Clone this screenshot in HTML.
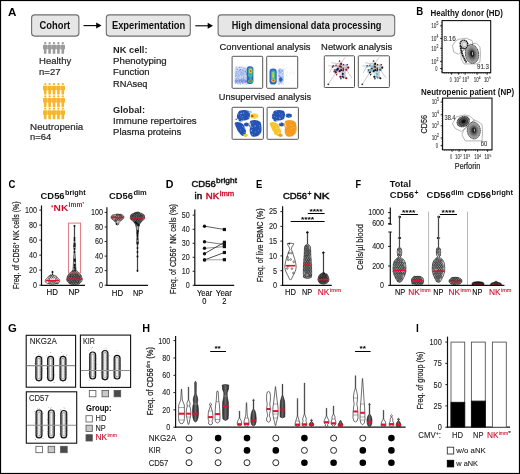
<!DOCTYPE html>
<html><head><meta charset="utf-8"><style>
html,body{margin:0;padding:0;background:#fff;}
svg{display:block;font-family:"Liberation Sans", sans-serif;will-change:transform;}
</style></head><body>
<svg width="520" height="474" viewBox="0 0 520 474">
<defs><filter id="bl1" x="-20%" y="-20%" width="140%" height="140%"><feGaussianBlur stdDeviation="0.7"/></filter>
<filter id="bl2" x="-20%" y="-20%" width="140%" height="140%"><feGaussianBlur stdDeviation="0.45"/></filter><linearGradient id="colg" x1="0" y1="0" x2="1" y2="0"><stop offset="0" stop-color="#888"/><stop offset="0.25" stop-color="#bbb"/><stop offset="0.5" stop-color="#fafafa"/><stop offset="0.75" stop-color="#bbb"/><stop offset="1" stop-color="#888"/></linearGradient>
<radialGradient id="mainblob"><stop offset="0" stop-color="#2a2a2a"/><stop offset="0.4" stop-color="#555"/><stop offset="0.75" stop-color="#999"/><stop offset="1" stop-color="#bbb"/></radialGradient>
<radialGradient id="darkblob"><stop offset="0" stop-color="#222"/><stop offset="0.6" stop-color="#555"/><stop offset="1" stop-color="#999"/></radialGradient>
<filter id="bl3" x="-30%" y="-30%" width="160%" height="160%"><feGaussianBlur stdDeviation="1.2"/></filter>
<linearGradient id="dkv" x1="0" y1="0" x2="1" y2="0"><stop offset="0" stop-color="#2a2a2a"/><stop offset="0.5" stop-color="#666"/><stop offset="1" stop-color="#2a2a2a"/></linearGradient>
</defs>
<rect x="0" y="0" width="520" height="474" fill="#fff"/>
<text x="8.00" y="16.00" font-size="10.92" font-weight="bold" fill="#000" textLength="8.40" lengthAdjust="spacingAndGlyphs" >A</text>
<rect x="31.60" y="14.90" width="47.30" height="21.20" fill="#e6e6e6" stroke="#6e6e6e" stroke-width="1.1" rx="3" />
<text x="39.50" y="28.70" font-size="10.07" font-weight="bold" fill="#111" textLength="30.70" lengthAdjust="spacingAndGlyphs" >Cohort</text>
<rect x="106.30" y="14.90" width="84.00" height="21.20" fill="#e6e6e6" stroke="#6e6e6e" stroke-width="1.1" rx="3" />
<text x="111.90" y="28.70" font-size="10.07" font-weight="bold" fill="#111" textLength="73.30" lengthAdjust="spacingAndGlyphs" >Experimentation</text>
<rect x="218.10" y="14.90" width="176.60" height="21.20" fill="#e6e6e6" stroke="#6e6e6e" stroke-width="1.1" rx="3" />
<text x="231.70" y="28.70" font-size="10.07" font-weight="bold" fill="#111" textLength="149.70" lengthAdjust="spacingAndGlyphs" >High dimensional data processing</text>
<line x1="83.50" y1="25.60" x2="97.50" y2="25.60" stroke="#000" stroke-width="1.1" />
<path d="M96.20,22.60 L101.50,25.60 L96.20,28.60 Z" fill="#000" stroke="none" stroke-width="1" />
<line x1="195.30" y1="25.80" x2="209.00" y2="25.80" stroke="#000" stroke-width="1.1" />
<path d="M207.70,22.80 L213.00,25.80 L207.70,28.80 Z" fill="#000" stroke="none" stroke-width="1" />
<g fill="#9b9b9b"><circle cx="45.20" cy="43.20" r="1.15"/><path d="M43.00,45.50 Q43.00,44.80 43.80,44.80 L46.60,44.80 Q47.40,44.80 47.40,45.50 L47.40,49.30 L46.50,49.30 L46.50,53.70 L43.90,53.70 L43.90,49.30 L43.00,49.30 Z"/></g>
<g fill="#9b9b9b"><circle cx="49.60" cy="43.20" r="1.15"/><path d="M47.40,45.50 Q47.40,44.80 48.20,44.80 L51.00,44.80 Q51.80,44.80 51.80,45.50 L51.80,49.30 L50.90,49.30 L50.90,53.70 L48.30,53.70 L48.30,49.30 L47.40,49.30 Z"/></g>
<g fill="#9b9b9b"><circle cx="54.00" cy="43.20" r="1.15"/><path d="M51.80,45.50 Q51.80,44.80 52.60,44.80 L55.40,44.80 Q56.20,44.80 56.20,45.50 L56.20,49.30 L55.30,49.30 L55.30,53.70 L52.70,53.70 L52.70,49.30 L51.80,49.30 Z"/></g>
<g fill="#9b9b9b"><circle cx="58.40" cy="43.20" r="1.15"/><path d="M56.20,45.50 Q56.20,44.80 57.00,44.80 L59.80,44.80 Q60.60,44.80 60.60,45.50 L60.60,49.30 L59.70,49.30 L59.70,53.70 L57.10,53.70 L57.10,49.30 L56.20,49.30 Z"/></g>
<g fill="#9b9b9b"><circle cx="62.80" cy="43.20" r="1.15"/><path d="M60.60,45.50 Q60.60,44.80 61.40,44.80 L64.20,44.80 Q65.00,44.80 65.00,45.50 L65.00,49.30 L64.10,49.30 L64.10,53.70 L61.50,53.70 L61.50,49.30 L60.60,49.30 Z"/></g>
<g fill="#f6b52c"><circle cx="45.20" cy="84.10" r="1.15"/><path d="M43.00,86.40 Q43.00,85.70 43.80,85.70 L46.60,85.70 Q47.40,85.70 47.40,86.40 L47.40,90.20 L46.50,90.20 L46.50,94.60 L43.90,94.60 L43.90,90.20 L43.00,90.20 Z"/></g>
<g fill="#f6b52c"><circle cx="49.60" cy="84.10" r="1.15"/><path d="M47.40,86.40 Q47.40,85.70 48.20,85.70 L51.00,85.70 Q51.80,85.70 51.80,86.40 L51.80,90.20 L50.90,90.20 L50.90,94.60 L48.30,94.60 L48.30,90.20 L47.40,90.20 Z"/></g>
<g fill="#f6b52c"><circle cx="54.00" cy="84.10" r="1.15"/><path d="M51.80,86.40 Q51.80,85.70 52.60,85.70 L55.40,85.70 Q56.20,85.70 56.20,86.40 L56.20,90.20 L55.30,90.20 L55.30,94.60 L52.70,94.60 L52.70,90.20 L51.80,90.20 Z"/></g>
<g fill="#f6b52c"><circle cx="58.40" cy="84.10" r="1.15"/><path d="M56.20,86.40 Q56.20,85.70 57.00,85.70 L59.80,85.70 Q60.60,85.70 60.60,86.40 L60.60,90.20 L59.70,90.20 L59.70,94.60 L57.10,94.60 L57.10,90.20 L56.20,90.20 Z"/></g>
<g fill="#f6b52c"><circle cx="62.80" cy="84.10" r="1.15"/><path d="M60.60,86.40 Q60.60,85.70 61.40,85.70 L64.20,85.70 Q65.00,85.70 65.00,86.40 L65.00,90.20 L64.10,90.20 L64.10,94.60 L61.50,94.60 L61.50,90.20 L60.60,90.20 Z"/></g>
<g fill="#f6b52c"><circle cx="45.20" cy="96.40" r="1.15"/><path d="M43.00,98.70 Q43.00,98.00 43.80,98.00 L46.60,98.00 Q47.40,98.00 47.40,98.70 L47.40,102.50 L46.50,102.50 L46.50,106.90 L43.90,106.90 L43.90,102.50 L43.00,102.50 Z"/></g>
<g fill="#f6b52c"><circle cx="49.60" cy="96.40" r="1.15"/><path d="M47.40,98.70 Q47.40,98.00 48.20,98.00 L51.00,98.00 Q51.80,98.00 51.80,98.70 L51.80,102.50 L50.90,102.50 L50.90,106.90 L48.30,106.90 L48.30,102.50 L47.40,102.50 Z"/></g>
<g fill="#f6b52c"><circle cx="54.00" cy="96.40" r="1.15"/><path d="M51.80,98.70 Q51.80,98.00 52.60,98.00 L55.40,98.00 Q56.20,98.00 56.20,98.70 L56.20,102.50 L55.30,102.50 L55.30,106.90 L52.70,106.90 L52.70,102.50 L51.80,102.50 Z"/></g>
<g fill="#f6b52c"><circle cx="58.40" cy="96.40" r="1.15"/><path d="M56.20,98.70 Q56.20,98.00 57.00,98.00 L59.80,98.00 Q60.60,98.00 60.60,98.70 L60.60,102.50 L59.70,102.50 L59.70,106.90 L57.10,106.90 L57.10,102.50 L56.20,102.50 Z"/></g>
<g fill="#f6b52c"><circle cx="62.80" cy="96.40" r="1.15"/><path d="M60.60,98.70 Q60.60,98.00 61.40,98.00 L64.20,98.00 Q65.00,98.00 65.00,98.70 L65.00,102.50 L64.10,102.50 L64.10,106.90 L61.50,106.90 L61.50,102.50 L60.60,102.50 Z"/></g>
<g fill="#f6b52c"><circle cx="45.20" cy="108.70" r="1.15"/><path d="M43.00,111.00 Q43.00,110.30 43.80,110.30 L46.60,110.30 Q47.40,110.30 47.40,111.00 L47.40,114.80 L46.50,114.80 L46.50,119.20 L43.90,119.20 L43.90,114.80 L43.00,114.80 Z"/></g>
<g fill="#f6b52c"><circle cx="49.60" cy="108.70" r="1.15"/><path d="M47.40,111.00 Q47.40,110.30 48.20,110.30 L51.00,110.30 Q51.80,110.30 51.80,111.00 L51.80,114.80 L50.90,114.80 L50.90,119.20 L48.30,119.20 L48.30,114.80 L47.40,114.80 Z"/></g>
<g fill="#f6b52c"><circle cx="54.00" cy="108.70" r="1.15"/><path d="M51.80,111.00 Q51.80,110.30 52.60,110.30 L55.40,110.30 Q56.20,110.30 56.20,111.00 L56.20,114.80 L55.30,114.80 L55.30,119.20 L52.70,119.20 L52.70,114.80 L51.80,114.80 Z"/></g>
<g fill="#f6b52c"><circle cx="58.40" cy="108.70" r="1.15"/><path d="M56.20,111.00 Q56.20,110.30 57.00,110.30 L59.80,110.30 Q60.60,110.30 60.60,111.00 L60.60,114.80 L59.70,114.80 L59.70,119.20 L57.10,119.20 L57.10,114.80 L56.20,114.80 Z"/></g>
<g fill="#f6b52c"><circle cx="62.80" cy="108.70" r="1.15"/><path d="M60.60,111.00 Q60.60,110.30 61.40,110.30 L64.20,110.30 Q65.00,110.30 65.00,111.00 L65.00,114.80 L64.10,114.80 L64.10,119.20 L61.50,119.20 L61.50,114.80 L60.60,114.80 Z"/></g>
<text x="39.00" y="64.20" font-size="9.86" fill="#2a2a2a" textLength="32.30" lengthAdjust="spacingAndGlyphs" stroke="#2a2a2a" stroke-width="0.22" >Healthy</text>
<text x="39.00" y="75.30" font-size="9.86" fill="#2a2a2a" textLength="21.50" lengthAdjust="spacingAndGlyphs" stroke="#2a2a2a" stroke-width="0.22" >n=27</text>
<text x="30.10" y="129.80" font-size="9.86" fill="#2a2a2a" textLength="53.20" lengthAdjust="spacingAndGlyphs" stroke="#2a2a2a" stroke-width="0.22" >Neutropenia</text>
<text x="30.10" y="140.20" font-size="9.86" fill="#2a2a2a" textLength="21.20" lengthAdjust="spacingAndGlyphs" stroke="#2a2a2a" stroke-width="0.22" >n=64</text>
<text x="113.10" y="52.70" font-size="9.96" font-weight="bold" fill="#1e1e1e" textLength="34.40" lengthAdjust="spacingAndGlyphs" >NK cell:</text>
<text x="113.10" y="63.90" font-size="9.96" fill="#1e1e1e" textLength="53.60" lengthAdjust="spacingAndGlyphs" stroke="#1e1e1e" stroke-width="0.22" >Phenotyping</text>
<text x="113.10" y="75.30" font-size="9.96" fill="#1e1e1e" textLength="36.50" lengthAdjust="spacingAndGlyphs" stroke="#1e1e1e" stroke-width="0.22" >Function</text>
<text x="113.10" y="86.80" font-size="9.96" fill="#1e1e1e" textLength="34.40" lengthAdjust="spacingAndGlyphs" stroke="#1e1e1e" stroke-width="0.22" >RNAseq</text>
<text x="113.10" y="112.80" font-size="9.96" font-weight="bold" fill="#1e1e1e" textLength="31.90" lengthAdjust="spacingAndGlyphs" >Global:</text>
<text x="113.10" y="124.10" font-size="9.96" fill="#1e1e1e" textLength="83.50" lengthAdjust="spacingAndGlyphs" stroke="#1e1e1e" stroke-width="0.22" >Immune repertoires</text>
<text x="113.10" y="135.30" font-size="9.96" fill="#1e1e1e" textLength="68.10" lengthAdjust="spacingAndGlyphs" stroke="#1e1e1e" stroke-width="0.22" >Plasma proteins</text>
<text x="219.60" y="49.70" font-size="9.86" fill="#1e1e1e" textLength="90.90" lengthAdjust="spacingAndGlyphs" stroke="#1e1e1e" stroke-width="0.22" >Conventional analysis</text>
<text x="321.10" y="49.70" font-size="9.86" fill="#1e1e1e" textLength="71.10" lengthAdjust="spacingAndGlyphs" stroke="#1e1e1e" stroke-width="0.22" >Network analysis</text>
<text x="218.80" y="100.40" font-size="9.86" fill="#1e1e1e" textLength="92.40" lengthAdjust="spacingAndGlyphs" stroke="#1e1e1e" stroke-width="0.22" >Unsupervised analysis</text>
<g filter="url(#bl3)" opacity="0.55"><rect x="235" y="67.5" width="13" height="15.5" fill="#9db3ea"/><rect x="235" y="80" width="16" height="3.2" fill="#5b80d8"/></g>
<g filter="url(#bl3)" opacity="0.5"><rect x="278" y="69" width="5" height="14.5" fill="#8aa4e6"/></g>
<rect x="243.53" y="79.48" width="0.7" height="0.7" fill="#3b68d0" opacity="0.72"/>
<rect x="248.90" y="82.03" width="0.7" height="0.7" fill="#2a56c4" opacity="0.57"/>
<rect x="239.47" y="82.30" width="0.7" height="0.7" fill="#2a56c4" opacity="0.38"/>
<rect x="246.06" y="68.93" width="0.7" height="0.7" fill="#5a82dc" opacity="0.37"/>
<rect x="248.60" y="66.59" width="0.7" height="0.7" fill="#5a82dc" opacity="0.74"/>
<rect x="238.69" y="83.33" width="0.7" height="0.7" fill="#5a82dc" opacity="0.39"/>
<rect x="248.54" y="69.95" width="0.7" height="0.7" fill="#2a56c4" opacity="0.45"/>
<rect x="244.65" y="82.28" width="0.7" height="0.7" fill="#3b68d0" opacity="0.60"/>
<rect x="244.76" y="67.66" width="0.7" height="0.7" fill="#7f9fe4" opacity="0.54"/>
<rect x="239.08" y="74.92" width="0.7" height="0.7" fill="#3b68d0" opacity="0.43"/>
<rect x="248.12" y="83.11" width="0.7" height="0.7" fill="#2a56c4" opacity="0.31"/>
<rect x="245.92" y="72.91" width="0.7" height="0.7" fill="#3b68d0" opacity="0.53"/>
<rect x="244.76" y="77.41" width="0.7" height="0.7" fill="#3b68d0" opacity="0.68"/>
<rect x="240.68" y="81.84" width="0.7" height="0.7" fill="#7f9fe4" opacity="0.69"/>
<rect x="236.07" y="79.60" width="0.7" height="0.7" fill="#7f9fe4" opacity="0.32"/>
<rect x="240.44" y="79.78" width="0.7" height="0.7" fill="#3b68d0" opacity="0.46"/>
<rect x="237.38" y="80.07" width="0.7" height="0.7" fill="#7f9fe4" opacity="0.80"/>
<rect x="236.84" y="67.35" width="0.7" height="0.7" fill="#2a56c4" opacity="0.32"/>
<rect x="250.66" y="81.17" width="0.7" height="0.7" fill="#3b68d0" opacity="0.70"/>
<rect x="239.35" y="70.12" width="0.7" height="0.7" fill="#5a82dc" opacity="0.62"/>
<rect x="245.93" y="68.37" width="0.7" height="0.7" fill="#5a82dc" opacity="0.33"/>
<rect x="240.60" y="68.97" width="0.7" height="0.7" fill="#5a82dc" opacity="0.79"/>
<rect x="241.08" y="75.04" width="0.7" height="0.7" fill="#2a56c4" opacity="0.44"/>
<rect x="248.15" y="81.04" width="0.7" height="0.7" fill="#5a82dc" opacity="0.61"/>
<rect x="248.88" y="81.26" width="0.7" height="0.7" fill="#7f9fe4" opacity="0.33"/>
<rect x="246.03" y="72.72" width="0.7" height="0.7" fill="#3b68d0" opacity="0.68"/>
<rect x="242.77" y="83.23" width="0.7" height="0.7" fill="#7f9fe4" opacity="0.78"/>
<rect x="239.43" y="69.63" width="0.7" height="0.7" fill="#2a56c4" opacity="0.57"/>
<rect x="238.14" y="78.25" width="0.7" height="0.7" fill="#7f9fe4" opacity="0.47"/>
<rect x="243.84" y="79.41" width="0.7" height="0.7" fill="#7f9fe4" opacity="0.76"/>
<rect x="237.00" y="81.67" width="0.7" height="0.7" fill="#7f9fe4" opacity="0.78"/>
<rect x="242.64" y="82.72" width="0.7" height="0.7" fill="#3b68d0" opacity="0.66"/>
<rect x="245.09" y="69.51" width="0.7" height="0.7" fill="#2a56c4" opacity="0.45"/>
<rect x="250.94" y="79.49" width="0.7" height="0.7" fill="#5a82dc" opacity="0.38"/>
<rect x="235.67" y="80.95" width="0.7" height="0.7" fill="#2a56c4" opacity="0.79"/>
<rect x="250.49" y="80.20" width="0.7" height="0.7" fill="#2a56c4" opacity="0.40"/>
<rect x="235.02" y="74.64" width="0.7" height="0.7" fill="#3b68d0" opacity="0.60"/>
<rect x="241.56" y="80.83" width="0.7" height="0.7" fill="#3b68d0" opacity="0.64"/>
<rect x="242.44" y="83.38" width="0.7" height="0.7" fill="#7f9fe4" opacity="0.35"/>
<rect x="242.41" y="72.44" width="0.7" height="0.7" fill="#7f9fe4" opacity="0.71"/>
<rect x="240.58" y="80.73" width="0.7" height="0.7" fill="#7f9fe4" opacity="0.53"/>
<rect x="236.77" y="73.20" width="0.7" height="0.7" fill="#5a82dc" opacity="0.78"/>
<rect x="243.32" y="72.64" width="0.7" height="0.7" fill="#3b68d0" opacity="0.49"/>
<rect x="239.23" y="82.54" width="0.7" height="0.7" fill="#7f9fe4" opacity="0.61"/>
<rect x="247.42" y="73.08" width="0.7" height="0.7" fill="#5a82dc" opacity="0.55"/>
<rect x="241.45" y="78.90" width="0.7" height="0.7" fill="#5a82dc" opacity="0.60"/>
<rect x="238.27" y="83.67" width="0.7" height="0.7" fill="#2a56c4" opacity="0.31"/>
<rect x="248.21" y="71.88" width="0.7" height="0.7" fill="#5a82dc" opacity="0.54"/>
<rect x="236.27" y="77.38" width="0.7" height="0.7" fill="#7f9fe4" opacity="0.32"/>
<rect x="236.48" y="73.37" width="0.7" height="0.7" fill="#7f9fe4" opacity="0.42"/>
<rect x="241.38" y="67.14" width="0.7" height="0.7" fill="#5a82dc" opacity="0.66"/>
<rect x="238.64" y="75.11" width="0.7" height="0.7" fill="#3b68d0" opacity="0.31"/>
<rect x="236.33" y="71.44" width="0.7" height="0.7" fill="#7f9fe4" opacity="0.67"/>
<rect x="234.89" y="72.62" width="0.7" height="0.7" fill="#5a82dc" opacity="0.32"/>
<rect x="238.16" y="74.47" width="0.7" height="0.7" fill="#5a82dc" opacity="0.31"/>
<rect x="245.79" y="73.99" width="0.7" height="0.7" fill="#2a56c4" opacity="0.73"/>
<rect x="246.70" y="74.83" width="0.7" height="0.7" fill="#5a82dc" opacity="0.75"/>
<rect x="235.05" y="81.95" width="0.7" height="0.7" fill="#2a56c4" opacity="0.59"/>
<rect x="249.22" y="82.28" width="0.7" height="0.7" fill="#7f9fe4" opacity="0.57"/>
<rect x="246.72" y="82.83" width="0.7" height="0.7" fill="#7f9fe4" opacity="0.71"/>
<rect x="250.97" y="81.02" width="0.7" height="0.7" fill="#2a56c4" opacity="0.32"/>
<rect x="246.71" y="70.34" width="0.7" height="0.7" fill="#3b68d0" opacity="0.66"/>
<rect x="236.45" y="71.62" width="0.7" height="0.7" fill="#5a82dc" opacity="0.39"/>
<rect x="238.41" y="78.77" width="0.7" height="0.7" fill="#3b68d0" opacity="0.63"/>
<rect x="245.31" y="71.40" width="0.7" height="0.7" fill="#3b68d0" opacity="0.67"/>
<rect x="247.24" y="68.85" width="0.7" height="0.7" fill="#7f9fe4" opacity="0.64"/>
<rect x="241.60" y="72.68" width="0.7" height="0.7" fill="#3b68d0" opacity="0.37"/>
<rect x="238.77" y="76.45" width="0.7" height="0.7" fill="#7f9fe4" opacity="0.76"/>
<rect x="247.01" y="80.77" width="0.7" height="0.7" fill="#5a82dc" opacity="0.70"/>
<rect x="247.02" y="74.43" width="0.7" height="0.7" fill="#5a82dc" opacity="0.66"/>
<rect x="244.00" y="67.99" width="0.7" height="0.7" fill="#3b68d0" opacity="0.73"/>
<rect x="241.84" y="74.44" width="0.7" height="0.7" fill="#2a56c4" opacity="0.54"/>
<rect x="246.60" y="81.26" width="0.7" height="0.7" fill="#3b68d0" opacity="0.72"/>
<rect x="248.20" y="74.01" width="0.7" height="0.7" fill="#3b68d0" opacity="0.34"/>
<rect x="248.37" y="81.21" width="0.7" height="0.7" fill="#7f9fe4" opacity="0.47"/>
<rect x="243.40" y="72.60" width="0.7" height="0.7" fill="#5a82dc" opacity="0.66"/>
<rect x="239.70" y="71.68" width="0.7" height="0.7" fill="#7f9fe4" opacity="0.56"/>
<rect x="243.09" y="76.53" width="0.7" height="0.7" fill="#2a56c4" opacity="0.33"/>
<rect x="242.84" y="80.57" width="0.7" height="0.7" fill="#2a56c4" opacity="0.63"/>
<rect x="240.17" y="83.57" width="0.7" height="0.7" fill="#2a56c4" opacity="0.35"/>
<rect x="236.74" y="69.28" width="0.7" height="0.7" fill="#2a56c4" opacity="0.73"/>
<rect x="248.09" y="80.60" width="0.7" height="0.7" fill="#7f9fe4" opacity="0.64"/>
<rect x="235.94" y="81.51" width="0.7" height="0.7" fill="#3b68d0" opacity="0.64"/>
<rect x="245.70" y="80.63" width="0.7" height="0.7" fill="#7f9fe4" opacity="0.53"/>
<rect x="245.50" y="81.21" width="0.7" height="0.7" fill="#2a56c4" opacity="0.76"/>
<rect x="240.78" y="80.22" width="0.7" height="0.7" fill="#3b68d0" opacity="0.67"/>
<rect x="245.33" y="80.38" width="0.7" height="0.7" fill="#2a56c4" opacity="0.66"/>
<rect x="238.43" y="74.58" width="0.7" height="0.7" fill="#2a56c4" opacity="0.38"/>
<rect x="234.98" y="81.12" width="0.7" height="0.7" fill="#7f9fe4" opacity="0.77"/>
<rect x="244.89" y="70.65" width="0.7" height="0.7" fill="#3b68d0" opacity="0.77"/>
<rect x="241.36" y="79.40" width="0.7" height="0.7" fill="#3b68d0" opacity="0.32"/>
<rect x="246.58" y="74.30" width="0.7" height="0.7" fill="#3b68d0" opacity="0.78"/>
<rect x="237.32" y="78.68" width="0.7" height="0.7" fill="#5a82dc" opacity="0.57"/>
<rect x="244.57" y="79.32" width="0.7" height="0.7" fill="#5a82dc" opacity="0.61"/>
<rect x="240.90" y="72.76" width="0.7" height="0.7" fill="#2a56c4" opacity="0.56"/>
<rect x="236.42" y="66.72" width="0.7" height="0.7" fill="#2a56c4" opacity="0.75"/>
<rect x="242.73" y="80.91" width="0.7" height="0.7" fill="#7f9fe4" opacity="0.71"/>
<rect x="241.86" y="81.51" width="0.7" height="0.7" fill="#5a82dc" opacity="0.44"/>
<rect x="241.64" y="70.85" width="0.7" height="0.7" fill="#7f9fe4" opacity="0.74"/>
<rect x="247.34" y="67.76" width="0.7" height="0.7" fill="#2a56c4" opacity="0.68"/>
<rect x="242.56" y="82.18" width="0.7" height="0.7" fill="#5a82dc" opacity="0.59"/>
<rect x="240.91" y="80.79" width="0.7" height="0.7" fill="#3b68d0" opacity="0.66"/>
<rect x="244.67" y="71.18" width="0.7" height="0.7" fill="#2a56c4" opacity="0.58"/>
<rect x="242.96" y="81.92" width="0.7" height="0.7" fill="#7f9fe4" opacity="0.44"/>
<rect x="235.42" y="79.87" width="0.7" height="0.7" fill="#3b68d0" opacity="0.36"/>
<rect x="248.56" y="80.96" width="0.7" height="0.7" fill="#7f9fe4" opacity="0.77"/>
<rect x="243.37" y="70.54" width="0.7" height="0.7" fill="#7f9fe4" opacity="0.40"/>
<rect x="239.69" y="69.36" width="0.7" height="0.7" fill="#5a82dc" opacity="0.66"/>
<rect x="250.02" y="81.23" width="0.7" height="0.7" fill="#2a56c4" opacity="0.36"/>
<rect x="239.10" y="82.51" width="0.7" height="0.7" fill="#2a56c4" opacity="0.39"/>
<rect x="242.57" y="80.45" width="0.7" height="0.7" fill="#2a56c4" opacity="0.60"/>
<rect x="236.00" y="80.75" width="0.7" height="0.7" fill="#3b68d0" opacity="0.40"/>
<rect x="242.43" y="81.24" width="0.7" height="0.7" fill="#5a82dc" opacity="0.44"/>
<rect x="237.42" y="76.34" width="0.7" height="0.7" fill="#5a82dc" opacity="0.48"/>
<rect x="246.23" y="80.75" width="0.7" height="0.7" fill="#3b68d0" opacity="0.61"/>
<rect x="240.31" y="69.00" width="0.7" height="0.7" fill="#2a56c4" opacity="0.49"/>
<rect x="235.86" y="73.45" width="0.7" height="0.7" fill="#7f9fe4" opacity="0.75"/>
<rect x="245.93" y="80.60" width="0.7" height="0.7" fill="#3b68d0" opacity="0.70"/>
<rect x="239.96" y="66.68" width="0.7" height="0.7" fill="#5a82dc" opacity="0.71"/>
<rect x="234.82" y="78.36" width="0.7" height="0.7" fill="#2a56c4" opacity="0.55"/>
<rect x="242.41" y="78.59" width="0.7" height="0.7" fill="#3b68d0" opacity="0.57"/>
<rect x="246.08" y="72.85" width="0.7" height="0.7" fill="#5a82dc" opacity="0.44"/>
<rect x="235.63" y="68.03" width="0.7" height="0.7" fill="#2a56c4" opacity="0.45"/>
<rect x="247.97" y="71.31" width="0.7" height="0.7" fill="#3b68d0" opacity="0.32"/>
<rect x="249.92" y="80.43" width="0.7" height="0.7" fill="#5a82dc" opacity="0.54"/>
<rect x="247.57" y="82.94" width="0.7" height="0.7" fill="#2a56c4" opacity="0.50"/>
<rect x="249.56" y="80.27" width="0.7" height="0.7" fill="#7f9fe4" opacity="0.49"/>
<rect x="236.08" y="78.55" width="0.7" height="0.7" fill="#7f9fe4" opacity="0.42"/>
<rect x="235.95" y="71.64" width="0.7" height="0.7" fill="#3b68d0" opacity="0.75"/>
<rect x="236.93" y="77.57" width="0.7" height="0.7" fill="#5a82dc" opacity="0.63"/>
<rect x="242.76" y="77.46" width="0.7" height="0.7" fill="#2a56c4" opacity="0.51"/>
<rect x="240.67" y="75.75" width="0.7" height="0.7" fill="#7f9fe4" opacity="0.51"/>
<rect x="241.75" y="79.74" width="0.7" height="0.7" fill="#5a82dc" opacity="0.36"/>
<rect x="245.34" y="81.99" width="0.7" height="0.7" fill="#7f9fe4" opacity="0.66"/>
<rect x="235.39" y="74.98" width="0.7" height="0.7" fill="#3b68d0" opacity="0.46"/>
<rect x="246.83" y="77.79" width="0.7" height="0.7" fill="#5a82dc" opacity="0.75"/>
<rect x="243.42" y="80.46" width="0.7" height="0.7" fill="#3b68d0" opacity="0.40"/>
<rect x="244.85" y="82.75" width="0.7" height="0.7" fill="#3b68d0" opacity="0.59"/>
<rect x="240.90" y="72.15" width="0.7" height="0.7" fill="#5a82dc" opacity="0.66"/>
<rect x="247.90" y="83.25" width="0.7" height="0.7" fill="#3b68d0" opacity="0.48"/>
<rect x="250.81" y="82.48" width="0.7" height="0.7" fill="#3b68d0" opacity="0.42"/>
<rect x="250.69" y="83.36" width="0.7" height="0.7" fill="#7f9fe4" opacity="0.37"/>
<rect x="250.00" y="81.44" width="0.7" height="0.7" fill="#7f9fe4" opacity="0.31"/>
<rect x="246.24" y="83.98" width="0.7" height="0.7" fill="#5a82dc" opacity="0.76"/>
<rect x="240.04" y="71.59" width="0.7" height="0.7" fill="#3b68d0" opacity="0.59"/>
<rect x="238.79" y="72.40" width="0.7" height="0.7" fill="#2a56c4" opacity="0.33"/>
<rect x="240.60" y="70.66" width="0.7" height="0.7" fill="#3b68d0" opacity="0.37"/>
<rect x="248.53" y="76.18" width="0.7" height="0.7" fill="#5a82dc" opacity="0.57"/>
<rect x="240.69" y="80.34" width="0.7" height="0.7" fill="#3b68d0" opacity="0.30"/>
<rect x="241.13" y="81.49" width="0.7" height="0.7" fill="#3b68d0" opacity="0.33"/>
<rect x="237.67" y="83.55" width="0.7" height="0.7" fill="#2a56c4" opacity="0.56"/>
<rect x="248.36" y="76.97" width="0.7" height="0.7" fill="#2a56c4" opacity="0.55"/>
<rect x="235.27" y="73.37" width="0.7" height="0.7" fill="#2a56c4" opacity="0.73"/>
<rect x="248.13" y="78.07" width="0.7" height="0.7" fill="#3b68d0" opacity="0.41"/>
<rect x="240.61" y="79.16" width="0.7" height="0.7" fill="#2a56c4" opacity="0.76"/>
<rect x="239.99" y="83.98" width="0.7" height="0.7" fill="#7f9fe4" opacity="0.37"/>
<rect x="245.82" y="73.89" width="0.7" height="0.7" fill="#7f9fe4" opacity="0.41"/>
<rect x="240.61" y="71.24" width="0.7" height="0.7" fill="#7f9fe4" opacity="0.30"/>
<rect x="243.68" y="79.96" width="0.7" height="0.7" fill="#3b68d0" opacity="0.34"/>
<rect x="240.03" y="82.20" width="0.7" height="0.7" fill="#5a82dc" opacity="0.62"/>
<rect x="242.33" y="82.61" width="0.7" height="0.7" fill="#2a56c4" opacity="0.42"/>
<rect x="239.27" y="81.92" width="0.7" height="0.7" fill="#7f9fe4" opacity="0.47"/>
<rect x="237.61" y="71.64" width="0.7" height="0.7" fill="#3b68d0" opacity="0.44"/>
<rect x="249.50" y="82.47" width="0.7" height="0.7" fill="#2a56c4" opacity="0.78"/>
<rect x="237.14" y="79.94" width="0.7" height="0.7" fill="#2a56c4" opacity="0.63"/>
<rect x="238.72" y="81.04" width="0.7" height="0.7" fill="#5a82dc" opacity="0.70"/>
<rect x="235.34" y="80.81" width="0.7" height="0.7" fill="#7f9fe4" opacity="0.52"/>
<rect x="235.99" y="68.66" width="0.7" height="0.7" fill="#7f9fe4" opacity="0.66"/>
<rect x="248.09" y="83.12" width="0.7" height="0.7" fill="#7f9fe4" opacity="0.72"/>
<rect x="243.07" y="78.44" width="0.7" height="0.7" fill="#3b68d0" opacity="0.67"/>
<rect x="242.17" y="73.30" width="0.7" height="0.7" fill="#7f9fe4" opacity="0.71"/>
<rect x="239.91" y="73.65" width="0.7" height="0.7" fill="#3b68d0" opacity="0.55"/>
<rect x="242.71" y="70.13" width="0.7" height="0.7" fill="#3b68d0" opacity="0.67"/>
<rect x="236.19" y="81.99" width="0.7" height="0.7" fill="#7f9fe4" opacity="0.43"/>
<rect x="238.50" y="80.21" width="0.7" height="0.7" fill="#7f9fe4" opacity="0.43"/>
<rect x="247.63" y="82.11" width="0.7" height="0.7" fill="#7f9fe4" opacity="0.60"/>
<rect x="247.19" y="82.52" width="0.7" height="0.7" fill="#5a82dc" opacity="0.58"/>
<rect x="244.78" y="80.02" width="0.7" height="0.7" fill="#3b68d0" opacity="0.31"/>
<rect x="240.47" y="73.72" width="0.7" height="0.7" fill="#2a56c4" opacity="0.61"/>
<rect x="236.02" y="81.92" width="0.7" height="0.7" fill="#3b68d0" opacity="0.32"/>
<rect x="244.88" y="71.82" width="0.7" height="0.7" fill="#3b68d0" opacity="0.78"/>
<rect x="244.36" y="71.28" width="0.7" height="0.7" fill="#7f9fe4" opacity="0.43"/>
<rect x="238.83" y="66.53" width="0.7" height="0.7" fill="#2a56c4" opacity="0.53"/>
<rect x="236.41" y="82.14" width="0.7" height="0.7" fill="#7f9fe4" opacity="0.80"/>
<rect x="243.78" y="74.16" width="0.7" height="0.7" fill="#2a56c4" opacity="0.39"/>
<rect x="236.51" y="75.10" width="0.7" height="0.7" fill="#2a56c4" opacity="0.77"/>
<rect x="239.49" y="66.80" width="0.7" height="0.7" fill="#2a56c4" opacity="0.55"/>
<rect x="237.69" y="81.28" width="0.7" height="0.7" fill="#7f9fe4" opacity="0.72"/>
<rect x="239.23" y="80.19" width="0.7" height="0.7" fill="#3b68d0" opacity="0.78"/>
<rect x="236.65" y="83.14" width="0.7" height="0.7" fill="#7f9fe4" opacity="0.72"/>
<rect x="242.95" y="67.37" width="0.7" height="0.7" fill="#2a56c4" opacity="0.39"/>
<rect x="239.99" y="82.80" width="0.7" height="0.7" fill="#7f9fe4" opacity="0.66"/>
<rect x="239.82" y="79.89" width="0.7" height="0.7" fill="#5a82dc" opacity="0.32"/>
<rect x="235.87" y="79.40" width="0.7" height="0.7" fill="#2a56c4" opacity="0.35"/>
<rect x="236.73" y="80.74" width="0.7" height="0.7" fill="#7f9fe4" opacity="0.77"/>
<rect x="247.30" y="81.17" width="0.7" height="0.7" fill="#3b68d0" opacity="0.61"/>
<rect x="235.88" y="77.96" width="0.7" height="0.7" fill="#2a56c4" opacity="0.52"/>
<rect x="238.45" y="76.14" width="0.7" height="0.7" fill="#2a56c4" opacity="0.32"/>
<rect x="238.07" y="81.15" width="0.7" height="0.7" fill="#3b68d0" opacity="0.37"/>
<rect x="235.28" y="82.93" width="0.7" height="0.7" fill="#2a56c4" opacity="0.58"/>
<rect x="237.66" y="80.97" width="0.7" height="0.7" fill="#7f9fe4" opacity="0.53"/>
<rect x="250.20" y="80.59" width="0.7" height="0.7" fill="#3b68d0" opacity="0.52"/>
<rect x="237.89" y="70.87" width="0.7" height="0.7" fill="#2a56c4" opacity="0.43"/>
<rect x="241.23" y="78.34" width="0.7" height="0.7" fill="#2a56c4" opacity="0.35"/>
<rect x="242.92" y="70.91" width="0.7" height="0.7" fill="#3b68d0" opacity="0.57"/>
<rect x="244.24" y="80.87" width="0.7" height="0.7" fill="#2a56c4" opacity="0.62"/>
<rect x="241.59" y="81.79" width="0.7" height="0.7" fill="#7f9fe4" opacity="0.60"/>
<rect x="235.34" y="71.55" width="0.7" height="0.7" fill="#7f9fe4" opacity="0.51"/>
<rect x="248.66" y="68.74" width="0.7" height="0.7" fill="#3b68d0" opacity="0.30"/>
<rect x="248.18" y="71.97" width="0.7" height="0.7" fill="#7f9fe4" opacity="0.51"/>
<rect x="246.38" y="81.36" width="0.7" height="0.7" fill="#3b68d0" opacity="0.38"/>
<rect x="241.67" y="66.52" width="0.7" height="0.7" fill="#2a56c4" opacity="0.72"/>
<rect x="235.13" y="75.87" width="0.7" height="0.7" fill="#3b68d0" opacity="0.67"/>
<rect x="236.95" y="69.49" width="0.7" height="0.7" fill="#2a56c4" opacity="0.63"/>
<rect x="239.38" y="80.32" width="0.7" height="0.7" fill="#3b68d0" opacity="0.40"/>
<rect x="237.92" y="67.67" width="0.7" height="0.7" fill="#7f9fe4" opacity="0.52"/>
<rect x="238.94" y="79.37" width="0.7" height="0.7" fill="#2a56c4" opacity="0.69"/>
<rect x="245.04" y="82.11" width="0.7" height="0.7" fill="#3b68d0" opacity="0.37"/>
<rect x="235.32" y="66.75" width="0.7" height="0.7" fill="#3b68d0" opacity="0.39"/>
<rect x="247.39" y="82.23" width="0.7" height="0.7" fill="#7f9fe4" opacity="0.56"/>
<rect x="234.86" y="80.42" width="0.7" height="0.7" fill="#2a56c4" opacity="0.72"/>
<rect x="243.40" y="79.03" width="0.7" height="0.7" fill="#5a82dc" opacity="0.31"/>
<rect x="236.60" y="82.33" width="0.7" height="0.7" fill="#7f9fe4" opacity="0.74"/>
<rect x="235.93" y="81.87" width="0.7" height="0.7" fill="#5a82dc" opacity="0.66"/>
<rect x="240.14" y="69.41" width="0.7" height="0.7" fill="#2a56c4" opacity="0.64"/>
<rect x="237.65" y="73.55" width="0.7" height="0.7" fill="#2a56c4" opacity="0.78"/>
<rect x="239.27" y="80.77" width="0.7" height="0.7" fill="#3b68d0" opacity="0.74"/>
<rect x="247.80" y="80.38" width="0.7" height="0.7" fill="#2a56c4" opacity="0.67"/>
<rect x="237.44" y="76.69" width="0.7" height="0.7" fill="#3b68d0" opacity="0.40"/>
<rect x="242.24" y="81.20" width="0.7" height="0.7" fill="#3b68d0" opacity="0.65"/>
<rect x="240.78" y="80.77" width="0.7" height="0.7" fill="#5a82dc" opacity="0.30"/>
<rect x="235.10" y="79.74" width="0.7" height="0.7" fill="#2a56c4" opacity="0.78"/>
<rect x="246.59" y="72.21" width="0.7" height="0.7" fill="#3b68d0" opacity="0.54"/>
<rect x="239.83" y="83.79" width="0.7" height="0.7" fill="#7f9fe4" opacity="0.68"/>
<rect x="241.43" y="80.56" width="0.7" height="0.7" fill="#7f9fe4" opacity="0.60"/>
<rect x="242.29" y="69.49" width="0.7" height="0.7" fill="#2a56c4" opacity="0.79"/>
<rect x="242.75" y="79.78" width="0.7" height="0.7" fill="#3b68d0" opacity="0.63"/>
<rect x="243.12" y="68.15" width="0.7" height="0.7" fill="#2a56c4" opacity="0.39"/>
<rect x="245.07" y="81.35" width="0.7" height="0.7" fill="#3b68d0" opacity="0.76"/>
<rect x="247.41" y="79.88" width="0.7" height="0.7" fill="#3b68d0" opacity="0.32"/>
<rect x="241.94" y="74.72" width="0.7" height="0.7" fill="#5a82dc" opacity="0.51"/>
<rect x="243.43" y="76.52" width="0.7" height="0.7" fill="#5a82dc" opacity="0.74"/>
<rect x="237.56" y="80.76" width="0.7" height="0.7" fill="#2a56c4" opacity="0.34"/>
<rect x="239.47" y="70.16" width="0.7" height="0.7" fill="#2a56c4" opacity="0.46"/>
<rect x="250.45" y="82.22" width="0.7" height="0.7" fill="#3b68d0" opacity="0.60"/>
<rect x="247.40" y="71.92" width="0.7" height="0.7" fill="#7f9fe4" opacity="0.56"/>
<rect x="235.86" y="75.43" width="0.7" height="0.7" fill="#2a56c4" opacity="0.63"/>
<rect x="243.42" y="73.60" width="0.7" height="0.7" fill="#5a82dc" opacity="0.33"/>
<rect x="239.18" y="67.16" width="0.7" height="0.7" fill="#2a56c4" opacity="0.60"/>
<rect x="243.06" y="69.57" width="0.7" height="0.7" fill="#7f9fe4" opacity="0.32"/>
<rect x="236.08" y="79.72" width="0.7" height="0.7" fill="#3b68d0" opacity="0.76"/>
<rect x="238.78" y="71.61" width="0.7" height="0.7" fill="#5a82dc" opacity="0.32"/>
<rect x="248.65" y="81.09" width="0.7" height="0.7" fill="#2a56c4" opacity="0.61"/>
<rect x="246.79" y="69.60" width="0.7" height="0.7" fill="#7f9fe4" opacity="0.72"/>
<rect x="249.73" y="80.38" width="0.7" height="0.7" fill="#7f9fe4" opacity="0.77"/>
<rect x="248.13" y="73.33" width="0.7" height="0.7" fill="#7f9fe4" opacity="0.37"/>
<rect x="245.34" y="79.23" width="0.7" height="0.7" fill="#7f9fe4" opacity="0.39"/>
<rect x="248.77" y="66.67" width="0.7" height="0.7" fill="#7f9fe4" opacity="0.43"/>
<rect x="243.48" y="74.15" width="0.7" height="0.7" fill="#2a56c4" opacity="0.36"/>
<rect x="249.00" y="80.23" width="0.7" height="0.7" fill="#3b68d0" opacity="0.75"/>
<g filter="url(#bl1)">
<rect x="246.8" y="66.2" width="6.6" height="17.8" rx="3" fill="#2f62d0"/>
<rect x="248.2" y="67.6" width="4.4" height="10" rx="2.1" fill="#3bc47a"/>
<ellipse cx="250.6" cy="71" rx="1.7" ry="2.3" fill="#f6d21a"/>
<ellipse cx="250.6" cy="71" rx="0.9" ry="1.3" fill="#f0451c"/>
<ellipse cx="250.6" cy="81.2" rx="2.8" ry="1.7" fill="#3bc47a"/>
<ellipse cx="250.6" cy="81.2" rx="1.3" ry="0.9" fill="#f0451c"/>
<rect x="249.6" y="73" width="2" height="7" fill="#40b0a8"/>
</g>
<rect x="282.17" y="73.25" width="0.7" height="0.7" fill="#5a82dc" opacity="0.47"/>
<rect x="279.59" y="81.63" width="0.7" height="0.7" fill="#3b68d0" opacity="0.32"/>
<rect x="280.50" y="72.74" width="0.7" height="0.7" fill="#7f9fe4" opacity="0.40"/>
<rect x="283.03" y="83.88" width="0.7" height="0.7" fill="#5a82dc" opacity="0.69"/>
<rect x="278.83" y="75.57" width="0.7" height="0.7" fill="#3b68d0" opacity="0.65"/>
<rect x="282.05" y="70.18" width="0.7" height="0.7" fill="#7f9fe4" opacity="0.46"/>
<rect x="278.99" y="69.51" width="0.7" height="0.7" fill="#3b68d0" opacity="0.69"/>
<rect x="282.87" y="77.56" width="0.7" height="0.7" fill="#5a82dc" opacity="0.69"/>
<rect x="279.03" y="71.12" width="0.7" height="0.7" fill="#5a82dc" opacity="0.45"/>
<rect x="279.85" y="72.24" width="0.7" height="0.7" fill="#5a82dc" opacity="0.72"/>
<rect x="282.10" y="75.78" width="0.7" height="0.7" fill="#3b68d0" opacity="0.73"/>
<rect x="281.88" y="79.84" width="0.7" height="0.7" fill="#7f9fe4" opacity="0.41"/>
<rect x="281.49" y="70.00" width="0.7" height="0.7" fill="#5a82dc" opacity="0.32"/>
<rect x="279.06" y="75.59" width="0.7" height="0.7" fill="#3b68d0" opacity="0.67"/>
<rect x="283.05" y="73.46" width="0.7" height="0.7" fill="#3b68d0" opacity="0.78"/>
<rect x="280.42" y="81.47" width="0.7" height="0.7" fill="#7f9fe4" opacity="0.30"/>
<rect x="283.18" y="76.59" width="0.7" height="0.7" fill="#5a82dc" opacity="0.46"/>
<rect x="281.31" y="81.75" width="0.7" height="0.7" fill="#7f9fe4" opacity="0.45"/>
<rect x="278.40" y="68.64" width="0.7" height="0.7" fill="#7f9fe4" opacity="0.40"/>
<rect x="282.96" y="77.24" width="0.7" height="0.7" fill="#3b68d0" opacity="0.41"/>
<rect x="278.73" y="78.80" width="0.7" height="0.7" fill="#7f9fe4" opacity="0.41"/>
<rect x="282.55" y="70.65" width="0.7" height="0.7" fill="#3b68d0" opacity="0.36"/>
<rect x="281.05" y="79.43" width="0.7" height="0.7" fill="#7f9fe4" opacity="0.60"/>
<rect x="278.83" y="75.31" width="0.7" height="0.7" fill="#5a82dc" opacity="0.65"/>
<rect x="277.97" y="71.39" width="0.7" height="0.7" fill="#5a82dc" opacity="0.70"/>
<rect x="281.40" y="78.98" width="0.7" height="0.7" fill="#7f9fe4" opacity="0.47"/>
<rect x="280.35" y="76.59" width="0.7" height="0.7" fill="#3b68d0" opacity="0.45"/>
<rect x="280.86" y="77.88" width="0.7" height="0.7" fill="#7f9fe4" opacity="0.69"/>
<rect x="279.77" y="81.49" width="0.7" height="0.7" fill="#7f9fe4" opacity="0.60"/>
<rect x="279.52" y="71.51" width="0.7" height="0.7" fill="#7f9fe4" opacity="0.58"/>
<rect x="278.67" y="70.08" width="0.7" height="0.7" fill="#3b68d0" opacity="0.76"/>
<rect x="278.58" y="76.97" width="0.7" height="0.7" fill="#3b68d0" opacity="0.43"/>
<rect x="278.47" y="74.70" width="0.7" height="0.7" fill="#5a82dc" opacity="0.34"/>
<rect x="279.61" y="79.27" width="0.7" height="0.7" fill="#7f9fe4" opacity="0.42"/>
<rect x="281.12" y="83.12" width="0.7" height="0.7" fill="#5a82dc" opacity="0.52"/>
<rect x="279.05" y="75.94" width="0.7" height="0.7" fill="#5a82dc" opacity="0.79"/>
<rect x="279.94" y="82.32" width="0.7" height="0.7" fill="#5a82dc" opacity="0.77"/>
<rect x="277.87" y="83.82" width="0.7" height="0.7" fill="#5a82dc" opacity="0.61"/>
<rect x="277.77" y="76.33" width="0.7" height="0.7" fill="#7f9fe4" opacity="0.43"/>
<rect x="280.52" y="71.22" width="0.7" height="0.7" fill="#5a82dc" opacity="0.61"/>
<rect x="281.18" y="78.89" width="0.7" height="0.7" fill="#5a82dc" opacity="0.65"/>
<rect x="281.76" y="79.41" width="0.7" height="0.7" fill="#3b68d0" opacity="0.58"/>
<rect x="282.21" y="78.73" width="0.7" height="0.7" fill="#5a82dc" opacity="0.68"/>
<rect x="278.86" y="76.13" width="0.7" height="0.7" fill="#7f9fe4" opacity="0.73"/>
<rect x="278.56" y="81.08" width="0.7" height="0.7" fill="#5a82dc" opacity="0.77"/>
<rect x="280.16" y="77.28" width="0.7" height="0.7" fill="#3b68d0" opacity="0.46"/>
<rect x="281.78" y="83.32" width="0.7" height="0.7" fill="#3b68d0" opacity="0.36"/>
<rect x="280.18" y="75.76" width="0.7" height="0.7" fill="#7f9fe4" opacity="0.69"/>
<rect x="282.66" y="70.77" width="0.7" height="0.7" fill="#5a82dc" opacity="0.65"/>
<rect x="281.58" y="70.67" width="0.7" height="0.7" fill="#3b68d0" opacity="0.70"/>
<rect x="282.47" y="69.50" width="0.7" height="0.7" fill="#5a82dc" opacity="0.52"/>
<rect x="278.60" y="70.35" width="0.7" height="0.7" fill="#3b68d0" opacity="0.47"/>
<rect x="282.12" y="76.74" width="0.7" height="0.7" fill="#7f9fe4" opacity="0.56"/>
<rect x="282.03" y="73.77" width="0.7" height="0.7" fill="#3b68d0" opacity="0.79"/>
<rect x="280.46" y="76.15" width="0.7" height="0.7" fill="#7f9fe4" opacity="0.75"/>
<rect x="279.44" y="80.43" width="0.7" height="0.7" fill="#7f9fe4" opacity="0.46"/>
<rect x="280.50" y="69.16" width="0.7" height="0.7" fill="#3b68d0" opacity="0.57"/>
<rect x="279.02" y="83.57" width="0.7" height="0.7" fill="#3b68d0" opacity="0.71"/>
<rect x="278.95" y="78.85" width="0.7" height="0.7" fill="#7f9fe4" opacity="0.55"/>
<rect x="283.02" y="72.12" width="0.7" height="0.7" fill="#5a82dc" opacity="0.43"/>
<rect x="279.68" y="68.50" width="0.7" height="0.7" fill="#3b68d0" opacity="0.70"/>
<rect x="278.92" y="72.95" width="0.7" height="0.7" fill="#3b68d0" opacity="0.77"/>
<rect x="279.63" y="72.37" width="0.7" height="0.7" fill="#5a82dc" opacity="0.35"/>
<rect x="280.85" y="72.42" width="0.7" height="0.7" fill="#7f9fe4" opacity="0.56"/>
<rect x="279.11" y="70.73" width="0.7" height="0.7" fill="#3b68d0" opacity="0.35"/>
<rect x="279.30" y="70.75" width="0.7" height="0.7" fill="#3b68d0" opacity="0.46"/>
<rect x="283.18" y="69.18" width="0.7" height="0.7" fill="#7f9fe4" opacity="0.51"/>
<rect x="277.52" y="72.52" width="0.7" height="0.7" fill="#7f9fe4" opacity="0.66"/>
<rect x="281.92" y="81.07" width="0.7" height="0.7" fill="#3b68d0" opacity="0.46"/>
<rect x="280.86" y="70.65" width="0.7" height="0.7" fill="#7f9fe4" opacity="0.75"/>
<rect x="278.40" y="83.80" width="0.7" height="0.7" fill="#7f9fe4" opacity="0.73"/>
<rect x="279.17" y="75.27" width="0.7" height="0.7" fill="#7f9fe4" opacity="0.30"/>
<rect x="280.38" y="79.95" width="0.7" height="0.7" fill="#5a82dc" opacity="0.35"/>
<rect x="280.62" y="69.66" width="0.7" height="0.7" fill="#5a82dc" opacity="0.35"/>
<rect x="281.00" y="78.44" width="0.7" height="0.7" fill="#7f9fe4" opacity="0.61"/>
<rect x="280.64" y="78.94" width="0.7" height="0.7" fill="#7f9fe4" opacity="0.54"/>
<rect x="280.63" y="71.63" width="0.7" height="0.7" fill="#7f9fe4" opacity="0.31"/>
<rect x="278.23" y="74.78" width="0.7" height="0.7" fill="#3b68d0" opacity="0.78"/>
<rect x="280.31" y="77.19" width="0.7" height="0.7" fill="#5a82dc" opacity="0.75"/>
<rect x="279.05" y="72.01" width="0.7" height="0.7" fill="#5a82dc" opacity="0.54"/>
<rect x="277.91" y="69.82" width="0.7" height="0.7" fill="#7f9fe4" opacity="0.57"/>
<rect x="283.43" y="75.20" width="0.7" height="0.7" fill="#7f9fe4" opacity="0.74"/>
<rect x="283.12" y="78.80" width="0.7" height="0.7" fill="#3b68d0" opacity="0.42"/>
<rect x="280.60" y="82.00" width="0.7" height="0.7" fill="#3b68d0" opacity="0.40"/>
<rect x="278.91" y="69.49" width="0.7" height="0.7" fill="#7f9fe4" opacity="0.51"/>
<rect x="278.84" y="83.15" width="0.7" height="0.7" fill="#7f9fe4" opacity="0.55"/>
<rect x="282.20" y="70.58" width="0.7" height="0.7" fill="#3b68d0" opacity="0.73"/>
<rect x="280.40" y="82.23" width="0.7" height="0.7" fill="#5a82dc" opacity="0.34"/>
<rect x="280.27" y="78.86" width="0.7" height="0.7" fill="#5a82dc" opacity="0.72"/>
<rect x="283.11" y="79.77" width="0.7" height="0.7" fill="#3b68d0" opacity="0.56"/>
<rect x="290.25" y="72.68" width="0.6" height="0.6" fill="#9fb3e8" opacity="0.5"/>
<rect x="286.37" y="75.34" width="0.6" height="0.6" fill="#9fb3e8" opacity="0.5"/>
<rect x="291.18" y="72.69" width="0.6" height="0.6" fill="#9fb3e8" opacity="0.5"/>
<rect x="291.64" y="81.30" width="0.6" height="0.6" fill="#9fb3e8" opacity="0.5"/>
<rect x="287.19" y="73.40" width="0.6" height="0.6" fill="#9fb3e8" opacity="0.5"/>
<rect x="289.64" y="73.58" width="0.6" height="0.6" fill="#9fb3e8" opacity="0.5"/>
<rect x="292.20" y="69.96" width="0.6" height="0.6" fill="#9fb3e8" opacity="0.5"/>
<rect x="284.99" y="78.83" width="0.6" height="0.6" fill="#9fb3e8" opacity="0.5"/>
<rect x="293.09" y="72.15" width="0.6" height="0.6" fill="#9fb3e8" opacity="0.5"/>
<rect x="283.49" y="79.99" width="0.6" height="0.6" fill="#9fb3e8" opacity="0.5"/>
<rect x="293.00" y="73.70" width="0.6" height="0.6" fill="#9fb3e8" opacity="0.5"/>
<rect x="288.78" y="81.98" width="0.6" height="0.6" fill="#9fb3e8" opacity="0.5"/>
<rect x="290.39" y="68.05" width="0.6" height="0.6" fill="#9fb3e8" opacity="0.5"/>
<rect x="293.98" y="72.66" width="0.6" height="0.6" fill="#9fb3e8" opacity="0.5"/>
<rect x="287.35" y="76.15" width="0.6" height="0.6" fill="#9fb3e8" opacity="0.5"/>
<rect x="287.16" y="71.66" width="0.6" height="0.6" fill="#9fb3e8" opacity="0.5"/>
<rect x="285.50" y="68.82" width="0.6" height="0.6" fill="#9fb3e8" opacity="0.5"/>
<rect x="286.66" y="81.10" width="0.6" height="0.6" fill="#9fb3e8" opacity="0.5"/>
<rect x="286.42" y="71.89" width="0.6" height="0.6" fill="#9fb3e8" opacity="0.5"/>
<rect x="285.54" y="82.10" width="0.6" height="0.6" fill="#9fb3e8" opacity="0.5"/>
<rect x="292.83" y="79.64" width="0.6" height="0.6" fill="#9fb3e8" opacity="0.5"/>
<rect x="286.61" y="67.57" width="0.6" height="0.6" fill="#9fb3e8" opacity="0.5"/>
<rect x="288.47" y="83.38" width="0.6" height="0.6" fill="#9fb3e8" opacity="0.5"/>
<rect x="283.98" y="68.66" width="0.6" height="0.6" fill="#9fb3e8" opacity="0.5"/>
<rect x="286.61" y="78.56" width="0.6" height="0.6" fill="#9fb3e8" opacity="0.5"/>
<g filter="url(#bl1)">
<rect x="269.5" y="68.4" width="7.2" height="16.2" rx="3.4" fill="#2f62d0"/>
<rect x="270.9" y="70.3" width="4.5" height="12.4" rx="2.2" fill="#35b98e"/>
<rect x="272.2" y="72" width="2" height="6" rx="1" fill="#c8d23a"/>
<ellipse cx="273.5" cy="80.3" rx="1.9" ry="1.9" fill="#f6d21a"/>
<ellipse cx="273.5" cy="80.3" rx="1.1" ry="1.1" fill="#ee3a1a"/>
<ellipse cx="280.8" cy="79.5" rx="1.8" ry="2.3" fill="#2f5fc9"/>
</g>
<g filter="url(#bl2)">
<path d="M239,111 Q244,109 249,111 Q251,114 249,119 Q245,121.5 240,121 Q236,119 237,115 Z" fill="#2452b5"/>
<path d="M250,121 Q256,118.5 260.5,122 Q262.5,128 261,133 Q257,138 252,136.5 Q248.5,133 250,128 Q248,124 250,121 Z" fill="#2452b5"/>
<path d="M235,122.5 Q239,121 243,124 Q246.5,129 246,133 Q244.5,137.5 241,135 Q237,131 236,127 Q234,124 235,122.5 Z" fill="#2452b5"/>
<ellipse cx="246.5" cy="124.5" rx="2.6" ry="2" fill="#2452b5"/>
<ellipse cx="241" cy="120" rx="2.5" ry="1.5" fill="#2452b5"/>
<ellipse cx="236.2" cy="119.3" rx="0.8" ry="0.8" fill="#2452b5"/>
<ellipse cx="254.2" cy="116" rx="4.2" ry="2.7" fill="#f2d436"/>
<ellipse cx="252.3" cy="116" rx="1.4" ry="1.3" fill="#ee4a1a"/>
<ellipse cx="250.3" cy="112" rx="1.5" ry="1.5" fill="#9ad0d4"/>
<ellipse cx="245.6" cy="135.3" rx="2.1" ry="1.6" fill="#e8c832"/>
<ellipse cx="249.5" cy="124.2" rx="1" ry="1" fill="#e8d840"/>
</g>
<g filter="url(#bl2)">
<path d="M274,111 Q279,109 284,111 Q286,114 284,119 Q280,121.5 275,121 Q271,119 272,115 Z" fill="#2452b5"/>
<path d="M285,121 Q291,118.5 295.5,122 Q297.5,128 296,133 Q292,138 287,136.5 Q283.5,133 285,128 Q283,124 285,121 Z" fill="#f49a1e"/>
<path d="M270,122.5 Q274,121 278,124 Q281.5,129 281,133 Q279.5,137.5 276,135 Q272,131 271,127 Q269,124 270,122.5 Z" fill="#f6c42a"/>
<ellipse cx="281.5" cy="124.5" rx="2.6" ry="2" fill="#2452b5"/>
<ellipse cx="276" cy="120" rx="2.5" ry="1.5" fill="#2452b5"/>
<ellipse cx="288.8" cy="115.6" rx="3.2" ry="2.2" fill="#2452b5"/>
<ellipse cx="280.6" cy="135.3" rx="2.1" ry="1.6" fill="#f49a1e"/>
<ellipse cx="276" cy="133" rx="2" ry="2" fill="#f6c42a"/>
</g>
<rect x="249.93" y="127.37" width="0.6" height="0.6" fill="#fff" opacity="0.8"/>
<rect x="256.34" y="117.79" width="0.6" height="0.6" fill="#fff" opacity="0.8"/>
<rect x="252.05" y="134.35" width="0.6" height="0.6" fill="#fff" opacity="0.8"/>
<rect x="258.73" y="115.34" width="0.6" height="0.6" fill="#fff" opacity="0.8"/>
<rect x="252.04" y="126.96" width="0.6" height="0.6" fill="#fff" opacity="0.8"/>
<rect x="248.19" y="136.39" width="0.6" height="0.6" fill="#fff" opacity="0.8"/>
<rect x="248.83" y="122.32" width="0.6" height="0.6" fill="#fff" opacity="0.8"/>
<rect x="259.63" y="127.46" width="0.6" height="0.6" fill="#fff" opacity="0.8"/>
<rect x="242.93" y="118.65" width="0.6" height="0.6" fill="#fff" opacity="0.8"/>
<rect x="248.00" y="111.72" width="0.6" height="0.6" fill="#fff" opacity="0.8"/>
<rect x="250.90" y="130.17" width="0.6" height="0.6" fill="#fff" opacity="0.8"/>
<rect x="246.18" y="133.16" width="0.6" height="0.6" fill="#fff" opacity="0.8"/>
<rect x="259.23" y="125.30" width="0.6" height="0.6" fill="#fff" opacity="0.8"/>
<rect x="252.82" y="113.47" width="0.6" height="0.6" fill="#fff" opacity="0.8"/>
<rect x="236.56" y="136.76" width="0.6" height="0.6" fill="#fff" opacity="0.8"/>
<rect x="242.50" y="116.06" width="0.6" height="0.6" fill="#fff" opacity="0.8"/>
<rect x="258.41" y="130.55" width="0.6" height="0.6" fill="#fff" opacity="0.8"/>
<rect x="238.30" y="118.99" width="0.6" height="0.6" fill="#fff" opacity="0.8"/>
<rect x="241.41" y="117.66" width="0.6" height="0.6" fill="#fff" opacity="0.8"/>
<rect x="235.27" y="124.47" width="0.6" height="0.6" fill="#fff" opacity="0.8"/>
<rect x="243.01" y="120.94" width="0.6" height="0.6" fill="#fff" opacity="0.8"/>
<rect x="239.92" y="113.27" width="0.6" height="0.6" fill="#fff" opacity="0.8"/>
<rect x="235.96" y="133.86" width="0.6" height="0.6" fill="#fff" opacity="0.8"/>
<rect x="254.53" y="125.41" width="0.6" height="0.6" fill="#fff" opacity="0.8"/>
<rect x="238.32" y="114.32" width="0.6" height="0.6" fill="#fff" opacity="0.8"/>
<rect x="238.21" y="118.85" width="0.6" height="0.6" fill="#fff" opacity="0.8"/>
<rect x="236.60" y="117.74" width="0.6" height="0.6" fill="#fff" opacity="0.8"/>
<rect x="240.38" y="115.51" width="0.6" height="0.6" fill="#fff" opacity="0.8"/>
<rect x="252.10" y="122.66" width="0.6" height="0.6" fill="#fff" opacity="0.8"/>
<rect x="247.41" y="119.97" width="0.6" height="0.6" fill="#fff" opacity="0.8"/>
<rect x="249.11" y="131.50" width="0.6" height="0.6" fill="#fff" opacity="0.8"/>
<rect x="243.11" y="112.20" width="0.6" height="0.6" fill="#fff" opacity="0.8"/>
<rect x="247.61" y="120.54" width="0.6" height="0.6" fill="#fff" opacity="0.8"/>
<rect x="255.39" y="113.30" width="0.6" height="0.6" fill="#fff" opacity="0.8"/>
<rect x="257.79" y="110.70" width="0.6" height="0.6" fill="#fff" opacity="0.8"/>
<rect x="249.20" y="122.28" width="0.6" height="0.6" fill="#fff" opacity="0.8"/>
<rect x="243.30" y="134.30" width="0.6" height="0.6" fill="#fff" opacity="0.8"/>
<rect x="253.35" y="114.71" width="0.6" height="0.6" fill="#fff" opacity="0.8"/>
<rect x="247.97" y="126.83" width="0.6" height="0.6" fill="#fff" opacity="0.8"/>
<rect x="235.97" y="112.66" width="0.6" height="0.6" fill="#fff" opacity="0.8"/>
<rect x="250.75" y="130.00" width="0.6" height="0.6" fill="#fff" opacity="0.8"/>
<rect x="247.13" y="121.70" width="0.6" height="0.6" fill="#fff" opacity="0.8"/>
<rect x="248.28" y="117.34" width="0.6" height="0.6" fill="#fff" opacity="0.8"/>
<rect x="257.89" y="136.27" width="0.6" height="0.6" fill="#fff" opacity="0.8"/>
<rect x="247.63" y="110.85" width="0.6" height="0.6" fill="#fff" opacity="0.8"/>
<rect x="245.42" y="131.98" width="0.6" height="0.6" fill="#fff" opacity="0.8"/>
<rect x="243.55" y="113.15" width="0.6" height="0.6" fill="#fff" opacity="0.8"/>
<rect x="239.92" y="129.52" width="0.6" height="0.6" fill="#fff" opacity="0.8"/>
<rect x="251.27" y="118.03" width="0.6" height="0.6" fill="#fff" opacity="0.8"/>
<rect x="251.31" y="130.84" width="0.6" height="0.6" fill="#fff" opacity="0.8"/>
<rect x="260.22" y="132.75" width="0.6" height="0.6" fill="#fff" opacity="0.8"/>
<rect x="246.38" y="132.16" width="0.6" height="0.6" fill="#fff" opacity="0.8"/>
<rect x="259.16" y="133.76" width="0.6" height="0.6" fill="#fff" opacity="0.8"/>
<rect x="254.61" y="126.14" width="0.6" height="0.6" fill="#fff" opacity="0.8"/>
<rect x="248.40" y="133.26" width="0.6" height="0.6" fill="#fff" opacity="0.8"/>
<rect x="251.35" y="129.77" width="0.6" height="0.6" fill="#fff" opacity="0.8"/>
<rect x="241.03" y="112.79" width="0.6" height="0.6" fill="#fff" opacity="0.8"/>
<rect x="242.13" y="126.05" width="0.6" height="0.6" fill="#fff" opacity="0.8"/>
<rect x="250.00" y="115.66" width="0.6" height="0.6" fill="#fff" opacity="0.8"/>
<rect x="240.00" y="135.95" width="0.6" height="0.6" fill="#fff" opacity="0.8"/>
<rect x="236.96" y="135.31" width="0.6" height="0.6" fill="#fff" opacity="0.8"/>
<rect x="255.17" y="125.79" width="0.6" height="0.6" fill="#fff" opacity="0.8"/>
<rect x="260.98" y="128.65" width="0.6" height="0.6" fill="#fff" opacity="0.8"/>
<rect x="235.28" y="135.66" width="0.6" height="0.6" fill="#fff" opacity="0.8"/>
<rect x="245.85" y="135.05" width="0.6" height="0.6" fill="#fff" opacity="0.8"/>
<rect x="256.26" y="114.03" width="0.6" height="0.6" fill="#fff" opacity="0.8"/>
<rect x="236.13" y="110.86" width="0.6" height="0.6" fill="#fff" opacity="0.8"/>
<rect x="255.40" y="131.67" width="0.6" height="0.6" fill="#fff" opacity="0.8"/>
<rect x="241.03" y="113.34" width="0.6" height="0.6" fill="#fff" opacity="0.8"/>
<rect x="244.63" y="131.88" width="0.6" height="0.6" fill="#fff" opacity="0.8"/>
<line x1="241.10" y1="120.80" x2="250.10" y2="121.50" stroke="#fff" stroke-width="0.7" />
<line x1="244.10" y1="127.30" x2="249.10" y2="133.30" stroke="#fff" stroke-width="0.7" />
<line x1="249.10" y1="119.80" x2="251.10" y2="127.30" stroke="#fff" stroke-width="0.7" />
<rect x="289.36" y="133.71" width="0.6" height="0.6" fill="#fff" opacity="0.8"/>
<rect x="295.27" y="130.68" width="0.6" height="0.6" fill="#fff" opacity="0.8"/>
<rect x="291.83" y="110.74" width="0.6" height="0.6" fill="#fff" opacity="0.8"/>
<rect x="270.27" y="133.59" width="0.6" height="0.6" fill="#fff" opacity="0.8"/>
<rect x="286.19" y="119.12" width="0.6" height="0.6" fill="#fff" opacity="0.8"/>
<rect x="273.43" y="119.28" width="0.6" height="0.6" fill="#fff" opacity="0.8"/>
<rect x="278.92" y="123.68" width="0.6" height="0.6" fill="#fff" opacity="0.8"/>
<rect x="281.80" y="115.76" width="0.6" height="0.6" fill="#fff" opacity="0.8"/>
<rect x="272.23" y="115.78" width="0.6" height="0.6" fill="#fff" opacity="0.8"/>
<rect x="273.43" y="113.01" width="0.6" height="0.6" fill="#fff" opacity="0.8"/>
<rect x="280.88" y="113.81" width="0.6" height="0.6" fill="#fff" opacity="0.8"/>
<rect x="290.90" y="125.01" width="0.6" height="0.6" fill="#fff" opacity="0.8"/>
<rect x="282.06" y="127.56" width="0.6" height="0.6" fill="#fff" opacity="0.8"/>
<rect x="276.21" y="110.93" width="0.6" height="0.6" fill="#fff" opacity="0.8"/>
<rect x="272.14" y="119.40" width="0.6" height="0.6" fill="#fff" opacity="0.8"/>
<rect x="279.49" y="117.12" width="0.6" height="0.6" fill="#fff" opacity="0.8"/>
<rect x="278.07" y="132.81" width="0.6" height="0.6" fill="#fff" opacity="0.8"/>
<rect x="270.32" y="122.42" width="0.6" height="0.6" fill="#fff" opacity="0.8"/>
<rect x="280.06" y="117.92" width="0.6" height="0.6" fill="#fff" opacity="0.8"/>
<rect x="288.95" y="116.36" width="0.6" height="0.6" fill="#fff" opacity="0.8"/>
<rect x="271.20" y="114.61" width="0.6" height="0.6" fill="#fff" opacity="0.8"/>
<rect x="295.54" y="119.64" width="0.6" height="0.6" fill="#fff" opacity="0.8"/>
<rect x="273.14" y="136.51" width="0.6" height="0.6" fill="#fff" opacity="0.8"/>
<rect x="286.87" y="136.12" width="0.6" height="0.6" fill="#fff" opacity="0.8"/>
<rect x="278.72" y="132.17" width="0.6" height="0.6" fill="#fff" opacity="0.8"/>
<rect x="271.18" y="116.71" width="0.6" height="0.6" fill="#fff" opacity="0.8"/>
<rect x="290.76" y="124.23" width="0.6" height="0.6" fill="#fff" opacity="0.8"/>
<rect x="290.62" y="120.72" width="0.6" height="0.6" fill="#fff" opacity="0.8"/>
<rect x="292.89" y="112.39" width="0.6" height="0.6" fill="#fff" opacity="0.8"/>
<rect x="286.31" y="115.39" width="0.6" height="0.6" fill="#fff" opacity="0.8"/>
<rect x="275.28" y="134.14" width="0.6" height="0.6" fill="#fff" opacity="0.8"/>
<rect x="281.28" y="132.24" width="0.6" height="0.6" fill="#fff" opacity="0.8"/>
<rect x="277.48" y="130.02" width="0.6" height="0.6" fill="#fff" opacity="0.8"/>
<rect x="293.69" y="127.23" width="0.6" height="0.6" fill="#fff" opacity="0.8"/>
<rect x="276.20" y="128.34" width="0.6" height="0.6" fill="#fff" opacity="0.8"/>
<rect x="294.82" y="131.93" width="0.6" height="0.6" fill="#fff" opacity="0.8"/>
<rect x="281.64" y="121.08" width="0.6" height="0.6" fill="#fff" opacity="0.8"/>
<rect x="272.66" y="131.05" width="0.6" height="0.6" fill="#fff" opacity="0.8"/>
<rect x="274.21" y="116.20" width="0.6" height="0.6" fill="#fff" opacity="0.8"/>
<rect x="270.96" y="114.73" width="0.6" height="0.6" fill="#fff" opacity="0.8"/>
<rect x="280.08" y="123.17" width="0.6" height="0.6" fill="#fff" opacity="0.8"/>
<rect x="274.66" y="121.76" width="0.6" height="0.6" fill="#fff" opacity="0.8"/>
<rect x="289.81" y="112.92" width="0.6" height="0.6" fill="#fff" opacity="0.8"/>
<rect x="273.62" y="124.40" width="0.6" height="0.6" fill="#fff" opacity="0.8"/>
<rect x="293.60" y="135.08" width="0.6" height="0.6" fill="#fff" opacity="0.8"/>
<rect x="284.90" y="112.77" width="0.6" height="0.6" fill="#fff" opacity="0.8"/>
<rect x="292.82" y="137.10" width="0.6" height="0.6" fill="#fff" opacity="0.8"/>
<rect x="293.48" y="124.64" width="0.6" height="0.6" fill="#fff" opacity="0.8"/>
<rect x="280.05" y="126.15" width="0.6" height="0.6" fill="#fff" opacity="0.8"/>
<rect x="290.65" y="137.15" width="0.6" height="0.6" fill="#fff" opacity="0.8"/>
<rect x="282.93" y="123.98" width="0.6" height="0.6" fill="#fff" opacity="0.8"/>
<rect x="278.17" y="124.88" width="0.6" height="0.6" fill="#fff" opacity="0.8"/>
<rect x="284.24" y="117.94" width="0.6" height="0.6" fill="#fff" opacity="0.8"/>
<rect x="282.01" y="135.02" width="0.6" height="0.6" fill="#fff" opacity="0.8"/>
<rect x="276.23" y="117.15" width="0.6" height="0.6" fill="#fff" opacity="0.8"/>
<rect x="278.02" y="133.48" width="0.6" height="0.6" fill="#fff" opacity="0.8"/>
<rect x="277.98" y="132.63" width="0.6" height="0.6" fill="#fff" opacity="0.8"/>
<rect x="294.25" y="133.94" width="0.6" height="0.6" fill="#fff" opacity="0.8"/>
<rect x="291.01" y="115.56" width="0.6" height="0.6" fill="#fff" opacity="0.8"/>
<rect x="281.81" y="132.53" width="0.6" height="0.6" fill="#fff" opacity="0.8"/>
<rect x="276.49" y="126.55" width="0.6" height="0.6" fill="#fff" opacity="0.8"/>
<rect x="292.75" y="135.51" width="0.6" height="0.6" fill="#fff" opacity="0.8"/>
<rect x="279.22" y="113.52" width="0.6" height="0.6" fill="#fff" opacity="0.8"/>
<rect x="270.91" y="118.85" width="0.6" height="0.6" fill="#fff" opacity="0.8"/>
<rect x="284.33" y="117.87" width="0.6" height="0.6" fill="#fff" opacity="0.8"/>
<rect x="291.52" y="127.85" width="0.6" height="0.6" fill="#fff" opacity="0.8"/>
<rect x="286.25" y="132.63" width="0.6" height="0.6" fill="#fff" opacity="0.8"/>
<rect x="278.64" y="127.85" width="0.6" height="0.6" fill="#fff" opacity="0.8"/>
<rect x="279.22" y="118.11" width="0.6" height="0.6" fill="#fff" opacity="0.8"/>
<rect x="273.08" y="131.59" width="0.6" height="0.6" fill="#fff" opacity="0.8"/>
<line x1="276.10" y1="120.80" x2="285.10" y2="121.50" stroke="#fff" stroke-width="0.7" />
<line x1="279.10" y1="127.30" x2="284.10" y2="133.30" stroke="#fff" stroke-width="0.7" />
<line x1="284.10" y1="119.80" x2="286.10" y2="127.30" stroke="#fff" stroke-width="0.7" />
<line x1="339.86" y1="66.31" x2="328.30" y2="84.30" stroke="#a07078" stroke-width="0.4" />
<line x1="346.34" y1="69.67" x2="351.80" y2="77.80" stroke="#a07078" stroke-width="0.4" />
<line x1="340.64" y1="66.72" x2="328.30" y2="65.80" stroke="#a07078" stroke-width="0.4" />
<line x1="341.13" y1="63.97" x2="331.30" y2="62.80" stroke="#a07078" stroke-width="0.4" />
<line x1="336.15" y1="69.68" x2="345.30" y2="57.30" stroke="#a07078" stroke-width="0.4" />
<line x1="337.90" y1="68.79" x2="349.30" y2="66.80" stroke="#a07078" stroke-width="0.4" />
<line x1="333.22" y1="65.71" x2="329.30" y2="72.80" stroke="#a07078" stroke-width="0.4" />
<line x1="341.13" y1="63.97" x2="332.51" y2="67.11" stroke="#b0a0a4" stroke-width="0.3" />
<line x1="343.24" y1="68.32" x2="340.92" y2="78.81" stroke="#b0a0a4" stroke-width="0.3" />
<line x1="343.44" y1="69.90" x2="335.84" y2="72.47" stroke="#b0a0a4" stroke-width="0.3" />
<line x1="347.26" y1="64.75" x2="336.15" y2="69.68" stroke="#b0a0a4" stroke-width="0.3" />
<line x1="346.28" y1="78.23" x2="343.44" y2="69.90" stroke="#b0a0a4" stroke-width="0.3" />
<line x1="335.84" y1="72.47" x2="341.13" y2="63.97" stroke="#b0a0a4" stroke-width="0.3" />
<line x1="340.15" y1="66.16" x2="343.77" y2="77.73" stroke="#b0a0a4" stroke-width="0.3" />
<line x1="341.13" y1="63.97" x2="340.64" y2="66.72" stroke="#b0a0a4" stroke-width="0.3" />
<line x1="341.13" y1="63.97" x2="343.77" y2="77.73" stroke="#b0a0a4" stroke-width="0.3" />
<line x1="340.92" y1="78.81" x2="339.44" y2="71.32" stroke="#b0a0a4" stroke-width="0.3" />
<line x1="339.76" y1="71.12" x2="347.26" y2="64.75" stroke="#b0a0a4" stroke-width="0.3" />
<line x1="346.34" y1="69.67" x2="340.15" y2="66.16" stroke="#b0a0a4" stroke-width="0.3" />
<line x1="341.39" y1="66.96" x2="343.05" y2="70.79" stroke="#b0a0a4" stroke-width="0.3" />
<line x1="337.90" y1="68.79" x2="337.17" y2="69.84" stroke="#b0a0a4" stroke-width="0.3" />
<line x1="333.22" y1="65.71" x2="337.90" y2="68.79" stroke="#b0a0a4" stroke-width="0.3" />
<line x1="336.15" y1="69.68" x2="341.13" y2="63.97" stroke="#b0a0a4" stroke-width="0.3" />
<line x1="343.24" y1="68.32" x2="334.30" y2="69.95" stroke="#b0a0a4" stroke-width="0.3" />
<line x1="335.84" y1="72.47" x2="339.86" y2="66.31" stroke="#b0a0a4" stroke-width="0.3" />
<line x1="343.55" y1="69.63" x2="343.55" y2="69.63" stroke="#b0a0a4" stroke-width="0.3" />
<line x1="333.22" y1="65.71" x2="341.39" y2="66.96" stroke="#b0a0a4" stroke-width="0.3" />
<line x1="346.28" y1="78.23" x2="343.05" y2="70.79" stroke="#b0a0a4" stroke-width="0.3" />
<line x1="346.28" y1="78.23" x2="343.44" y2="69.90" stroke="#b0a0a4" stroke-width="0.3" />
<line x1="341.39" y1="66.96" x2="340.33" y2="76.82" stroke="#b0a0a4" stroke-width="0.3" />
<line x1="334.30" y1="69.95" x2="348.23" y2="67.65" stroke="#b0a0a4" stroke-width="0.3" />
<line x1="335.25" y1="71.35" x2="339.76" y2="71.12" stroke="#b0a0a4" stroke-width="0.3" />
<line x1="336.15" y1="69.68" x2="340.15" y2="66.16" stroke="#b0a0a4" stroke-width="0.3" />
<line x1="332.51" y1="67.11" x2="347.26" y2="64.75" stroke="#b0a0a4" stroke-width="0.3" />
<line x1="343.51" y1="64.71" x2="348.23" y2="67.65" stroke="#b0a0a4" stroke-width="0.3" />
<line x1="346.34" y1="69.67" x2="334.30" y2="69.95" stroke="#b0a0a4" stroke-width="0.3" />
<line x1="347.26" y1="64.75" x2="340.92" y2="78.81" stroke="#b0a0a4" stroke-width="0.3" />
<line x1="336.15" y1="69.68" x2="339.86" y2="66.31" stroke="#b0a0a4" stroke-width="0.3" />
<line x1="348.23" y1="67.65" x2="339.52" y2="60.98" stroke="#b0a0a4" stroke-width="0.3" />
<line x1="334.30" y1="69.95" x2="343.55" y2="69.63" stroke="#b0a0a4" stroke-width="0.3" />
<line x1="336.15" y1="69.68" x2="343.44" y2="69.90" stroke="#b0a0a4" stroke-width="0.3" />
<line x1="336.57" y1="74.80" x2="341.18" y2="70.19" stroke="#b0a0a4" stroke-width="0.3" />
<line x1="336.15" y1="69.68" x2="341.13" y2="63.97" stroke="#b0a0a4" stroke-width="0.3" />
<line x1="341.39" y1="66.96" x2="335.25" y2="71.35" stroke="#b0a0a4" stroke-width="0.3" />
<line x1="339.76" y1="71.12" x2="342.81" y2="73.92" stroke="#b0a0a4" stroke-width="0.3" />
<line x1="339.52" y1="60.98" x2="336.05" y2="65.35" stroke="#b0a0a4" stroke-width="0.3" />
<line x1="343.55" y1="69.63" x2="339.52" y2="60.98" stroke="#b0a0a4" stroke-width="0.3" />
<line x1="343.51" y1="64.71" x2="340.15" y2="66.16" stroke="#b0a0a4" stroke-width="0.3" />
<line x1="334.30" y1="69.95" x2="341.13" y2="63.97" stroke="#b0a0a4" stroke-width="0.3" />
<line x1="343.24" y1="68.32" x2="339.76" y2="71.12" stroke="#b0a0a4" stroke-width="0.3" />
<line x1="339.44" y1="71.32" x2="346.28" y2="78.23" stroke="#b0a0a4" stroke-width="0.3" />
<line x1="340.64" y1="66.72" x2="340.64" y2="66.72" stroke="#b0a0a4" stroke-width="0.3" />
<line x1="334.30" y1="69.95" x2="343.44" y2="69.90" stroke="#b0a0a4" stroke-width="0.3" />
<line x1="343.51" y1="64.71" x2="335.25" y2="71.35" stroke="#b0a0a4" stroke-width="0.3" />
<line x1="340.64" y1="66.72" x2="336.57" y2="74.80" stroke="#b0a0a4" stroke-width="0.3" />
<line x1="339.44" y1="71.32" x2="335.84" y2="72.47" stroke="#b0a0a4" stroke-width="0.3" />
<line x1="336.57" y1="74.80" x2="347.26" y2="64.75" stroke="#b0a0a4" stroke-width="0.3" />
<line x1="339.52" y1="60.98" x2="342.81" y2="73.92" stroke="#b0a0a4" stroke-width="0.3" />
<line x1="343.77" y1="77.73" x2="346.34" y2="69.67" stroke="#b0a0a4" stroke-width="0.3" />
<line x1="343.44" y1="69.90" x2="343.05" y2="70.79" stroke="#b0a0a4" stroke-width="0.3" />
<line x1="346.34" y1="69.67" x2="343.77" y2="77.73" stroke="#b0a0a4" stroke-width="0.3" />
<line x1="343.77" y1="77.73" x2="342.65" y2="76.65" stroke="#b0a0a4" stroke-width="0.3" />
<line x1="334.30" y1="69.95" x2="343.05" y2="70.79" stroke="#b0a0a4" stroke-width="0.3" />
<line x1="334.09" y1="71.71" x2="339.76" y2="71.12" stroke="#b0a0a4" stroke-width="0.3" />
<line x1="342.65" y1="76.65" x2="346.34" y2="69.67" stroke="#b0a0a4" stroke-width="0.3" />
<line x1="347.26" y1="64.75" x2="333.22" y2="65.71" stroke="#b0a0a4" stroke-width="0.3" />
<line x1="339.86" y1="66.31" x2="339.44" y2="71.32" stroke="#b0a0a4" stroke-width="0.3" />
<line x1="332.51" y1="67.11" x2="341.13" y2="63.97" stroke="#b0a0a4" stroke-width="0.3" />
<line x1="343.55" y1="69.63" x2="340.64" y2="66.72" stroke="#b0a0a4" stroke-width="0.3" />
<line x1="340.64" y1="66.72" x2="340.64" y2="66.72" stroke="#b0a0a4" stroke-width="0.3" />
<line x1="340.64" y1="66.72" x2="337.90" y2="68.79" stroke="#b0a0a4" stroke-width="0.3" />
<line x1="341.18" y1="70.19" x2="340.64" y2="66.72" stroke="#b0a0a4" stroke-width="0.3" />
<line x1="341.13" y1="63.97" x2="337.17" y2="69.84" stroke="#b0a0a4" stroke-width="0.3" />
<line x1="336.15" y1="69.68" x2="343.24" y2="68.32" stroke="#b0a0a4" stroke-width="0.3" />
<line x1="335.25" y1="71.35" x2="343.51" y2="64.71" stroke="#b0a0a4" stroke-width="0.3" />
<line x1="340.15" y1="66.16" x2="348.23" y2="67.65" stroke="#b0a0a4" stroke-width="0.3" />
<line x1="341.13" y1="63.97" x2="337.90" y2="68.79" stroke="#b0a0a4" stroke-width="0.3" />
<circle cx="342.65" cy="76.65" r="1.10" fill="#1c1c5c"/>
<circle cx="336.05" cy="65.35" r="0.75" fill="#7a1426"/>
<circle cx="340.92" cy="78.81" r="0.75" fill="#1c1c5c"/>
<circle cx="341.13" cy="63.97" r="1.10" fill="#7a1426"/>
<circle cx="336.15" cy="69.68" r="0.75" fill="#1c1c5c"/>
<circle cx="343.44" cy="69.90" r="0.75" fill="#7a1426"/>
<circle cx="337.90" cy="68.79" r="1.10" fill="#1c1c5c"/>
<circle cx="340.15" cy="66.16" r="0.75" fill="#7a1426"/>
<circle cx="339.44" cy="71.32" r="0.75" fill="#1c1c5c"/>
<circle cx="346.34" cy="69.67" r="1.10" fill="#7a1426"/>
<circle cx="343.51" cy="64.71" r="0.75" fill="#1c1c5c"/>
<circle cx="343.05" cy="70.79" r="0.75" fill="#7a1426"/>
<circle cx="337.17" cy="69.84" r="1.10" fill="#1c1c5c"/>
<circle cx="343.24" cy="68.32" r="0.75" fill="#7a1426"/>
<circle cx="343.77" cy="77.73" r="0.75" fill="#1c1c5c"/>
<circle cx="346.28" cy="78.23" r="1.10" fill="#7a1426"/>
<circle cx="334.09" cy="71.71" r="0.75" fill="#1c1c5c"/>
<circle cx="336.57" cy="74.80" r="0.75" fill="#7a1426"/>
<circle cx="339.76" cy="71.12" r="1.10" fill="#1c1c5c"/>
<circle cx="341.39" cy="66.96" r="0.75" fill="#7a1426"/>
<circle cx="339.86" cy="66.31" r="0.75" fill="#1c1c5c"/>
<circle cx="348.23" cy="67.65" r="1.10" fill="#7a1426"/>
<circle cx="339.52" cy="60.98" r="0.75" fill="#1c1c5c"/>
<circle cx="333.22" cy="65.71" r="0.75" fill="#7a1426"/>
<circle cx="342.81" cy="73.92" r="1.10" fill="#1c1c5c"/>
<circle cx="340.64" cy="66.72" r="0.75" fill="#7a1426"/>
<circle cx="347.26" cy="64.75" r="0.75" fill="#1c1c5c"/>
<circle cx="335.84" cy="72.47" r="1.10" fill="#7a1426"/>
<circle cx="335.25" cy="71.35" r="0.75" fill="#1c1c5c"/>
<circle cx="343.55" cy="69.63" r="0.75" fill="#7a1426"/>
<circle cx="341.18" cy="70.19" r="1.10" fill="#1c1c5c"/>
<circle cx="334.30" cy="69.95" r="0.75" fill="#7a1426"/>
<circle cx="332.51" cy="67.11" r="0.75" fill="#1c1c5c"/>
<circle cx="340.33" cy="76.82" r="1.10" fill="#7a1426"/>
<circle cx="328.30" cy="84.30" r="0.90" fill="#3a2a6a"/>
<line x1="373.86" y1="66.31" x2="362.30" y2="84.30" stroke="#777" stroke-width="0.4" />
<line x1="380.34" y1="69.67" x2="385.80" y2="77.80" stroke="#777" stroke-width="0.4" />
<line x1="374.64" y1="66.72" x2="362.30" y2="65.80" stroke="#777" stroke-width="0.4" />
<line x1="375.13" y1="63.97" x2="365.30" y2="62.80" stroke="#777" stroke-width="0.4" />
<line x1="370.15" y1="69.68" x2="379.30" y2="57.30" stroke="#777" stroke-width="0.4" />
<line x1="371.90" y1="68.79" x2="383.30" y2="66.80" stroke="#777" stroke-width="0.4" />
<line x1="367.22" y1="65.71" x2="363.30" y2="72.80" stroke="#777" stroke-width="0.4" />
<line x1="375.13" y1="63.97" x2="366.51" y2="67.11" stroke="#aaa" stroke-width="0.3" />
<line x1="377.24" y1="68.32" x2="374.92" y2="78.81" stroke="#aaa" stroke-width="0.3" />
<line x1="377.44" y1="69.90" x2="369.84" y2="72.47" stroke="#aaa" stroke-width="0.3" />
<line x1="381.26" y1="64.75" x2="370.15" y2="69.68" stroke="#aaa" stroke-width="0.3" />
<line x1="380.28" y1="78.23" x2="377.44" y2="69.90" stroke="#aaa" stroke-width="0.3" />
<line x1="369.84" y1="72.47" x2="375.13" y2="63.97" stroke="#aaa" stroke-width="0.3" />
<line x1="374.15" y1="66.16" x2="377.77" y2="77.73" stroke="#aaa" stroke-width="0.3" />
<line x1="375.13" y1="63.97" x2="374.64" y2="66.72" stroke="#aaa" stroke-width="0.3" />
<line x1="375.13" y1="63.97" x2="377.77" y2="77.73" stroke="#aaa" stroke-width="0.3" />
<line x1="374.92" y1="78.81" x2="373.44" y2="71.32" stroke="#aaa" stroke-width="0.3" />
<line x1="373.76" y1="71.12" x2="381.26" y2="64.75" stroke="#aaa" stroke-width="0.3" />
<line x1="380.34" y1="69.67" x2="374.15" y2="66.16" stroke="#aaa" stroke-width="0.3" />
<line x1="375.39" y1="66.96" x2="377.05" y2="70.79" stroke="#aaa" stroke-width="0.3" />
<line x1="371.90" y1="68.79" x2="371.17" y2="69.84" stroke="#aaa" stroke-width="0.3" />
<line x1="367.22" y1="65.71" x2="371.90" y2="68.79" stroke="#aaa" stroke-width="0.3" />
<line x1="370.15" y1="69.68" x2="375.13" y2="63.97" stroke="#aaa" stroke-width="0.3" />
<line x1="377.24" y1="68.32" x2="368.30" y2="69.95" stroke="#aaa" stroke-width="0.3" />
<line x1="369.84" y1="72.47" x2="373.86" y2="66.31" stroke="#aaa" stroke-width="0.3" />
<line x1="377.55" y1="69.63" x2="377.55" y2="69.63" stroke="#aaa" stroke-width="0.3" />
<line x1="367.22" y1="65.71" x2="375.39" y2="66.96" stroke="#aaa" stroke-width="0.3" />
<line x1="380.28" y1="78.23" x2="377.05" y2="70.79" stroke="#aaa" stroke-width="0.3" />
<line x1="380.28" y1="78.23" x2="377.44" y2="69.90" stroke="#aaa" stroke-width="0.3" />
<line x1="375.39" y1="66.96" x2="374.33" y2="76.82" stroke="#aaa" stroke-width="0.3" />
<line x1="368.30" y1="69.95" x2="382.23" y2="67.65" stroke="#aaa" stroke-width="0.3" />
<line x1="369.25" y1="71.35" x2="373.76" y2="71.12" stroke="#aaa" stroke-width="0.3" />
<line x1="370.15" y1="69.68" x2="374.15" y2="66.16" stroke="#aaa" stroke-width="0.3" />
<line x1="366.51" y1="67.11" x2="381.26" y2="64.75" stroke="#aaa" stroke-width="0.3" />
<line x1="377.51" y1="64.71" x2="382.23" y2="67.65" stroke="#aaa" stroke-width="0.3" />
<line x1="380.34" y1="69.67" x2="368.30" y2="69.95" stroke="#aaa" stroke-width="0.3" />
<line x1="381.26" y1="64.75" x2="374.92" y2="78.81" stroke="#aaa" stroke-width="0.3" />
<line x1="370.15" y1="69.68" x2="373.86" y2="66.31" stroke="#aaa" stroke-width="0.3" />
<line x1="382.23" y1="67.65" x2="373.52" y2="60.98" stroke="#aaa" stroke-width="0.3" />
<line x1="368.30" y1="69.95" x2="377.55" y2="69.63" stroke="#aaa" stroke-width="0.3" />
<line x1="370.15" y1="69.68" x2="377.44" y2="69.90" stroke="#aaa" stroke-width="0.3" />
<line x1="370.57" y1="74.80" x2="375.18" y2="70.19" stroke="#aaa" stroke-width="0.3" />
<line x1="370.15" y1="69.68" x2="375.13" y2="63.97" stroke="#aaa" stroke-width="0.3" />
<line x1="375.39" y1="66.96" x2="369.25" y2="71.35" stroke="#aaa" stroke-width="0.3" />
<line x1="373.76" y1="71.12" x2="376.81" y2="73.92" stroke="#aaa" stroke-width="0.3" />
<line x1="373.52" y1="60.98" x2="370.05" y2="65.35" stroke="#aaa" stroke-width="0.3" />
<line x1="377.55" y1="69.63" x2="373.52" y2="60.98" stroke="#aaa" stroke-width="0.3" />
<line x1="377.51" y1="64.71" x2="374.15" y2="66.16" stroke="#aaa" stroke-width="0.3" />
<line x1="368.30" y1="69.95" x2="375.13" y2="63.97" stroke="#aaa" stroke-width="0.3" />
<line x1="377.24" y1="68.32" x2="373.76" y2="71.12" stroke="#aaa" stroke-width="0.3" />
<line x1="373.44" y1="71.32" x2="380.28" y2="78.23" stroke="#aaa" stroke-width="0.3" />
<line x1="374.64" y1="66.72" x2="374.64" y2="66.72" stroke="#aaa" stroke-width="0.3" />
<line x1="368.30" y1="69.95" x2="377.44" y2="69.90" stroke="#aaa" stroke-width="0.3" />
<line x1="377.51" y1="64.71" x2="369.25" y2="71.35" stroke="#aaa" stroke-width="0.3" />
<line x1="374.64" y1="66.72" x2="370.57" y2="74.80" stroke="#aaa" stroke-width="0.3" />
<line x1="373.44" y1="71.32" x2="369.84" y2="72.47" stroke="#aaa" stroke-width="0.3" />
<line x1="370.57" y1="74.80" x2="381.26" y2="64.75" stroke="#aaa" stroke-width="0.3" />
<line x1="373.52" y1="60.98" x2="376.81" y2="73.92" stroke="#aaa" stroke-width="0.3" />
<line x1="377.77" y1="77.73" x2="380.34" y2="69.67" stroke="#aaa" stroke-width="0.3" />
<line x1="377.44" y1="69.90" x2="377.05" y2="70.79" stroke="#aaa" stroke-width="0.3" />
<line x1="380.34" y1="69.67" x2="377.77" y2="77.73" stroke="#aaa" stroke-width="0.3" />
<line x1="377.77" y1="77.73" x2="376.65" y2="76.65" stroke="#aaa" stroke-width="0.3" />
<line x1="368.30" y1="69.95" x2="377.05" y2="70.79" stroke="#aaa" stroke-width="0.3" />
<line x1="368.09" y1="71.71" x2="373.76" y2="71.12" stroke="#aaa" stroke-width="0.3" />
<line x1="376.65" y1="76.65" x2="380.34" y2="69.67" stroke="#aaa" stroke-width="0.3" />
<line x1="381.26" y1="64.75" x2="367.22" y2="65.71" stroke="#aaa" stroke-width="0.3" />
<line x1="373.86" y1="66.31" x2="373.44" y2="71.32" stroke="#aaa" stroke-width="0.3" />
<line x1="366.51" y1="67.11" x2="375.13" y2="63.97" stroke="#aaa" stroke-width="0.3" />
<line x1="377.55" y1="69.63" x2="374.64" y2="66.72" stroke="#aaa" stroke-width="0.3" />
<line x1="374.64" y1="66.72" x2="374.64" y2="66.72" stroke="#aaa" stroke-width="0.3" />
<line x1="374.64" y1="66.72" x2="371.90" y2="68.79" stroke="#aaa" stroke-width="0.3" />
<line x1="375.18" y1="70.19" x2="374.64" y2="66.72" stroke="#aaa" stroke-width="0.3" />
<line x1="375.13" y1="63.97" x2="371.17" y2="69.84" stroke="#aaa" stroke-width="0.3" />
<line x1="370.15" y1="69.68" x2="377.24" y2="68.32" stroke="#aaa" stroke-width="0.3" />
<line x1="369.25" y1="71.35" x2="377.51" y2="64.71" stroke="#aaa" stroke-width="0.3" />
<line x1="374.15" y1="66.16" x2="382.23" y2="67.65" stroke="#aaa" stroke-width="0.3" />
<line x1="375.13" y1="63.97" x2="371.90" y2="68.79" stroke="#aaa" stroke-width="0.3" />
<circle cx="376.65" cy="76.65" r="1.10" fill="#5ab4e6"/>
<circle cx="370.05" cy="65.35" r="0.75" fill="#1a1a1a"/>
<circle cx="374.92" cy="78.81" r="0.75" fill="#1a1a1a"/>
<circle cx="375.13" cy="63.97" r="1.10" fill="#1a1a1a"/>
<circle cx="370.15" cy="69.68" r="0.75" fill="#5ab4e6"/>
<circle cx="377.44" cy="69.90" r="0.75" fill="#1a1a1a"/>
<circle cx="371.90" cy="68.79" r="1.10" fill="#1a1a1a"/>
<circle cx="374.15" cy="66.16" r="0.75" fill="#1a1a1a"/>
<circle cx="373.44" cy="71.32" r="0.75" fill="#5ab4e6"/>
<circle cx="380.34" cy="69.67" r="1.10" fill="#1a1a1a"/>
<circle cx="377.51" cy="64.71" r="0.75" fill="#1a1a1a"/>
<circle cx="377.05" cy="70.79" r="0.75" fill="#1a1a1a"/>
<circle cx="371.17" cy="69.84" r="1.10" fill="#5ab4e6"/>
<circle cx="377.24" cy="68.32" r="0.75" fill="#1a1a1a"/>
<circle cx="377.77" cy="77.73" r="0.75" fill="#1a1a1a"/>
<circle cx="380.28" cy="78.23" r="1.10" fill="#1a1a1a"/>
<circle cx="368.09" cy="71.71" r="0.75" fill="#5ab4e6"/>
<circle cx="370.57" cy="74.80" r="0.75" fill="#1a1a1a"/>
<circle cx="373.76" cy="71.12" r="1.10" fill="#1a1a1a"/>
<circle cx="375.39" cy="66.96" r="0.75" fill="#1a1a1a"/>
<circle cx="373.86" cy="66.31" r="0.75" fill="#5ab4e6"/>
<circle cx="382.23" cy="67.65" r="1.10" fill="#1a1a1a"/>
<circle cx="373.52" cy="60.98" r="0.75" fill="#1a1a1a"/>
<circle cx="367.22" cy="65.71" r="0.75" fill="#1a1a1a"/>
<circle cx="376.81" cy="73.92" r="1.10" fill="#5ab4e6"/>
<circle cx="374.64" cy="66.72" r="0.75" fill="#1a1a1a"/>
<circle cx="381.26" cy="64.75" r="0.75" fill="#1a1a1a"/>
<circle cx="369.84" cy="72.47" r="1.10" fill="#1a1a1a"/>
<circle cx="369.25" cy="71.35" r="0.75" fill="#5ab4e6"/>
<circle cx="377.55" cy="69.63" r="0.75" fill="#1a1a1a"/>
<circle cx="375.18" cy="70.19" r="1.10" fill="#1a1a1a"/>
<circle cx="368.30" cy="69.95" r="0.75" fill="#1a1a1a"/>
<circle cx="366.51" cy="67.11" r="0.75" fill="#5ab4e6"/>
<circle cx="374.33" cy="76.82" r="1.10" fill="#1a1a1a"/>
<circle cx="362.30" cy="84.30" r="0.90" fill="#333"/>
<circle cx="377.25" cy="77.05" r="0.70" fill="#6cc0ec"/>
<circle cx="380.94" cy="70.07" r="0.70" fill="#6cc0ec"/>
<circle cx="372.50" cy="69.19" r="0.70" fill="#6cc0ec"/>
<circle cx="367.82" cy="66.11" r="0.70" fill="#6cc0ec"/>
<circle cx="370.65" cy="65.75" r="0.70" fill="#6cc0ec"/>
<rect x="232.10" y="56.30" width="30.60" height="32.00" fill="none" stroke="#555" stroke-width="1.0" rx="0.8" />
<rect x="266.70" y="56.30" width="31.00" height="32.00" fill="none" stroke="#555" stroke-width="1.0" rx="0.8" />
<rect x="232.10" y="107.30" width="31.30" height="32.00" fill="none" stroke="#555" stroke-width="1.0" rx="0.8" />
<rect x="267.10" y="107.30" width="31.30" height="32.00" fill="none" stroke="#555" stroke-width="1.0" rx="0.8" />
<rect x="324.30" y="55.80" width="30.20" height="31.70" fill="none" stroke="#555" stroke-width="1.0" rx="0.8" />
<rect x="358.30" y="55.80" width="31.10" height="31.70" fill="none" stroke="#555" stroke-width="1.0" rx="0.8" />
<text x="416.30" y="15.30" font-size="10.92" font-weight="bold" fill="#000" textLength="7.00" lengthAdjust="spacingAndGlyphs" >B</text>
<text x="430.50" y="15.90" font-size="8.69" font-weight="bold" fill="#111" textLength="72.50" lengthAdjust="spacingAndGlyphs" >Healthy donor (HD)</text>
<text x="421.00" y="94.80" font-size="8.69" font-weight="bold" fill="#111" textLength="93.10" lengthAdjust="spacingAndGlyphs" >Neutropenic patient (NP)</text>
<rect x="442.10" y="20.60" width="48.60" height="52.10" fill="#fff" stroke="#111" stroke-width="1.1" />
<line x1="440.10" y1="25.80" x2="442.10" y2="25.80" stroke="#000" stroke-width="0.8" />
<line x1="440.10" y1="38.40" x2="442.10" y2="38.40" stroke="#000" stroke-width="0.8" />
<line x1="440.10" y1="48.20" x2="442.10" y2="48.20" stroke="#000" stroke-width="0.8" />
<line x1="440.10" y1="61.40" x2="442.10" y2="61.40" stroke="#000" stroke-width="0.8" />
<line x1="440.10" y1="68.50" x2="442.10" y2="68.50" stroke="#000" stroke-width="0.8" />
<line x1="440.90" y1="22.60" x2="442.10" y2="22.60" stroke="#000" stroke-width="0.5" />
<line x1="440.90" y1="24.94" x2="442.10" y2="24.94" stroke="#000" stroke-width="0.5" />
<line x1="440.90" y1="27.28" x2="442.10" y2="27.28" stroke="#000" stroke-width="0.5" />
<line x1="440.90" y1="29.61" x2="442.10" y2="29.61" stroke="#000" stroke-width="0.5" />
<line x1="440.90" y1="31.95" x2="442.10" y2="31.95" stroke="#000" stroke-width="0.5" />
<line x1="440.90" y1="34.29" x2="442.10" y2="34.29" stroke="#000" stroke-width="0.5" />
<line x1="440.90" y1="36.63" x2="442.10" y2="36.63" stroke="#000" stroke-width="0.5" />
<line x1="440.90" y1="38.97" x2="442.10" y2="38.97" stroke="#000" stroke-width="0.5" />
<line x1="440.90" y1="41.30" x2="442.10" y2="41.30" stroke="#000" stroke-width="0.5" />
<line x1="440.90" y1="43.64" x2="442.10" y2="43.64" stroke="#000" stroke-width="0.5" />
<line x1="440.90" y1="45.98" x2="442.10" y2="45.98" stroke="#000" stroke-width="0.5" />
<line x1="440.90" y1="48.32" x2="442.10" y2="48.32" stroke="#000" stroke-width="0.5" />
<line x1="440.90" y1="50.66" x2="442.10" y2="50.66" stroke="#000" stroke-width="0.5" />
<line x1="440.90" y1="53.00" x2="442.10" y2="53.00" stroke="#000" stroke-width="0.5" />
<line x1="440.90" y1="55.33" x2="442.10" y2="55.33" stroke="#000" stroke-width="0.5" />
<line x1="440.90" y1="57.67" x2="442.10" y2="57.67" stroke="#000" stroke-width="0.5" />
<line x1="440.90" y1="60.01" x2="442.10" y2="60.01" stroke="#000" stroke-width="0.5" />
<line x1="440.90" y1="62.35" x2="442.10" y2="62.35" stroke="#000" stroke-width="0.5" />
<line x1="440.90" y1="64.69" x2="442.10" y2="64.69" stroke="#000" stroke-width="0.5" />
<line x1="440.90" y1="67.02" x2="442.10" y2="67.02" stroke="#000" stroke-width="0.5" />
<line x1="440.90" y1="69.36" x2="442.10" y2="69.36" stroke="#000" stroke-width="0.5" />
<line x1="440.90" y1="71.70" x2="442.10" y2="71.70" stroke="#000" stroke-width="0.5" />
<line x1="444.10" y1="72.70" x2="444.10" y2="73.90" stroke="#000" stroke-width="0.5" />
<line x1="446.27" y1="72.70" x2="446.27" y2="73.90" stroke="#000" stroke-width="0.5" />
<line x1="448.44" y1="72.70" x2="448.44" y2="73.90" stroke="#000" stroke-width="0.5" />
<line x1="450.61" y1="72.70" x2="450.61" y2="73.90" stroke="#000" stroke-width="0.5" />
<line x1="452.79" y1="72.70" x2="452.79" y2="73.90" stroke="#000" stroke-width="0.5" />
<line x1="454.96" y1="72.70" x2="454.96" y2="73.90" stroke="#000" stroke-width="0.5" />
<line x1="457.13" y1="72.70" x2="457.13" y2="73.90" stroke="#000" stroke-width="0.5" />
<line x1="459.30" y1="72.70" x2="459.30" y2="73.90" stroke="#000" stroke-width="0.5" />
<line x1="461.47" y1="72.70" x2="461.47" y2="73.90" stroke="#000" stroke-width="0.5" />
<line x1="463.64" y1="72.70" x2="463.64" y2="73.90" stroke="#000" stroke-width="0.5" />
<line x1="465.81" y1="72.70" x2="465.81" y2="73.90" stroke="#000" stroke-width="0.5" />
<line x1="467.99" y1="72.70" x2="467.99" y2="73.90" stroke="#000" stroke-width="0.5" />
<line x1="470.16" y1="72.70" x2="470.16" y2="73.90" stroke="#000" stroke-width="0.5" />
<line x1="472.33" y1="72.70" x2="472.33" y2="73.90" stroke="#000" stroke-width="0.5" />
<line x1="474.50" y1="72.70" x2="474.50" y2="73.90" stroke="#000" stroke-width="0.5" />
<line x1="476.67" y1="72.70" x2="476.67" y2="73.90" stroke="#000" stroke-width="0.5" />
<line x1="478.84" y1="72.70" x2="478.84" y2="73.90" stroke="#000" stroke-width="0.5" />
<line x1="481.01" y1="72.70" x2="481.01" y2="73.90" stroke="#000" stroke-width="0.5" />
<line x1="483.19" y1="72.70" x2="483.19" y2="73.90" stroke="#000" stroke-width="0.5" />
<line x1="485.36" y1="72.70" x2="485.36" y2="73.90" stroke="#000" stroke-width="0.5" />
<line x1="487.53" y1="72.70" x2="487.53" y2="73.90" stroke="#000" stroke-width="0.5" />
<line x1="489.70" y1="72.70" x2="489.70" y2="73.90" stroke="#000" stroke-width="0.5" />
<line x1="451.60" y1="72.70" x2="451.60" y2="74.70" stroke="#000" stroke-width="0.8" />
<line x1="458.60" y1="72.70" x2="458.60" y2="74.70" stroke="#000" stroke-width="0.8" />
<line x1="465.10" y1="72.70" x2="465.10" y2="74.70" stroke="#000" stroke-width="0.8" />
<line x1="477.10" y1="72.70" x2="477.10" y2="74.70" stroke="#000" stroke-width="0.8" />
<line x1="487.10" y1="72.70" x2="487.10" y2="74.70" stroke="#000" stroke-width="0.8" />
<path d="M458.2,39.4 L466.2,38.2 L472.0,40.5 L473.0,44.0 L464.0,50.2 L458.2,54.2 L453.7,52.0 L452.5,45.7 L454.8,41.7Z" fill="none" stroke="#777" stroke-width="0.55" />
<path d="M473.0,43.4 L476.5,43.4 L479.9,46.8 L480.5,54.2 L479.9,62.2 L476.5,63.9 L464.0,63.9 L461.1,58.8 L461.1,52.0 L466.2,47.4Z" fill="none" stroke="#777" stroke-width="0.55" />
<ellipse cx="464.00" cy="44.30" rx="3.80" ry="4.30" transform="rotate(-20 464.00 44.30)" fill="#cfcfcf" stroke="#111" stroke-width="1.3" stroke-dasharray="1.5 0.5"/>
<ellipse cx="464.40" cy="44.50" rx="2.09" ry="2.37" transform="rotate(-20 464.00 44.30)" fill="#e8e8e8" stroke="#888" stroke-width="0.4"/>
<ellipse cx="472.00" cy="54.00" rx="6.60" ry="9.40" transform="rotate(-8 472.00 54.00)" fill="url(#mainblob)" stroke="#222" stroke-width="0.9" stroke-dasharray="1.2 0.5"/>
<ellipse cx="472.00" cy="54.00" rx="5.15" ry="7.52" transform="rotate(-8 472.00 54.00)" fill="none" stroke="#666" stroke-width="0.4" stroke-dasharray="0.8 0.8"/>
<ellipse cx="472.30" cy="53.70" rx="1.85" ry="3.01" transform="rotate(-8 472.00 54.00)" fill="#1a1a1a"/>
<ellipse cx="472.60" cy="53.70" rx="0.53" ry="1.88" transform="rotate(-8 472.00 54.00)" fill="#bbb"/>
<text x="443.40" y="40.90" font-size="7.21" fill="#333" textLength="12.40" lengthAdjust="spacingAndGlyphs" stroke="#333" stroke-width="0.10" >8.16</text>
<text x="477.00" y="69.00" font-size="7.21" fill="#333" textLength="12.00" lengthAdjust="spacingAndGlyphs" stroke="#333" stroke-width="0.10" >91.3</text>
<path d="M460.5,46 Q461.5,55 466.5,62.5" fill="none" stroke="#1a1a1a" stroke-width="1.8" stroke-dasharray="1.4 0.4"/>
<text x="431.20" y="28.10" font-size="7.00" fill="#333" textLength="5.30" lengthAdjust="spacingAndGlyphs" stroke="#333" stroke-width="0.10" >10</text>
<text x="436.60" y="25.20" font-size="4.45" fill="#333" textLength="1.90" lengthAdjust="spacingAndGlyphs" stroke="#333" stroke-width="0.10" >5</text>
<text x="431.20" y="40.70" font-size="7.00" fill="#333" textLength="5.30" lengthAdjust="spacingAndGlyphs" stroke="#333" stroke-width="0.10" >10</text>
<text x="436.60" y="37.80" font-size="4.45" fill="#333" textLength="1.90" lengthAdjust="spacingAndGlyphs" stroke="#333" stroke-width="0.10" >4</text>
<text x="431.20" y="50.50" font-size="7.00" fill="#333" textLength="5.30" lengthAdjust="spacingAndGlyphs" stroke="#333" stroke-width="0.10" >10</text>
<text x="436.60" y="47.60" font-size="4.45" fill="#333" textLength="1.90" lengthAdjust="spacingAndGlyphs" stroke="#333" stroke-width="0.10" >3</text>
<text x="431.20" y="63.70" font-size="7.00" fill="#333" textLength="5.30" lengthAdjust="spacingAndGlyphs" stroke="#333" stroke-width="0.10" >10</text>
<text x="436.60" y="60.80" font-size="4.45" fill="#333" textLength="1.90" lengthAdjust="spacingAndGlyphs" stroke="#333" stroke-width="0.10" >2</text>
<text x="435.30" y="70.80" font-size="7.00" fill="#333" textLength="2.20" lengthAdjust="spacingAndGlyphs" stroke="#333" stroke-width="0.10" >0</text>
<text x="449.80" y="82.10" font-size="6.68" fill="#333" textLength="1.90" lengthAdjust="spacingAndGlyphs" stroke="#333" stroke-width="0.10" >0</text>
<text x="454.10" y="82.10" font-size="6.68" fill="#333" textLength="4.90" lengthAdjust="spacingAndGlyphs" stroke="#333" stroke-width="0.10" >10</text>
<text x="459.10" y="79.20" font-size="4.24" fill="#333" textLength="1.80" lengthAdjust="spacingAndGlyphs" stroke="#333" stroke-width="0.10" >2</text>
<text x="462.30" y="82.10" font-size="6.68" fill="#333" textLength="4.90" lengthAdjust="spacingAndGlyphs" stroke="#333" stroke-width="0.10" >10</text>
<text x="467.30" y="79.20" font-size="4.24" fill="#333" textLength="1.80" lengthAdjust="spacingAndGlyphs" stroke="#333" stroke-width="0.10" >3</text>
<text x="473.80" y="82.10" font-size="6.68" fill="#333" textLength="4.90" lengthAdjust="spacingAndGlyphs" stroke="#333" stroke-width="0.10" >10</text>
<text x="478.80" y="79.20" font-size="4.24" fill="#333" textLength="1.80" lengthAdjust="spacingAndGlyphs" stroke="#333" stroke-width="0.10" >4</text>
<text x="483.90" y="82.10" font-size="6.68" fill="#333" textLength="4.90" lengthAdjust="spacingAndGlyphs" stroke="#333" stroke-width="0.10" >10</text>
<text x="488.90" y="79.20" font-size="4.24" fill="#333" textLength="1.80" lengthAdjust="spacingAndGlyphs" stroke="#333" stroke-width="0.10" >5</text>
<rect x="442.60" y="98.10" width="49.40" height="51.70" fill="#fff" stroke="#111" stroke-width="1.1" />
<line x1="440.60" y1="102.00" x2="442.60" y2="102.00" stroke="#000" stroke-width="0.8" />
<line x1="440.60" y1="114.80" x2="442.60" y2="114.80" stroke="#000" stroke-width="0.8" />
<line x1="440.60" y1="125.80" x2="442.60" y2="125.80" stroke="#000" stroke-width="0.8" />
<line x1="440.60" y1="138.00" x2="442.60" y2="138.00" stroke="#000" stroke-width="0.8" />
<line x1="440.60" y1="145.60" x2="442.60" y2="145.60" stroke="#000" stroke-width="0.8" />
<line x1="441.40" y1="100.10" x2="442.60" y2="100.10" stroke="#000" stroke-width="0.5" />
<line x1="441.40" y1="102.42" x2="442.60" y2="102.42" stroke="#000" stroke-width="0.5" />
<line x1="441.40" y1="104.74" x2="442.60" y2="104.74" stroke="#000" stroke-width="0.5" />
<line x1="441.40" y1="107.06" x2="442.60" y2="107.06" stroke="#000" stroke-width="0.5" />
<line x1="441.40" y1="109.38" x2="442.60" y2="109.38" stroke="#000" stroke-width="0.5" />
<line x1="441.40" y1="111.70" x2="442.60" y2="111.70" stroke="#000" stroke-width="0.5" />
<line x1="441.40" y1="114.01" x2="442.60" y2="114.01" stroke="#000" stroke-width="0.5" />
<line x1="441.40" y1="116.33" x2="442.60" y2="116.33" stroke="#000" stroke-width="0.5" />
<line x1="441.40" y1="118.65" x2="442.60" y2="118.65" stroke="#000" stroke-width="0.5" />
<line x1="441.40" y1="120.97" x2="442.60" y2="120.97" stroke="#000" stroke-width="0.5" />
<line x1="441.40" y1="123.29" x2="442.60" y2="123.29" stroke="#000" stroke-width="0.5" />
<line x1="441.40" y1="125.61" x2="442.60" y2="125.61" stroke="#000" stroke-width="0.5" />
<line x1="441.40" y1="127.93" x2="442.60" y2="127.93" stroke="#000" stroke-width="0.5" />
<line x1="441.40" y1="130.25" x2="442.60" y2="130.25" stroke="#000" stroke-width="0.5" />
<line x1="441.40" y1="132.57" x2="442.60" y2="132.57" stroke="#000" stroke-width="0.5" />
<line x1="441.40" y1="134.89" x2="442.60" y2="134.89" stroke="#000" stroke-width="0.5" />
<line x1="441.40" y1="137.20" x2="442.60" y2="137.20" stroke="#000" stroke-width="0.5" />
<line x1="441.40" y1="139.52" x2="442.60" y2="139.52" stroke="#000" stroke-width="0.5" />
<line x1="441.40" y1="141.84" x2="442.60" y2="141.84" stroke="#000" stroke-width="0.5" />
<line x1="441.40" y1="144.16" x2="442.60" y2="144.16" stroke="#000" stroke-width="0.5" />
<line x1="441.40" y1="146.48" x2="442.60" y2="146.48" stroke="#000" stroke-width="0.5" />
<line x1="441.40" y1="148.80" x2="442.60" y2="148.80" stroke="#000" stroke-width="0.5" />
<line x1="444.60" y1="149.80" x2="444.60" y2="151.00" stroke="#000" stroke-width="0.5" />
<line x1="446.81" y1="149.80" x2="446.81" y2="151.00" stroke="#000" stroke-width="0.5" />
<line x1="449.02" y1="149.80" x2="449.02" y2="151.00" stroke="#000" stroke-width="0.5" />
<line x1="451.23" y1="149.80" x2="451.23" y2="151.00" stroke="#000" stroke-width="0.5" />
<line x1="453.44" y1="149.80" x2="453.44" y2="151.00" stroke="#000" stroke-width="0.5" />
<line x1="455.65" y1="149.80" x2="455.65" y2="151.00" stroke="#000" stroke-width="0.5" />
<line x1="457.86" y1="149.80" x2="457.86" y2="151.00" stroke="#000" stroke-width="0.5" />
<line x1="460.07" y1="149.80" x2="460.07" y2="151.00" stroke="#000" stroke-width="0.5" />
<line x1="462.28" y1="149.80" x2="462.28" y2="151.00" stroke="#000" stroke-width="0.5" />
<line x1="464.49" y1="149.80" x2="464.49" y2="151.00" stroke="#000" stroke-width="0.5" />
<line x1="466.70" y1="149.80" x2="466.70" y2="151.00" stroke="#000" stroke-width="0.5" />
<line x1="468.90" y1="149.80" x2="468.90" y2="151.00" stroke="#000" stroke-width="0.5" />
<line x1="471.11" y1="149.80" x2="471.11" y2="151.00" stroke="#000" stroke-width="0.5" />
<line x1="473.32" y1="149.80" x2="473.32" y2="151.00" stroke="#000" stroke-width="0.5" />
<line x1="475.53" y1="149.80" x2="475.53" y2="151.00" stroke="#000" stroke-width="0.5" />
<line x1="477.74" y1="149.80" x2="477.74" y2="151.00" stroke="#000" stroke-width="0.5" />
<line x1="479.95" y1="149.80" x2="479.95" y2="151.00" stroke="#000" stroke-width="0.5" />
<line x1="482.16" y1="149.80" x2="482.16" y2="151.00" stroke="#000" stroke-width="0.5" />
<line x1="484.37" y1="149.80" x2="484.37" y2="151.00" stroke="#000" stroke-width="0.5" />
<line x1="486.58" y1="149.80" x2="486.58" y2="151.00" stroke="#000" stroke-width="0.5" />
<line x1="488.79" y1="149.80" x2="488.79" y2="151.00" stroke="#000" stroke-width="0.5" />
<line x1="491.00" y1="149.80" x2="491.00" y2="151.00" stroke="#000" stroke-width="0.5" />
<line x1="452.10" y1="149.80" x2="452.10" y2="151.80" stroke="#000" stroke-width="0.8" />
<line x1="459.10" y1="149.80" x2="459.10" y2="151.80" stroke="#000" stroke-width="0.8" />
<line x1="465.60" y1="149.80" x2="465.60" y2="151.80" stroke="#000" stroke-width="0.8" />
<line x1="477.60" y1="149.80" x2="477.60" y2="151.80" stroke="#000" stroke-width="0.8" />
<line x1="487.60" y1="149.80" x2="487.60" y2="151.80" stroke="#000" stroke-width="0.8" />
<path d="M456.5,116.7 L464.8,114.9 L469.6,116.1 L474.3,120.2 L467.2,126.1 L461.3,131.5 L455.4,128.5 L452.4,123.8Z" fill="none" stroke="#777" stroke-width="0.55" />
<path d="M474.3,120.2 L477.8,121.4 L482.0,124.4 L482.6,131.5 L482.0,140.9 L465.4,140.9 L461.9,135.0 L463.6,130.3Z" fill="none" stroke="#777" stroke-width="0.55" />
<ellipse cx="463.20" cy="121.60" rx="6.40" ry="5.00" transform="rotate(-25 463.20 121.60)" fill="url(#darkblob)" stroke="#222" stroke-width="0.9" stroke-dasharray="1.2 0.5"/>
<ellipse cx="463.20" cy="121.60" rx="4.48" ry="3.50" transform="rotate(-25 463.20 121.60)" fill="none" stroke="#222" stroke-width="0.6"/>
<ellipse cx="463.70" cy="121.60" rx="2.24" ry="1.75" transform="rotate(-25 463.20 121.60)" fill="#111"/>
<ellipse cx="473.80" cy="130.50" rx="6.50" ry="8.40" transform="rotate(-5 473.80 130.50)" fill="url(#mainblob)" stroke="#222" stroke-width="0.9" stroke-dasharray="1.2 0.5"/>
<ellipse cx="473.80" cy="130.50" rx="5.07" ry="6.72" transform="rotate(-5 473.80 130.50)" fill="none" stroke="#666" stroke-width="0.4" stroke-dasharray="0.8 0.8"/>
<ellipse cx="474.10" cy="130.20" rx="1.82" ry="2.69" transform="rotate(-5 473.80 130.50)" fill="#1a1a1a"/>
<ellipse cx="474.40" cy="130.20" rx="0.52" ry="1.68" transform="rotate(-5 473.80 130.50)" fill="#bbb"/>
<text x="444.50" y="119.60" font-size="7.21" fill="#333" textLength="11.00" lengthAdjust="spacingAndGlyphs" stroke="#333" stroke-width="0.10" >38.4</text>
<text x="480.80" y="146.20" font-size="7.21" fill="#333" textLength="6.50" lengthAdjust="spacingAndGlyphs" stroke="#333" stroke-width="0.10" >60</text>
<text x="431.70" y="104.30" font-size="7.00" fill="#333" textLength="5.30" lengthAdjust="spacingAndGlyphs" stroke="#333" stroke-width="0.10" >10</text>
<text x="437.10" y="101.40" font-size="4.45" fill="#333" textLength="1.90" lengthAdjust="spacingAndGlyphs" stroke="#333" stroke-width="0.10" >5</text>
<text x="431.70" y="117.10" font-size="7.00" fill="#333" textLength="5.30" lengthAdjust="spacingAndGlyphs" stroke="#333" stroke-width="0.10" >10</text>
<text x="437.10" y="114.20" font-size="4.45" fill="#333" textLength="1.90" lengthAdjust="spacingAndGlyphs" stroke="#333" stroke-width="0.10" >4</text>
<text x="431.70" y="128.10" font-size="7.00" fill="#333" textLength="5.30" lengthAdjust="spacingAndGlyphs" stroke="#333" stroke-width="0.10" >10</text>
<text x="437.10" y="125.20" font-size="4.45" fill="#333" textLength="1.90" lengthAdjust="spacingAndGlyphs" stroke="#333" stroke-width="0.10" >3</text>
<text x="431.70" y="140.30" font-size="7.00" fill="#333" textLength="5.30" lengthAdjust="spacingAndGlyphs" stroke="#333" stroke-width="0.10" >10</text>
<text x="437.10" y="137.40" font-size="4.45" fill="#333" textLength="1.90" lengthAdjust="spacingAndGlyphs" stroke="#333" stroke-width="0.10" >2</text>
<text x="435.80" y="147.90" font-size="7.00" fill="#333" textLength="2.20" lengthAdjust="spacingAndGlyphs" stroke="#333" stroke-width="0.10" >0</text>
<text x="450.30" y="159.40" font-size="6.68" fill="#333" textLength="1.90" lengthAdjust="spacingAndGlyphs" stroke="#333" stroke-width="0.10" >0</text>
<text x="455.10" y="159.40" font-size="6.68" fill="#333" textLength="4.90" lengthAdjust="spacingAndGlyphs" stroke="#333" stroke-width="0.10" >10</text>
<text x="460.10" y="156.50" font-size="4.24" fill="#333" textLength="1.80" lengthAdjust="spacingAndGlyphs" stroke="#333" stroke-width="0.10" >2</text>
<text x="463.30" y="159.40" font-size="6.68" fill="#333" textLength="4.90" lengthAdjust="spacingAndGlyphs" stroke="#333" stroke-width="0.10" >10</text>
<text x="468.30" y="156.50" font-size="4.24" fill="#333" textLength="1.80" lengthAdjust="spacingAndGlyphs" stroke="#333" stroke-width="0.10" >3</text>
<text x="474.30" y="159.40" font-size="6.68" fill="#333" textLength="4.90" lengthAdjust="spacingAndGlyphs" stroke="#333" stroke-width="0.10" >10</text>
<text x="479.30" y="156.50" font-size="4.24" fill="#333" textLength="1.80" lengthAdjust="spacingAndGlyphs" stroke="#333" stroke-width="0.10" >4</text>
<text x="484.40" y="159.40" font-size="6.68" fill="#333" textLength="4.90" lengthAdjust="spacingAndGlyphs" stroke="#333" stroke-width="0.10" >10</text>
<text x="489.40" y="156.50" font-size="4.24" fill="#333" textLength="1.80" lengthAdjust="spacingAndGlyphs" stroke="#333" stroke-width="0.10" >5</text>
<text x="426.50" y="133.50" font-size="9.54" fill="#222" textLength="18.50" lengthAdjust="spacingAndGlyphs" transform="rotate(-90 426.50 133.50)" stroke="#222" stroke-width="0.22" >CD56</text>
<text x="454.80" y="169.30" font-size="9.54" fill="#222" textLength="25.40" lengthAdjust="spacingAndGlyphs" stroke="#222" stroke-width="0.22" >Perforin</text>
<text x="8.50" y="187.80" font-size="10.92" font-weight="bold" fill="#000" textLength="6.90" lengthAdjust="spacingAndGlyphs" >C</text>
<text x="40.60" y="198.70" font-size="9.86" font-weight="bold" fill="#111" textLength="24.00" lengthAdjust="spacingAndGlyphs" >CD56</text>
<text x="65.00" y="195.30" font-size="6.68" font-weight="bold" fill="#111" textLength="20.60" lengthAdjust="spacingAndGlyphs" >bright</text>
<text x="50.80" y="210.60" font-size="9.75" font-weight="bold" fill="#c8102e" textLength="17.50" lengthAdjust="spacingAndGlyphs" >‘NK</text>
<text x="68.60" y="207.30" font-size="6.68" font-weight="bold" fill="#c8102e" textLength="15.60" lengthAdjust="spacingAndGlyphs" >imm’</text>
<line x1="41.50" y1="205.50" x2="41.50" y2="285.90" stroke="#111" stroke-width="1.2" />
<line x1="39.30" y1="210.10" x2="41.50" y2="210.10" stroke="#111" stroke-width="0.9" />
<text x="25.10" y="212.96" font-size="8.48" fill="#222" textLength="12.00" lengthAdjust="spacingAndGlyphs" stroke="#222" stroke-width="0.10" >100</text>
<line x1="39.30" y1="225.10" x2="41.50" y2="225.10" stroke="#111" stroke-width="0.9" />
<text x="29.10" y="227.96" font-size="8.48" fill="#222" textLength="8.00" lengthAdjust="spacingAndGlyphs" stroke="#222" stroke-width="0.10" >80</text>
<line x1="39.30" y1="240.10" x2="41.50" y2="240.10" stroke="#111" stroke-width="0.9" />
<text x="29.10" y="242.96" font-size="8.48" fill="#222" textLength="8.00" lengthAdjust="spacingAndGlyphs" stroke="#222" stroke-width="0.10" >60</text>
<line x1="39.30" y1="255.10" x2="41.50" y2="255.10" stroke="#111" stroke-width="0.9" />
<text x="29.10" y="257.96" font-size="8.48" fill="#222" textLength="8.00" lengthAdjust="spacingAndGlyphs" stroke="#222" stroke-width="0.10" >40</text>
<line x1="39.30" y1="270.10" x2="41.50" y2="270.10" stroke="#111" stroke-width="0.9" />
<text x="29.10" y="272.96" font-size="8.48" fill="#222" textLength="8.00" lengthAdjust="spacingAndGlyphs" stroke="#222" stroke-width="0.10" >20</text>
<line x1="39.30" y1="285.10" x2="41.50" y2="285.10" stroke="#111" stroke-width="0.9" />
<text x="33.10" y="287.96" font-size="8.48" fill="#222" textLength="4.00" lengthAdjust="spacingAndGlyphs" stroke="#222" stroke-width="0.10" >0</text>
<line x1="40.90" y1="285.30" x2="85.00" y2="285.30" stroke="#111" stroke-width="1.2" />
<text x="46.60" y="295.40" font-size="8.16" textLength="11.40" lengthAdjust="spacingAndGlyphs" stroke="#1a1a1a" stroke-width="0.10" >HD</text>
<text x="68.50" y="295.40" font-size="8.16" textLength="11.20" lengthAdjust="spacingAndGlyphs" stroke="#1a1a1a" stroke-width="0.10" >NP</text>
<text x="18.90" y="289.00" font-size="9.22" fill="#222" textLength="44.34" lengthAdjust="spacingAndGlyphs" transform="rotate(-90 18.90 289.00)" stroke="#222" stroke-width="0.22" >Freq. of CD56</text>
<text x="15.77" y="244.66" font-size="5.72" fill="#222" textLength="2.51" lengthAdjust="spacingAndGlyphs" transform="rotate(-90 15.77 244.66)" stroke="#222" stroke-width="0.10" >+</text>
<text x="18.90" y="240.14" font-size="9.22" fill="#222" textLength="38.84" lengthAdjust="spacingAndGlyphs" transform="rotate(-90 18.90 240.14)" stroke="#222" stroke-width="0.22" >NK cells (%)</text>
<path d="M52.65,271.20 L52.65,272.00 L52.65,275.00 L55.00,275.50 L56.80,276.50 L57.50,278.00 L59.00,279.00 L59.70,280.00 L59.70,282.00 L58.00,283.20 L54.50,284.00 L52.65,284.50 L52.35,284.50 L50.50,284.00 L47.00,283.20 L45.30,282.00 L45.30,280.00 L46.00,279.00 L47.50,278.00 L48.20,276.50 L50.00,275.50 L52.35,275.00 L52.35,272.00 L52.35,271.20Z" fill="#fff" stroke="#111" stroke-width="0.6" />
<circle cx="50.54" cy="275.75" r="0.85" fill="none" stroke="#111" stroke-width="0.5"/>
<circle cx="52.54" cy="275.57" r="0.85" fill="none" stroke="#111" stroke-width="0.5"/>
<circle cx="49.63" cy="277.67" r="0.85" fill="none" stroke="#111" stroke-width="0.5"/>
<circle cx="51.63" cy="277.54" r="0.85" fill="none" stroke="#111" stroke-width="0.5"/>
<circle cx="53.63" cy="277.34" r="0.85" fill="none" stroke="#111" stroke-width="0.5"/>
<circle cx="55.63" cy="277.63" r="0.85" fill="none" stroke="#111" stroke-width="0.5"/>
<circle cx="48.69" cy="279.37" r="0.85" fill="none" stroke="#111" stroke-width="0.5"/>
<circle cx="56.69" cy="279.50" r="0.85" fill="none" stroke="#111" stroke-width="0.5"/>
<circle cx="49.20" cy="281.25" r="0.85" fill="none" stroke="#111" stroke-width="0.5"/>
<circle cx="51.20" cy="281.05" r="0.85" fill="none" stroke="#111" stroke-width="0.5"/>
<circle cx="53.20" cy="281.25" r="0.85" fill="none" stroke="#111" stroke-width="0.5"/>
<circle cx="55.20" cy="280.93" r="0.85" fill="none" stroke="#111" stroke-width="0.5"/>
<circle cx="49.48" cy="283.03" r="0.85" fill="none" stroke="#111" stroke-width="0.5"/>
<circle cx="51.48" cy="282.80" r="0.85" fill="none" stroke="#111" stroke-width="0.5"/>
<circle cx="53.48" cy="282.87" r="0.85" fill="none" stroke="#111" stroke-width="0.5"/>
<circle cx="55.48" cy="282.73" r="0.85" fill="none" stroke="#111" stroke-width="0.5"/>
<circle cx="57.48" cy="283.06" r="0.85" fill="none" stroke="#111" stroke-width="0.5"/>
<circle cx="52.50" cy="272.00" r="0.95" fill="#111"/>
<line x1="46.00" y1="280.60" x2="59.00" y2="280.60" stroke="#e0102e" stroke-width="1.6" />
<path d="M74.65,225.40 L74.65,226.00 L74.65,240.00 L75.50,246.00 L74.65,250.00 L75.40,258.00 L75.70,266.00 L76.10,270.50 L79.00,273.00 L81.00,275.00 L81.90,277.50 L82.30,279.50 L81.70,281.50 L79.50,283.50 L76.00,284.80 L74.65,285.00 L74.35,285.00 L73.00,284.80 L69.50,283.50 L67.30,281.50 L66.70,279.50 L67.10,277.50 L68.00,275.00 L70.00,273.00 L72.90,270.50 L73.30,266.00 L73.60,258.00 L74.35,250.00 L73.50,246.00 L74.35,240.00 L74.35,226.00 L74.35,225.40Z" fill="#c4c4c4" stroke="#111" stroke-width="0.6" />
<circle cx="73.05" cy="271.14" r="0.85" fill="none" stroke="#111" stroke-width="0.5"/>
<circle cx="74.75" cy="271.33" r="0.85" fill="none" stroke="#111" stroke-width="0.5"/>
<circle cx="72.16" cy="272.74" r="0.85" fill="none" stroke="#111" stroke-width="0.5"/>
<circle cx="73.86" cy="272.53" r="0.85" fill="none" stroke="#111" stroke-width="0.5"/>
<circle cx="75.56" cy="272.77" r="0.85" fill="none" stroke="#111" stroke-width="0.5"/>
<circle cx="77.26" cy="272.69" r="0.85" fill="none" stroke="#111" stroke-width="0.5"/>
<circle cx="69.75" cy="274.18" r="0.85" fill="none" stroke="#111" stroke-width="0.5"/>
<circle cx="71.45" cy="274.07" r="0.85" fill="none" stroke="#111" stroke-width="0.5"/>
<circle cx="73.15" cy="274.06" r="0.85" fill="none" stroke="#111" stroke-width="0.5"/>
<circle cx="74.85" cy="273.95" r="0.85" fill="none" stroke="#111" stroke-width="0.5"/>
<circle cx="76.55" cy="274.33" r="0.85" fill="none" stroke="#111" stroke-width="0.5"/>
<circle cx="78.25" cy="274.19" r="0.85" fill="none" stroke="#111" stroke-width="0.5"/>
<circle cx="69.52" cy="275.79" r="0.85" fill="none" stroke="#111" stroke-width="0.5"/>
<circle cx="71.22" cy="275.55" r="0.85" fill="none" stroke="#111" stroke-width="0.5"/>
<circle cx="72.92" cy="275.83" r="0.85" fill="none" stroke="#111" stroke-width="0.5"/>
<circle cx="74.62" cy="275.50" r="0.85" fill="none" stroke="#111" stroke-width="0.5"/>
<circle cx="76.32" cy="275.49" r="0.85" fill="none" stroke="#111" stroke-width="0.5"/>
<circle cx="78.02" cy="275.63" r="0.85" fill="none" stroke="#111" stroke-width="0.5"/>
<circle cx="79.72" cy="275.80" r="0.85" fill="none" stroke="#111" stroke-width="0.5"/>
<circle cx="68.13" cy="277.00" r="0.85" fill="none" stroke="#111" stroke-width="0.5"/>
<circle cx="69.83" cy="277.08" r="0.85" fill="none" stroke="#111" stroke-width="0.5"/>
<circle cx="71.53" cy="277.04" r="0.85" fill="none" stroke="#111" stroke-width="0.5"/>
<circle cx="73.23" cy="277.02" r="0.85" fill="none" stroke="#111" stroke-width="0.5"/>
<circle cx="74.93" cy="277.23" r="0.85" fill="none" stroke="#111" stroke-width="0.5"/>
<circle cx="76.63" cy="276.97" r="0.85" fill="none" stroke="#111" stroke-width="0.5"/>
<circle cx="78.33" cy="277.30" r="0.85" fill="none" stroke="#111" stroke-width="0.5"/>
<circle cx="80.03" cy="277.27" r="0.85" fill="none" stroke="#111" stroke-width="0.5"/>
<circle cx="68.62" cy="278.64" r="0.85" fill="none" stroke="#111" stroke-width="0.5"/>
<circle cx="70.32" cy="278.76" r="0.85" fill="none" stroke="#111" stroke-width="0.5"/>
<circle cx="72.02" cy="278.73" r="0.85" fill="none" stroke="#111" stroke-width="0.5"/>
<circle cx="73.72" cy="278.73" r="0.85" fill="none" stroke="#111" stroke-width="0.5"/>
<circle cx="75.42" cy="278.47" r="0.85" fill="none" stroke="#111" stroke-width="0.5"/>
<circle cx="77.12" cy="278.57" r="0.85" fill="none" stroke="#111" stroke-width="0.5"/>
<circle cx="78.82" cy="278.57" r="0.85" fill="none" stroke="#111" stroke-width="0.5"/>
<circle cx="80.52" cy="278.67" r="0.85" fill="none" stroke="#111" stroke-width="0.5"/>
<circle cx="67.79" cy="279.99" r="0.85" fill="none" stroke="#111" stroke-width="0.5"/>
<circle cx="69.49" cy="280.15" r="0.85" fill="none" stroke="#111" stroke-width="0.5"/>
<circle cx="71.19" cy="280.34" r="0.85" fill="none" stroke="#111" stroke-width="0.5"/>
<circle cx="72.89" cy="280.23" r="0.85" fill="none" stroke="#111" stroke-width="0.5"/>
<circle cx="74.59" cy="280.17" r="0.85" fill="none" stroke="#111" stroke-width="0.5"/>
<circle cx="76.29" cy="280.28" r="0.85" fill="none" stroke="#111" stroke-width="0.5"/>
<circle cx="77.99" cy="280.09" r="0.85" fill="none" stroke="#111" stroke-width="0.5"/>
<circle cx="79.69" cy="280.35" r="0.85" fill="none" stroke="#111" stroke-width="0.5"/>
<circle cx="69.21" cy="281.48" r="0.85" fill="none" stroke="#111" stroke-width="0.5"/>
<circle cx="70.91" cy="281.78" r="0.85" fill="none" stroke="#111" stroke-width="0.5"/>
<circle cx="72.61" cy="281.63" r="0.85" fill="none" stroke="#111" stroke-width="0.5"/>
<circle cx="74.31" cy="281.46" r="0.85" fill="none" stroke="#111" stroke-width="0.5"/>
<circle cx="76.01" cy="281.63" r="0.85" fill="none" stroke="#111" stroke-width="0.5"/>
<circle cx="77.71" cy="281.61" r="0.85" fill="none" stroke="#111" stroke-width="0.5"/>
<circle cx="79.41" cy="281.54" r="0.85" fill="none" stroke="#111" stroke-width="0.5"/>
<circle cx="70.01" cy="283.12" r="0.85" fill="none" stroke="#111" stroke-width="0.5"/>
<circle cx="71.71" cy="283.23" r="0.85" fill="none" stroke="#111" stroke-width="0.5"/>
<circle cx="73.41" cy="283.24" r="0.85" fill="none" stroke="#111" stroke-width="0.5"/>
<circle cx="75.11" cy="283.04" r="0.85" fill="none" stroke="#111" stroke-width="0.5"/>
<circle cx="76.81" cy="283.14" r="0.85" fill="none" stroke="#111" stroke-width="0.5"/>
<circle cx="78.51" cy="283.34" r="0.85" fill="none" stroke="#111" stroke-width="0.5"/>
<circle cx="74.35" cy="284.64" r="0.85" fill="none" stroke="#111" stroke-width="0.5"/>
<circle cx="74.49" cy="267.40" r="0.95" fill="#111"/>
<circle cx="74.71" cy="260.00" r="0.95" fill="#111"/>
<circle cx="74.90" cy="261.10" r="0.95" fill="#111"/>
<circle cx="74.75" cy="259.40" r="0.95" fill="#111"/>
<circle cx="74.66" cy="264.60" r="0.95" fill="#111"/>
<circle cx="75.05" cy="270.00" r="0.95" fill="#111"/>
<circle cx="74.73" cy="265.70" r="0.95" fill="#111"/>
<circle cx="75.14" cy="268.10" r="0.95" fill="#111"/>
<circle cx="74.50" cy="226.00" r="0.95" fill="#111"/>
<circle cx="74.50" cy="238.00" r="0.95" fill="#111"/>
<circle cx="74.50" cy="240.00" r="0.95" fill="#111"/>
<circle cx="74.68" cy="244.00" r="0.95" fill="#111"/>
<circle cx="74.39" cy="246.00" r="0.95" fill="#111"/>
<circle cx="74.50" cy="249.00" r="0.95" fill="#111"/>
<circle cx="74.50" cy="252.00" r="0.95" fill="#111"/>
<line x1="66.70" y1="279.20" x2="82.30" y2="279.20" stroke="#e0102e" stroke-width="1.6" />
<rect x="68.40" y="223.10" width="12.20" height="49.90" fill="none" stroke="#e06a78" stroke-width="0.9" />
<text x="109.00" y="199.00" font-size="9.86" font-weight="bold" fill="#111" textLength="24.00" lengthAdjust="spacingAndGlyphs" >CD56</text>
<text x="133.40" y="195.40" font-size="6.68" font-weight="bold" fill="#111" textLength="13.40" lengthAdjust="spacingAndGlyphs" >dim</text>
<line x1="106.90" y1="207.20" x2="106.90" y2="285.90" stroke="#111" stroke-width="1.2" />
<line x1="104.70" y1="212.40" x2="106.90" y2="212.40" stroke="#111" stroke-width="0.9" />
<text x="90.90" y="215.26" font-size="8.48" fill="#222" textLength="12.00" lengthAdjust="spacingAndGlyphs" stroke="#222" stroke-width="0.10" >100</text>
<line x1="104.70" y1="227.00" x2="106.90" y2="227.00" stroke="#111" stroke-width="0.9" />
<text x="94.90" y="229.86" font-size="8.48" fill="#222" textLength="8.00" lengthAdjust="spacingAndGlyphs" stroke="#222" stroke-width="0.10" >80</text>
<line x1="104.70" y1="241.50" x2="106.90" y2="241.50" stroke="#111" stroke-width="0.9" />
<text x="94.90" y="244.36" font-size="8.48" fill="#222" textLength="8.00" lengthAdjust="spacingAndGlyphs" stroke="#222" stroke-width="0.10" >60</text>
<line x1="104.70" y1="256.10" x2="106.90" y2="256.10" stroke="#111" stroke-width="0.9" />
<text x="94.90" y="258.96" font-size="8.48" fill="#222" textLength="8.00" lengthAdjust="spacingAndGlyphs" stroke="#222" stroke-width="0.10" >40</text>
<line x1="104.70" y1="270.60" x2="106.90" y2="270.60" stroke="#111" stroke-width="0.9" />
<text x="94.90" y="273.46" font-size="8.48" fill="#222" textLength="8.00" lengthAdjust="spacingAndGlyphs" stroke="#222" stroke-width="0.10" >20</text>
<line x1="104.70" y1="285.20" x2="106.90" y2="285.20" stroke="#111" stroke-width="0.9" />
<text x="98.90" y="288.06" font-size="8.48" fill="#222" textLength="4.00" lengthAdjust="spacingAndGlyphs" stroke="#222" stroke-width="0.10" >0</text>
<line x1="106.30" y1="285.30" x2="148.00" y2="285.30" stroke="#111" stroke-width="1.2" />
<text x="111.80" y="295.60" font-size="8.16" textLength="11.20" lengthAdjust="spacingAndGlyphs" stroke="#1a1a1a" stroke-width="0.10" >HD</text>
<text x="132.90" y="295.60" font-size="8.16" textLength="10.20" lengthAdjust="spacingAndGlyphs" stroke="#1a1a1a" stroke-width="0.10" >NP</text>
<path d="M117.65,214.20 L122.50,215.00 L123.70,216.00 L123.90,217.50 L123.00,219.00 L121.00,220.50 L120.00,221.50 L118.50,223.00 L119.00,224.00 L117.65,225.00 L117.35,225.00 L116.00,224.00 L116.50,223.00 L115.00,221.50 L114.00,220.50 L112.00,219.00 L111.10,217.50 L111.30,216.00 L112.50,215.00 L117.35,214.20Z" fill="#ccc" stroke="#111" stroke-width="0.6" />
<circle cx="117.00" cy="214.93" r="0.85" fill="none" stroke="#111" stroke-width="0.5"/>
<circle cx="118.80" cy="214.96" r="0.85" fill="none" stroke="#111" stroke-width="0.5"/>
<circle cx="120.60" cy="215.02" r="0.85" fill="none" stroke="#111" stroke-width="0.5"/>
<circle cx="113.02" cy="216.52" r="0.85" fill="none" stroke="#111" stroke-width="0.5"/>
<circle cx="114.82" cy="216.70" r="0.85" fill="none" stroke="#111" stroke-width="0.5"/>
<circle cx="116.62" cy="216.44" r="0.85" fill="none" stroke="#111" stroke-width="0.5"/>
<circle cx="120.22" cy="216.48" r="0.85" fill="none" stroke="#111" stroke-width="0.5"/>
<circle cx="122.02" cy="216.66" r="0.85" fill="none" stroke="#111" stroke-width="0.5"/>
<circle cx="112.42" cy="218.10" r="0.85" fill="none" stroke="#111" stroke-width="0.5"/>
<circle cx="116.02" cy="218.10" r="0.85" fill="none" stroke="#111" stroke-width="0.5"/>
<circle cx="117.82" cy="218.06" r="0.85" fill="none" stroke="#111" stroke-width="0.5"/>
<circle cx="119.62" cy="218.08" r="0.85" fill="none" stroke="#111" stroke-width="0.5"/>
<circle cx="121.42" cy="218.11" r="0.85" fill="none" stroke="#111" stroke-width="0.5"/>
<circle cx="114.87" cy="219.98" r="0.85" fill="none" stroke="#111" stroke-width="0.5"/>
<circle cx="116.67" cy="219.77" r="0.85" fill="none" stroke="#111" stroke-width="0.5"/>
<circle cx="118.47" cy="219.71" r="0.85" fill="none" stroke="#111" stroke-width="0.5"/>
<circle cx="120.27" cy="219.75" r="0.85" fill="none" stroke="#111" stroke-width="0.5"/>
<circle cx="115.80" cy="221.28" r="0.85" fill="none" stroke="#111" stroke-width="0.5"/>
<circle cx="116.57" cy="224.00" r="0.95" fill="#111"/>
<line x1="111.30" y1="217.50" x2="123.70" y2="217.50" stroke="#e0102e" stroke-width="1.6" />
<path d="M137.65,212.30 L140.50,213.00 L143.80,214.50 L144.50,216.00 L144.70,218.50 L143.50,220.00 L141.00,222.00 L139.70,224.00 L139.00,226.00 L138.40,230.00 L137.65,236.00 L138.40,242.00 L137.65,246.00 L137.65,270.00 L137.65,271.60 L137.35,271.60 L137.35,270.00 L137.35,246.00 L136.60,242.00 L137.35,236.00 L136.60,230.00 L136.00,226.00 L135.30,224.00 L134.00,222.00 L131.50,220.00 L130.30,218.50 L130.50,216.00 L131.20,214.50 L134.50,213.00 L137.35,212.30Z" fill="#aaa" stroke="#111" stroke-width="0.6" />
<circle cx="135.29" cy="213.22" r="0.85" fill="none" stroke="#111" stroke-width="0.5"/>
<circle cx="136.99" cy="212.86" r="0.85" fill="none" stroke="#111" stroke-width="0.5"/>
<circle cx="138.69" cy="212.87" r="0.85" fill="none" stroke="#111" stroke-width="0.5"/>
<circle cx="132.93" cy="214.63" r="0.85" fill="none" stroke="#111" stroke-width="0.5"/>
<circle cx="134.63" cy="214.35" r="0.85" fill="none" stroke="#111" stroke-width="0.5"/>
<circle cx="136.33" cy="214.39" r="0.85" fill="none" stroke="#111" stroke-width="0.5"/>
<circle cx="138.03" cy="214.53" r="0.85" fill="none" stroke="#111" stroke-width="0.5"/>
<circle cx="139.73" cy="214.50" r="0.85" fill="none" stroke="#111" stroke-width="0.5"/>
<circle cx="141.43" cy="214.67" r="0.85" fill="none" stroke="#111" stroke-width="0.5"/>
<circle cx="131.40" cy="216.06" r="0.85" fill="none" stroke="#111" stroke-width="0.5"/>
<circle cx="133.10" cy="215.93" r="0.85" fill="none" stroke="#111" stroke-width="0.5"/>
<circle cx="134.80" cy="216.07" r="0.85" fill="none" stroke="#111" stroke-width="0.5"/>
<circle cx="136.50" cy="216.17" r="0.85" fill="none" stroke="#111" stroke-width="0.5"/>
<circle cx="138.20" cy="216.22" r="0.85" fill="none" stroke="#111" stroke-width="0.5"/>
<circle cx="139.90" cy="215.86" r="0.85" fill="none" stroke="#111" stroke-width="0.5"/>
<circle cx="141.60" cy="215.88" r="0.85" fill="none" stroke="#111" stroke-width="0.5"/>
<circle cx="143.30" cy="216.15" r="0.85" fill="none" stroke="#111" stroke-width="0.5"/>
<circle cx="132.13" cy="217.43" r="0.85" fill="none" stroke="#111" stroke-width="0.5"/>
<circle cx="133.83" cy="217.68" r="0.85" fill="none" stroke="#111" stroke-width="0.5"/>
<circle cx="135.53" cy="217.60" r="0.85" fill="none" stroke="#111" stroke-width="0.5"/>
<circle cx="137.23" cy="217.67" r="0.85" fill="none" stroke="#111" stroke-width="0.5"/>
<circle cx="138.93" cy="217.46" r="0.85" fill="none" stroke="#111" stroke-width="0.5"/>
<circle cx="140.63" cy="217.47" r="0.85" fill="none" stroke="#111" stroke-width="0.5"/>
<circle cx="142.33" cy="217.71" r="0.85" fill="none" stroke="#111" stroke-width="0.5"/>
<circle cx="131.64" cy="218.88" r="0.85" fill="none" stroke="#111" stroke-width="0.5"/>
<circle cx="133.34" cy="219.12" r="0.85" fill="none" stroke="#111" stroke-width="0.5"/>
<circle cx="135.04" cy="218.96" r="0.85" fill="none" stroke="#111" stroke-width="0.5"/>
<circle cx="136.74" cy="218.86" r="0.85" fill="none" stroke="#111" stroke-width="0.5"/>
<circle cx="138.44" cy="219.12" r="0.85" fill="none" stroke="#111" stroke-width="0.5"/>
<circle cx="140.14" cy="218.91" r="0.85" fill="none" stroke="#111" stroke-width="0.5"/>
<circle cx="141.84" cy="219.22" r="0.85" fill="none" stroke="#111" stroke-width="0.5"/>
<circle cx="133.94" cy="220.51" r="0.85" fill="none" stroke="#111" stroke-width="0.5"/>
<circle cx="135.64" cy="220.64" r="0.85" fill="none" stroke="#111" stroke-width="0.5"/>
<circle cx="137.34" cy="220.38" r="0.85" fill="none" stroke="#111" stroke-width="0.5"/>
<circle cx="139.04" cy="220.44" r="0.85" fill="none" stroke="#111" stroke-width="0.5"/>
<circle cx="140.74" cy="220.49" r="0.85" fill="none" stroke="#111" stroke-width="0.5"/>
<circle cx="134.93" cy="222.10" r="0.85" fill="none" stroke="#111" stroke-width="0.5"/>
<circle cx="136.63" cy="222.13" r="0.85" fill="none" stroke="#111" stroke-width="0.5"/>
<circle cx="138.33" cy="221.91" r="0.85" fill="none" stroke="#111" stroke-width="0.5"/>
<circle cx="140.03" cy="222.17" r="0.85" fill="none" stroke="#111" stroke-width="0.5"/>
<circle cx="136.76" cy="223.62" r="0.85" fill="none" stroke="#111" stroke-width="0.5"/>
<circle cx="138.46" cy="223.66" r="0.85" fill="none" stroke="#111" stroke-width="0.5"/>
<circle cx="136.57" cy="225.06" r="0.85" fill="none" stroke="#111" stroke-width="0.5"/>
<circle cx="138.27" cy="225.24" r="0.85" fill="none" stroke="#111" stroke-width="0.5"/>
<circle cx="137.50" cy="233.10" r="0.95" fill="#111"/>
<circle cx="137.74" cy="231.00" r="0.95" fill="#111"/>
<circle cx="138.59" cy="225.30" r="0.95" fill="#111"/>
<circle cx="137.65" cy="242.80" r="0.95" fill="#111"/>
<circle cx="135.54" cy="222.20" r="0.95" fill="#111"/>
<circle cx="137.50" cy="234.10" r="0.95" fill="#111"/>
<circle cx="137.52" cy="243.60" r="0.95" fill="#111"/>
<circle cx="137.88" cy="223.90" r="0.95" fill="#111"/>
<circle cx="137.50" cy="235.30" r="0.95" fill="#111"/>
<circle cx="137.50" cy="236.80" r="0.95" fill="#111"/>
<circle cx="136.15" cy="223.00" r="0.95" fill="#111"/>
<circle cx="137.73" cy="231.10" r="0.95" fill="#111"/>
<circle cx="137.50" cy="238.90" r="0.95" fill="#111"/>
<circle cx="137.54" cy="232.80" r="0.95" fill="#111"/>
<circle cx="137.50" cy="248.00" r="0.95" fill="#111"/>
<circle cx="137.50" cy="252.00" r="0.95" fill="#111"/>
<circle cx="137.50" cy="256.50" r="0.95" fill="#111"/>
<circle cx="137.50" cy="270.80" r="0.95" fill="#111"/>
<line x1="130.30" y1="217.90" x2="144.70" y2="217.90" stroke="#e0102e" stroke-width="1.6" />
<text x="165.80" y="187.60" font-size="10.92" font-weight="bold" fill="#000" textLength="7.70" lengthAdjust="spacingAndGlyphs" >D</text>
<text x="191.50" y="187.00" font-size="9.96" fill="#111" textLength="24.20" lengthAdjust="spacingAndGlyphs" stroke="#111" stroke-width="0.5">CD56</text>
<text x="216.10" y="183.30" font-size="6.78" fill="#111" textLength="20.90" lengthAdjust="spacingAndGlyphs" stroke="#111" stroke-width="0.35">bright</text>
<text x="194.60" y="198.80" font-size="9.96" fill="#111" textLength="7.70" lengthAdjust="spacingAndGlyphs" stroke="#111" stroke-width="0.5">in</text>
<text x="205.80" y="198.80" font-size="9.96" fill="#c8102e" textLength="13.40" lengthAdjust="spacingAndGlyphs" stroke="#c8102e" stroke-width="0.5">NK</text>
<text x="219.80" y="195.60" font-size="6.78" fill="#c8102e" textLength="14.40" lengthAdjust="spacingAndGlyphs" stroke="#c8102e" stroke-width="0.35">imm</text>
<line x1="194.80" y1="209.60" x2="194.80" y2="285.90" stroke="#111" stroke-width="1.2" />
<line x1="192.60" y1="215.10" x2="194.80" y2="215.10" stroke="#111" stroke-width="0.9" />
<text x="181.70" y="217.96" font-size="8.48" fill="#222" textLength="8.00" lengthAdjust="spacingAndGlyphs" stroke="#222" stroke-width="0.10" >50</text>
<line x1="192.60" y1="229.30" x2="194.80" y2="229.30" stroke="#111" stroke-width="0.9" />
<text x="181.70" y="232.16" font-size="8.48" fill="#222" textLength="8.00" lengthAdjust="spacingAndGlyphs" stroke="#222" stroke-width="0.10" >40</text>
<line x1="192.60" y1="243.30" x2="194.80" y2="243.30" stroke="#111" stroke-width="0.9" />
<text x="181.70" y="246.16" font-size="8.48" fill="#222" textLength="8.00" lengthAdjust="spacingAndGlyphs" stroke="#222" stroke-width="0.10" >30</text>
<line x1="192.60" y1="257.30" x2="194.80" y2="257.30" stroke="#111" stroke-width="0.9" />
<text x="181.70" y="260.16" font-size="8.48" fill="#222" textLength="8.00" lengthAdjust="spacingAndGlyphs" stroke="#222" stroke-width="0.10" >20</text>
<line x1="192.60" y1="271.30" x2="194.80" y2="271.30" stroke="#111" stroke-width="0.9" />
<text x="181.70" y="274.16" font-size="8.48" fill="#222" textLength="8.00" lengthAdjust="spacingAndGlyphs" stroke="#222" stroke-width="0.10" >10</text>
<line x1="192.60" y1="285.30" x2="194.80" y2="285.30" stroke="#111" stroke-width="0.9" />
<text x="185.70" y="288.16" font-size="8.48" fill="#222" textLength="4.00" lengthAdjust="spacingAndGlyphs" stroke="#222" stroke-width="0.10" >0</text>
<line x1="194.20" y1="285.30" x2="234.20" y2="285.30" stroke="#111" stroke-width="1.2" />
<text x="175.60" y="294.00" font-size="9.22" fill="#222" textLength="45.51" lengthAdjust="spacingAndGlyphs" transform="rotate(-90 175.60 294.00)" stroke="#222" stroke-width="0.22" >Freq. of CD56</text>
<text x="172.47" y="248.49" font-size="5.72" fill="#222" textLength="2.57" lengthAdjust="spacingAndGlyphs" transform="rotate(-90 172.47 248.49)" stroke="#222" stroke-width="0.10" >+</text>
<text x="175.60" y="243.86" font-size="9.22" fill="#222" textLength="39.86" lengthAdjust="spacingAndGlyphs" transform="rotate(-90 175.60 243.86)" stroke="#222" stroke-width="0.22" >NK cells (%)</text>
<text x="197.00" y="295.50" font-size="8.16" textLength="15.20" lengthAdjust="spacingAndGlyphs" stroke="#1a1a1a" stroke-width="0.10" >Year</text>
<text x="202.30" y="304.30" font-size="8.16" textLength="4.20" lengthAdjust="spacingAndGlyphs" stroke="#1a1a1a" stroke-width="0.10" >0</text>
<text x="215.80" y="295.50" font-size="8.16" textLength="16.20" lengthAdjust="spacingAndGlyphs" stroke="#1a1a1a" stroke-width="0.10" >Year</text>
<text x="222.30" y="304.30" font-size="8.16" textLength="4.20" lengthAdjust="spacingAndGlyphs" stroke="#1a1a1a" stroke-width="0.10" >2</text>
<line x1="204.50" y1="226.20" x2="224.40" y2="229.50" stroke="#333" stroke-width="0.8" />
<line x1="204.50" y1="241.70" x2="224.40" y2="244.50" stroke="#555" stroke-width="0.8" />
<line x1="204.50" y1="248.30" x2="224.40" y2="246.60" stroke="#777" stroke-width="0.8" />
<line x1="204.50" y1="253.70" x2="224.40" y2="242.30" stroke="#222" stroke-width="0.8" />
<line x1="204.50" y1="259.90" x2="224.40" y2="252.50" stroke="#222" stroke-width="0.8" />
<line x1="204.50" y1="259.90" x2="224.40" y2="259.70" stroke="#888" stroke-width="0.8" />
<circle cx="204.50" cy="226.20" r="1.70" fill="#111"/>
<circle cx="204.50" cy="241.70" r="1.70" fill="#111"/>
<circle cx="204.50" cy="248.30" r="1.70" fill="#111"/>
<circle cx="204.50" cy="253.70" r="1.70" fill="#111"/>
<circle cx="204.50" cy="259.90" r="1.70" fill="#111"/>
<circle cx="204.50" cy="259.90" r="1.70" fill="#111"/>
<rect x="222.80" y="227.90" width="3.20" height="3.20" fill="#111" />
<rect x="222.80" y="240.70" width="3.20" height="3.20" fill="#111" />
<rect x="222.80" y="242.90" width="3.20" height="3.20" fill="#111" />
<rect x="222.80" y="245.00" width="3.20" height="3.20" fill="#111" />
<rect x="222.80" y="250.90" width="3.20" height="3.20" fill="#111" />
<rect x="222.80" y="258.10" width="3.20" height="3.20" fill="#111" />
<text x="256.00" y="188.00" font-size="10.92" font-weight="bold" fill="#000" textLength="6.30" lengthAdjust="spacingAndGlyphs" >E</text>
<text x="282.90" y="198.70" font-size="9.96" fill="#111" textLength="24.20" lengthAdjust="spacingAndGlyphs" stroke="#111" stroke-width="0.5">CD56</text>
<text x="307.40" y="196.20" font-size="6.78" fill="#111" textLength="4.00" lengthAdjust="spacingAndGlyphs" stroke="#111" stroke-width="0.35">+</text>
<text x="313.40" y="198.70" font-size="9.96" fill="#111" textLength="16.20" lengthAdjust="spacingAndGlyphs" stroke="#111" stroke-width="0.5">NK</text>
<line x1="282.60" y1="206.20" x2="282.60" y2="286.00" stroke="#111" stroke-width="1.2" />
<line x1="280.40" y1="211.60" x2="282.60" y2="211.60" stroke="#111" stroke-width="0.9" />
<text x="268.90" y="214.46" font-size="8.48" fill="#222" textLength="8.20" lengthAdjust="spacingAndGlyphs" stroke="#222" stroke-width="0.10" >25</text>
<line x1="280.40" y1="226.40" x2="282.60" y2="226.40" stroke="#111" stroke-width="0.9" />
<text x="268.90" y="229.26" font-size="8.48" fill="#222" textLength="8.20" lengthAdjust="spacingAndGlyphs" stroke="#222" stroke-width="0.10" >20</text>
<line x1="280.40" y1="241.10" x2="282.60" y2="241.10" stroke="#111" stroke-width="0.9" />
<text x="268.90" y="243.96" font-size="8.48" fill="#222" textLength="8.20" lengthAdjust="spacingAndGlyphs" stroke="#222" stroke-width="0.10" >15</text>
<line x1="280.40" y1="255.90" x2="282.60" y2="255.90" stroke="#111" stroke-width="0.9" />
<text x="268.90" y="258.76" font-size="8.48" fill="#222" textLength="8.20" lengthAdjust="spacingAndGlyphs" stroke="#222" stroke-width="0.10" >10</text>
<line x1="280.40" y1="270.70" x2="282.60" y2="270.70" stroke="#111" stroke-width="0.9" />
<text x="273.00" y="273.56" font-size="8.48" fill="#222" textLength="4.10" lengthAdjust="spacingAndGlyphs" stroke="#222" stroke-width="0.10" >5</text>
<line x1="280.40" y1="285.40" x2="282.60" y2="285.40" stroke="#111" stroke-width="0.9" />
<text x="273.00" y="288.26" font-size="8.48" fill="#222" textLength="4.10" lengthAdjust="spacingAndGlyphs" stroke="#222" stroke-width="0.10" >0</text>
<line x1="282.00" y1="285.40" x2="331.80" y2="285.40" stroke="#111" stroke-width="1.2" />
<text x="262.80" y="282.10" font-size="9.22" fill="#222" textLength="73.70" lengthAdjust="spacingAndGlyphs" transform="rotate(-90 262.80 282.10)" stroke="#222" stroke-width="0.22" >Freq. of live PBMC (%)</text>
<line x1="307.80" y1="213.50" x2="324.60" y2="213.50" stroke="#000" stroke-width="1" />
<text x="309.40" y="214.00" font-size="7.00" font-weight="bold" textLength="13.30" lengthAdjust="spacingAndGlyphs" >****</text>
<line x1="290.70" y1="221.50" x2="324.60" y2="221.50" stroke="#000" stroke-width="1" />
<text x="300.90" y="221.90" font-size="7.00" font-weight="bold" textLength="13.30" lengthAdjust="spacingAndGlyphs" >****</text>
<text x="285.00" y="295.40" font-size="8.16" textLength="10.90" lengthAdjust="spacingAndGlyphs" stroke="#1a1a1a" stroke-width="0.10" >HD</text>
<text x="302.00" y="295.40" font-size="8.16" textLength="10.20" lengthAdjust="spacingAndGlyphs" stroke="#1a1a1a" stroke-width="0.10" >NP</text>
<text x="317.80" y="295.40" font-size="8.16" fill="#c8102e" textLength="11.60" lengthAdjust="spacingAndGlyphs" stroke="#c8102e" stroke-width="0.10" >NK</text>
<text x="329.80" y="292.00" font-size="5.94" fill="#c8102e" textLength="11.50" lengthAdjust="spacingAndGlyphs" stroke="#c8102e" stroke-width="0.10" >imm</text>
<path d="M290.65,243.20 L293.70,243.60 L293.50,244.50 L291.90,247.00 L291.20,249.50 L292.50,252.00 L293.70,256.00 L295.00,260.00 L295.90,264.00 L296.20,267.20 L295.70,270.00 L294.50,273.00 L292.90,276.00 L291.50,279.00 L290.65,280.00 L290.35,280.00 L289.50,279.00 L288.10,276.00 L286.50,273.00 L285.30,270.00 L284.80,267.20 L285.10,264.00 L286.00,260.00 L287.30,256.00 L288.50,252.00 L289.80,249.50 L289.10,247.00 L287.50,244.50 L287.30,243.60 L290.35,243.20Z" fill="#fff" stroke="#111" stroke-width="0.6" />
<circle cx="289.07" cy="253.06" r="0.85" fill="none" stroke="#111" stroke-width="0.5"/>
<circle cx="291.47" cy="253.12" r="0.85" fill="none" stroke="#111" stroke-width="0.5"/>
<circle cx="287.71" cy="257.31" r="0.85" fill="none" stroke="#111" stroke-width="0.5"/>
<circle cx="288.20" cy="259.77" r="0.85" fill="none" stroke="#111" stroke-width="0.5"/>
<circle cx="290.60" cy="259.54" r="0.85" fill="none" stroke="#111" stroke-width="0.5"/>
<circle cx="293.67" cy="261.80" r="0.85" fill="none" stroke="#111" stroke-width="0.5"/>
<circle cx="288.18" cy="266.27" r="0.85" fill="none" stroke="#111" stroke-width="0.5"/>
<circle cx="287.13" cy="268.52" r="0.85" fill="none" stroke="#111" stroke-width="0.5"/>
<circle cx="291.93" cy="268.63" r="0.85" fill="none" stroke="#111" stroke-width="0.5"/>
<circle cx="293.36" cy="272.97" r="0.85" fill="none" stroke="#111" stroke-width="0.5"/>
<circle cx="289.29" cy="243.60" r="0.95" fill="#111"/>
<line x1="285.60" y1="265.70" x2="295.40" y2="265.70" stroke="#e0102e" stroke-width="1.6" />
<path d="M307.65,231.60 L308.80,232.40 L307.65,233.20 L307.65,244.00 L309.70,245.50 L310.50,247.00 L310.80,255.00 L311.30,262.00 L311.60,268.00 L311.70,274.00 L311.30,277.50 L307.65,278.60 L307.35,278.60 L303.70,277.50 L303.30,274.00 L303.40,268.00 L303.70,262.00 L304.20,255.00 L304.50,247.00 L305.30,245.50 L307.35,244.00 L307.35,233.20 L306.20,232.40 L307.35,231.60Z" fill="#bbb" stroke="#111" stroke-width="0.6" />
<circle cx="305.91" cy="246.14" r="0.85" fill="none" stroke="#111" stroke-width="0.5"/>
<circle cx="307.71" cy="246.04" r="0.85" fill="none" stroke="#111" stroke-width="0.5"/>
<circle cx="306.27" cy="247.70" r="0.85" fill="none" stroke="#111" stroke-width="0.5"/>
<circle cx="308.07" cy="247.75" r="0.85" fill="none" stroke="#111" stroke-width="0.5"/>
<circle cx="305.31" cy="249.41" r="0.85" fill="none" stroke="#111" stroke-width="0.5"/>
<circle cx="307.11" cy="249.49" r="0.85" fill="none" stroke="#111" stroke-width="0.5"/>
<circle cx="308.91" cy="249.60" r="0.85" fill="none" stroke="#111" stroke-width="0.5"/>
<circle cx="306.14" cy="251.10" r="0.85" fill="none" stroke="#111" stroke-width="0.5"/>
<circle cx="307.94" cy="251.26" r="0.85" fill="none" stroke="#111" stroke-width="0.5"/>
<circle cx="309.74" cy="251.32" r="0.85" fill="none" stroke="#111" stroke-width="0.5"/>
<circle cx="305.18" cy="252.99" r="0.85" fill="none" stroke="#111" stroke-width="0.5"/>
<circle cx="306.98" cy="252.68" r="0.85" fill="none" stroke="#111" stroke-width="0.5"/>
<circle cx="308.78" cy="252.90" r="0.85" fill="none" stroke="#111" stroke-width="0.5"/>
<circle cx="306.02" cy="254.68" r="0.85" fill="none" stroke="#111" stroke-width="0.5"/>
<circle cx="307.82" cy="254.62" r="0.85" fill="none" stroke="#111" stroke-width="0.5"/>
<circle cx="309.62" cy="254.44" r="0.85" fill="none" stroke="#111" stroke-width="0.5"/>
<circle cx="305.01" cy="256.25" r="0.85" fill="none" stroke="#111" stroke-width="0.5"/>
<circle cx="306.81" cy="256.14" r="0.85" fill="none" stroke="#111" stroke-width="0.5"/>
<circle cx="308.61" cy="256.18" r="0.85" fill="none" stroke="#111" stroke-width="0.5"/>
<circle cx="305.79" cy="257.90" r="0.85" fill="none" stroke="#111" stroke-width="0.5"/>
<circle cx="307.59" cy="257.81" r="0.85" fill="none" stroke="#111" stroke-width="0.5"/>
<circle cx="309.39" cy="258.03" r="0.85" fill="none" stroke="#111" stroke-width="0.5"/>
<circle cx="304.77" cy="259.50" r="0.85" fill="none" stroke="#111" stroke-width="0.5"/>
<circle cx="306.57" cy="259.71" r="0.85" fill="none" stroke="#111" stroke-width="0.5"/>
<circle cx="308.37" cy="259.74" r="0.85" fill="none" stroke="#111" stroke-width="0.5"/>
<circle cx="310.17" cy="259.63" r="0.85" fill="none" stroke="#111" stroke-width="0.5"/>
<circle cx="305.55" cy="261.53" r="0.85" fill="none" stroke="#111" stroke-width="0.5"/>
<circle cx="307.35" cy="261.40" r="0.85" fill="none" stroke="#111" stroke-width="0.5"/>
<circle cx="309.15" cy="261.30" r="0.85" fill="none" stroke="#111" stroke-width="0.5"/>
<circle cx="304.55" cy="263.15" r="0.85" fill="none" stroke="#111" stroke-width="0.5"/>
<circle cx="306.35" cy="263.03" r="0.85" fill="none" stroke="#111" stroke-width="0.5"/>
<circle cx="308.15" cy="262.94" r="0.85" fill="none" stroke="#111" stroke-width="0.5"/>
<circle cx="309.95" cy="262.86" r="0.85" fill="none" stroke="#111" stroke-width="0.5"/>
<circle cx="305.36" cy="264.73" r="0.85" fill="none" stroke="#111" stroke-width="0.5"/>
<circle cx="307.16" cy="264.78" r="0.85" fill="none" stroke="#111" stroke-width="0.5"/>
<circle cx="308.96" cy="264.58" r="0.85" fill="none" stroke="#111" stroke-width="0.5"/>
<circle cx="304.38" cy="266.32" r="0.85" fill="none" stroke="#111" stroke-width="0.5"/>
<circle cx="306.18" cy="266.38" r="0.85" fill="none" stroke="#111" stroke-width="0.5"/>
<circle cx="307.98" cy="266.34" r="0.85" fill="none" stroke="#111" stroke-width="0.5"/>
<circle cx="309.78" cy="266.32" r="0.85" fill="none" stroke="#111" stroke-width="0.5"/>
<circle cx="305.20" cy="268.20" r="0.85" fill="none" stroke="#111" stroke-width="0.5"/>
<circle cx="307.00" cy="268.04" r="0.85" fill="none" stroke="#111" stroke-width="0.5"/>
<circle cx="308.80" cy="268.16" r="0.85" fill="none" stroke="#111" stroke-width="0.5"/>
<circle cx="310.60" cy="268.11" r="0.85" fill="none" stroke="#111" stroke-width="0.5"/>
<circle cx="304.27" cy="269.73" r="0.85" fill="none" stroke="#111" stroke-width="0.5"/>
<circle cx="306.07" cy="269.87" r="0.85" fill="none" stroke="#111" stroke-width="0.5"/>
<circle cx="307.87" cy="269.75" r="0.85" fill="none" stroke="#111" stroke-width="0.5"/>
<circle cx="309.67" cy="269.69" r="0.85" fill="none" stroke="#111" stroke-width="0.5"/>
<circle cx="305.14" cy="271.58" r="0.85" fill="none" stroke="#111" stroke-width="0.5"/>
<circle cx="306.94" cy="271.56" r="0.85" fill="none" stroke="#111" stroke-width="0.5"/>
<circle cx="308.74" cy="271.35" r="0.85" fill="none" stroke="#111" stroke-width="0.5"/>
<circle cx="310.54" cy="271.48" r="0.85" fill="none" stroke="#111" stroke-width="0.5"/>
<circle cx="306.01" cy="273.36" r="0.85" fill="none" stroke="#111" stroke-width="0.5"/>
<circle cx="307.81" cy="273.25" r="0.85" fill="none" stroke="#111" stroke-width="0.5"/>
<circle cx="309.61" cy="273.36" r="0.85" fill="none" stroke="#111" stroke-width="0.5"/>
<circle cx="305.21" cy="274.82" r="0.85" fill="none" stroke="#111" stroke-width="0.5"/>
<circle cx="308.81" cy="275.14" r="0.85" fill="none" stroke="#111" stroke-width="0.5"/>
<circle cx="310.61" cy="275.04" r="0.85" fill="none" stroke="#111" stroke-width="0.5"/>
<circle cx="304.50" cy="276.52" r="0.85" fill="none" stroke="#111" stroke-width="0.5"/>
<circle cx="306.30" cy="276.72" r="0.85" fill="none" stroke="#111" stroke-width="0.5"/>
<circle cx="308.10" cy="276.61" r="0.85" fill="none" stroke="#111" stroke-width="0.5"/>
<circle cx="309.90" cy="276.47" r="0.85" fill="none" stroke="#111" stroke-width="0.5"/>
<circle cx="307.16" cy="232.40" r="0.95" fill="#111"/>
<line x1="303.50" y1="265.10" x2="311.50" y2="265.10" stroke="#e0102e" stroke-width="1.6" />
<path d="M323.65,251.80 L324.60,252.70 L323.65,253.50 L323.65,273.00 L327.00,274.20 L328.10,276.00 L329.00,278.60 L328.80,281.00 L327.30,283.00 L323.65,284.30 L323.35,284.30 L319.70,283.00 L318.20,281.00 L318.00,278.60 L318.90,276.00 L320.00,274.20 L323.35,273.00 L323.35,253.50 L322.40,252.70 L323.35,251.80Z" fill="#888" stroke="#111" stroke-width="0.6" />
<circle cx="322.71" cy="273.48" r="0.85" fill="none" stroke="#111" stroke-width="0.5"/>
<circle cx="321.23" cy="275.15" r="0.85" fill="none" stroke="#111" stroke-width="0.5"/>
<circle cx="322.93" cy="274.97" r="0.85" fill="none" stroke="#111" stroke-width="0.5"/>
<circle cx="324.63" cy="275.11" r="0.85" fill="none" stroke="#111" stroke-width="0.5"/>
<circle cx="326.33" cy="274.94" r="0.85" fill="none" stroke="#111" stroke-width="0.5"/>
<circle cx="319.61" cy="276.70" r="0.85" fill="none" stroke="#111" stroke-width="0.5"/>
<circle cx="321.31" cy="276.63" r="0.85" fill="none" stroke="#111" stroke-width="0.5"/>
<circle cx="323.01" cy="276.54" r="0.85" fill="none" stroke="#111" stroke-width="0.5"/>
<circle cx="324.71" cy="276.50" r="0.85" fill="none" stroke="#111" stroke-width="0.5"/>
<circle cx="326.41" cy="276.55" r="0.85" fill="none" stroke="#111" stroke-width="0.5"/>
<circle cx="319.94" cy="277.98" r="0.85" fill="none" stroke="#111" stroke-width="0.5"/>
<circle cx="321.64" cy="278.22" r="0.85" fill="none" stroke="#111" stroke-width="0.5"/>
<circle cx="323.34" cy="277.93" r="0.85" fill="none" stroke="#111" stroke-width="0.5"/>
<circle cx="325.04" cy="277.94" r="0.85" fill="none" stroke="#111" stroke-width="0.5"/>
<circle cx="326.74" cy="277.98" r="0.85" fill="none" stroke="#111" stroke-width="0.5"/>
<circle cx="318.98" cy="279.44" r="0.85" fill="none" stroke="#111" stroke-width="0.5"/>
<circle cx="320.68" cy="279.53" r="0.85" fill="none" stroke="#111" stroke-width="0.5"/>
<circle cx="322.38" cy="279.56" r="0.85" fill="none" stroke="#111" stroke-width="0.5"/>
<circle cx="324.08" cy="279.46" r="0.85" fill="none" stroke="#111" stroke-width="0.5"/>
<circle cx="325.78" cy="279.68" r="0.85" fill="none" stroke="#111" stroke-width="0.5"/>
<circle cx="327.48" cy="279.54" r="0.85" fill="none" stroke="#111" stroke-width="0.5"/>
<circle cx="319.99" cy="281.21" r="0.85" fill="none" stroke="#111" stroke-width="0.5"/>
<circle cx="321.69" cy="280.91" r="0.85" fill="none" stroke="#111" stroke-width="0.5"/>
<circle cx="323.39" cy="281.16" r="0.85" fill="none" stroke="#111" stroke-width="0.5"/>
<circle cx="325.09" cy="281.24" r="0.85" fill="none" stroke="#111" stroke-width="0.5"/>
<circle cx="326.79" cy="280.95" r="0.85" fill="none" stroke="#111" stroke-width="0.5"/>
<circle cx="320.26" cy="282.48" r="0.85" fill="none" stroke="#111" stroke-width="0.5"/>
<circle cx="321.96" cy="282.74" r="0.85" fill="none" stroke="#111" stroke-width="0.5"/>
<circle cx="323.66" cy="282.51" r="0.85" fill="none" stroke="#111" stroke-width="0.5"/>
<circle cx="325.36" cy="282.46" r="0.85" fill="none" stroke="#111" stroke-width="0.5"/>
<circle cx="323.22" cy="252.70" r="0.95" fill="#111"/>
<circle cx="324.12" cy="273.50" r="0.95" fill="#111"/>
<line x1="318.10" y1="279.60" x2="328.90" y2="279.60" stroke="#e0102e" stroke-width="1.6" />
<text x="355.60" y="187.70" font-size="10.92" font-weight="bold" fill="#000" textLength="5.60" lengthAdjust="spacingAndGlyphs" >F</text>
<text x="389.80" y="186.80" font-size="9.86" font-weight="bold" fill="#111" textLength="21.20" lengthAdjust="spacingAndGlyphs" >Total</text>
<text x="389.80" y="198.40" font-size="9.86" font-weight="bold" fill="#111" textLength="24.20" lengthAdjust="spacingAndGlyphs" >CD56</text>
<text x="414.40" y="194.80" font-size="6.68" font-weight="bold" fill="#111" textLength="4.00" lengthAdjust="spacingAndGlyphs" >+</text>
<text x="426.60" y="198.20" font-size="9.86" font-weight="bold" fill="#111" textLength="24.10" lengthAdjust="spacingAndGlyphs" >CD56</text>
<text x="451.10" y="194.60" font-size="6.68" font-weight="bold" fill="#111" textLength="12.60" lengthAdjust="spacingAndGlyphs" >dim</text>
<text x="467.00" y="198.20" font-size="9.86" font-weight="bold" fill="#111" textLength="24.10" lengthAdjust="spacingAndGlyphs" >CD56</text>
<text x="491.50" y="194.60" font-size="6.68" font-weight="bold" fill="#111" textLength="21.50" lengthAdjust="spacingAndGlyphs" >bright</text>
<line x1="390.30" y1="207.40" x2="390.30" y2="224.20" stroke="#111" stroke-width="1.2" />
<line x1="388.30" y1="224.20" x2="391.80" y2="224.20" stroke="#000" stroke-width="0.9" />
<line x1="388.30" y1="232.00" x2="391.80" y2="232.00" stroke="#000" stroke-width="0.9" />
<line x1="390.30" y1="232.00" x2="390.30" y2="286.00" stroke="#111" stroke-width="1.2" />
<line x1="388.10" y1="212.60" x2="390.30" y2="212.60" stroke="#000" stroke-width="0.9" />
<text x="368.20" y="215.46" font-size="8.48" fill="#222" textLength="15.80" lengthAdjust="spacingAndGlyphs" stroke="#222" stroke-width="0.10" >1000</text>
<line x1="388.10" y1="218.10" x2="390.30" y2="218.10" stroke="#000" stroke-width="0.9" />
<line x1="388.10" y1="223.60" x2="390.30" y2="223.60" stroke="#000" stroke-width="0.9" />
<text x="372.15" y="226.46" font-size="8.48" fill="#222" textLength="11.85" lengthAdjust="spacingAndGlyphs" stroke="#222" stroke-width="0.10" >600</text>
<line x1="388.10" y1="246.40" x2="390.30" y2="246.40" stroke="#000" stroke-width="0.9" />
<text x="372.15" y="249.26" font-size="8.48" fill="#222" textLength="11.85" lengthAdjust="spacingAndGlyphs" stroke="#222" stroke-width="0.10" >400</text>
<line x1="388.10" y1="266.00" x2="390.30" y2="266.00" stroke="#000" stroke-width="0.9" />
<text x="372.15" y="268.86" font-size="8.48" fill="#222" textLength="11.85" lengthAdjust="spacingAndGlyphs" stroke="#222" stroke-width="0.10" >200</text>
<line x1="388.10" y1="285.40" x2="390.30" y2="285.40" stroke="#000" stroke-width="0.9" />
<text x="380.05" y="288.26" font-size="8.48" fill="#222" textLength="3.95" lengthAdjust="spacingAndGlyphs" stroke="#222" stroke-width="0.10" >0</text>
<line x1="389.70" y1="285.40" x2="504.40" y2="285.40" stroke="#111" stroke-width="1.2" />
<text x="363.00" y="270.00" font-size="9.22" fill="#222" textLength="46.10" lengthAdjust="spacingAndGlyphs" transform="rotate(-90 363.00 270.00)" stroke="#222" stroke-width="0.22" >Cells/µl blood</text>
<line x1="428.60" y1="211.60" x2="428.60" y2="285.00" stroke="#888" stroke-width="0.6" />
<line x1="467.50" y1="211.60" x2="467.50" y2="285.00" stroke="#888" stroke-width="0.6" />
<line x1="400.60" y1="214.50" x2="417.90" y2="214.50" stroke="#000" stroke-width="1" />
<text x="402.00" y="214.90" font-size="7.00" font-weight="bold" textLength="13.30" lengthAdjust="spacingAndGlyphs" >****</text>
<line x1="439.80" y1="214.50" x2="457.00" y2="214.50" stroke="#000" stroke-width="1" />
<text x="441.60" y="214.90" font-size="7.00" font-weight="bold" textLength="13.30" lengthAdjust="spacingAndGlyphs" >****</text>
<text x="395.00" y="295.30" font-size="8.16" textLength="10.20" lengthAdjust="spacingAndGlyphs" stroke="#1a1a1a" stroke-width="0.10" >NP</text>
<text x="433.20" y="295.30" font-size="8.16" textLength="10.20" lengthAdjust="spacingAndGlyphs" stroke="#1a1a1a" stroke-width="0.10" >NP</text>
<text x="472.20" y="295.30" font-size="8.16" textLength="10.20" lengthAdjust="spacingAndGlyphs" stroke="#1a1a1a" stroke-width="0.10" >NP</text>
<text x="408.20" y="295.30" font-size="8.16" fill="#c8102e" textLength="11.60" lengthAdjust="spacingAndGlyphs" stroke="#c8102e" stroke-width="0.10" >NK</text>
<text x="420.20" y="292.00" font-size="5.94" fill="#c8102e" textLength="10.50" lengthAdjust="spacingAndGlyphs" stroke="#c8102e" stroke-width="0.10" >imm</text>
<text x="448.50" y="295.30" font-size="8.16" fill="#c8102e" textLength="11.60" lengthAdjust="spacingAndGlyphs" stroke="#c8102e" stroke-width="0.10" >NK</text>
<text x="460.50" y="292.00" font-size="5.94" fill="#c8102e" textLength="10.50" lengthAdjust="spacingAndGlyphs" stroke="#c8102e" stroke-width="0.10" >imm</text>
<text x="489.00" y="295.30" font-size="8.16" fill="#c8102e" textLength="11.60" lengthAdjust="spacingAndGlyphs" stroke="#c8102e" stroke-width="0.10" >NK</text>
<text x="501.00" y="292.00" font-size="5.94" fill="#c8102e" textLength="10.50" lengthAdjust="spacingAndGlyphs" stroke="#c8102e" stroke-width="0.10" >imm</text>
<path d="M399.65,216.10 L400.80,216.90 L399.65,217.70 L399.65,236.50 L401.10,238.00 L399.65,239.50 L399.65,247.50 L401.50,249.00 L401.80,252.00 L401.50,255.00 L400.30,257.00 L402.00,258.50 L404.00,260.00 L405.50,263.00 L406.00,268.00 L405.80,272.00 L404.50,276.00 L403.00,279.00 L401.50,281.50 L399.65,282.40 L399.35,282.40 L397.50,281.50 L396.00,279.00 L394.50,276.00 L393.20,272.00 L393.00,268.00 L393.50,263.00 L395.00,260.00 L397.00,258.50 L398.70,257.00 L397.50,255.00 L397.20,252.00 L397.50,249.00 L399.35,247.50 L399.35,239.50 L397.90,238.00 L399.35,236.50 L399.35,217.70 L398.20,216.90 L399.35,216.10Z" fill="#ddd" stroke="#111" stroke-width="0.6" />
<circle cx="398.52" cy="249.00" r="0.85" fill="none" stroke="#111" stroke-width="0.5"/>
<circle cx="400.32" cy="249.05" r="0.85" fill="none" stroke="#111" stroke-width="0.5"/>
<circle cx="399.15" cy="250.63" r="0.85" fill="none" stroke="#111" stroke-width="0.5"/>
<circle cx="399.91" cy="252.18" r="0.85" fill="none" stroke="#111" stroke-width="0.5"/>
<circle cx="399.17" cy="253.89" r="0.85" fill="none" stroke="#111" stroke-width="0.5"/>
<circle cx="398.58" cy="255.27" r="0.85" fill="none" stroke="#111" stroke-width="0.5"/>
<circle cx="400.38" cy="255.22" r="0.85" fill="none" stroke="#111" stroke-width="0.5"/>
<circle cx="397.90" cy="258.45" r="0.85" fill="none" stroke="#111" stroke-width="0.5"/>
<circle cx="399.70" cy="258.30" r="0.85" fill="none" stroke="#111" stroke-width="0.5"/>
<circle cx="396.75" cy="260.08" r="0.85" fill="none" stroke="#111" stroke-width="0.5"/>
<circle cx="398.55" cy="259.92" r="0.85" fill="none" stroke="#111" stroke-width="0.5"/>
<circle cx="400.35" cy="259.94" r="0.85" fill="none" stroke="#111" stroke-width="0.5"/>
<circle cx="402.15" cy="260.02" r="0.85" fill="none" stroke="#111" stroke-width="0.5"/>
<circle cx="395.05" cy="261.78" r="0.85" fill="none" stroke="#111" stroke-width="0.5"/>
<circle cx="396.85" cy="261.66" r="0.85" fill="none" stroke="#111" stroke-width="0.5"/>
<circle cx="398.65" cy="261.55" r="0.85" fill="none" stroke="#111" stroke-width="0.5"/>
<circle cx="400.45" cy="261.78" r="0.85" fill="none" stroke="#111" stroke-width="0.5"/>
<circle cx="402.25" cy="261.89" r="0.85" fill="none" stroke="#111" stroke-width="0.5"/>
<circle cx="395.27" cy="263.35" r="0.85" fill="none" stroke="#111" stroke-width="0.5"/>
<circle cx="397.07" cy="263.38" r="0.85" fill="none" stroke="#111" stroke-width="0.5"/>
<circle cx="398.87" cy="263.15" r="0.85" fill="none" stroke="#111" stroke-width="0.5"/>
<circle cx="400.67" cy="263.47" r="0.85" fill="none" stroke="#111" stroke-width="0.5"/>
<circle cx="402.47" cy="263.35" r="0.85" fill="none" stroke="#111" stroke-width="0.5"/>
<circle cx="404.27" cy="263.21" r="0.85" fill="none" stroke="#111" stroke-width="0.5"/>
<circle cx="394.21" cy="264.70" r="0.85" fill="none" stroke="#111" stroke-width="0.5"/>
<circle cx="396.01" cy="264.77" r="0.85" fill="none" stroke="#111" stroke-width="0.5"/>
<circle cx="397.81" cy="264.79" r="0.85" fill="none" stroke="#111" stroke-width="0.5"/>
<circle cx="399.61" cy="265.02" r="0.85" fill="none" stroke="#111" stroke-width="0.5"/>
<circle cx="401.41" cy="264.93" r="0.85" fill="none" stroke="#111" stroke-width="0.5"/>
<circle cx="403.21" cy="265.04" r="0.85" fill="none" stroke="#111" stroke-width="0.5"/>
<circle cx="394.95" cy="266.55" r="0.85" fill="none" stroke="#111" stroke-width="0.5"/>
<circle cx="396.75" cy="266.60" r="0.85" fill="none" stroke="#111" stroke-width="0.5"/>
<circle cx="398.55" cy="266.67" r="0.85" fill="none" stroke="#111" stroke-width="0.5"/>
<circle cx="400.35" cy="266.40" r="0.85" fill="none" stroke="#111" stroke-width="0.5"/>
<circle cx="402.15" cy="266.46" r="0.85" fill="none" stroke="#111" stroke-width="0.5"/>
<circle cx="403.95" cy="266.64" r="0.85" fill="none" stroke="#111" stroke-width="0.5"/>
<circle cx="393.90" cy="268.19" r="0.85" fill="none" stroke="#111" stroke-width="0.5"/>
<circle cx="395.70" cy="268.03" r="0.85" fill="none" stroke="#111" stroke-width="0.5"/>
<circle cx="397.50" cy="268.07" r="0.85" fill="none" stroke="#111" stroke-width="0.5"/>
<circle cx="399.31" cy="268.30" r="0.85" fill="none" stroke="#111" stroke-width="0.5"/>
<circle cx="401.11" cy="268.29" r="0.85" fill="none" stroke="#111" stroke-width="0.5"/>
<circle cx="402.90" cy="268.08" r="0.85" fill="none" stroke="#111" stroke-width="0.5"/>
<circle cx="404.70" cy="268.21" r="0.85" fill="none" stroke="#111" stroke-width="0.5"/>
<circle cx="394.88" cy="269.75" r="0.85" fill="none" stroke="#111" stroke-width="0.5"/>
<circle cx="398.49" cy="269.86" r="0.85" fill="none" stroke="#111" stroke-width="0.5"/>
<circle cx="400.29" cy="269.79" r="0.85" fill="none" stroke="#111" stroke-width="0.5"/>
<circle cx="402.08" cy="269.86" r="0.85" fill="none" stroke="#111" stroke-width="0.5"/>
<circle cx="403.88" cy="269.72" r="0.85" fill="none" stroke="#111" stroke-width="0.5"/>
<circle cx="394.06" cy="271.42" r="0.85" fill="none" stroke="#111" stroke-width="0.5"/>
<circle cx="395.87" cy="271.11" r="0.85" fill="none" stroke="#111" stroke-width="0.5"/>
<circle cx="397.67" cy="271.16" r="0.85" fill="none" stroke="#111" stroke-width="0.5"/>
<circle cx="399.47" cy="271.35" r="0.85" fill="none" stroke="#111" stroke-width="0.5"/>
<circle cx="401.26" cy="271.48" r="0.85" fill="none" stroke="#111" stroke-width="0.5"/>
<circle cx="404.87" cy="271.33" r="0.85" fill="none" stroke="#111" stroke-width="0.5"/>
<circle cx="395.29" cy="272.94" r="0.85" fill="none" stroke="#111" stroke-width="0.5"/>
<circle cx="397.09" cy="272.88" r="0.85" fill="none" stroke="#111" stroke-width="0.5"/>
<circle cx="398.89" cy="272.77" r="0.85" fill="none" stroke="#111" stroke-width="0.5"/>
<circle cx="400.69" cy="273.01" r="0.85" fill="none" stroke="#111" stroke-width="0.5"/>
<circle cx="402.49" cy="272.73" r="0.85" fill="none" stroke="#111" stroke-width="0.5"/>
<circle cx="404.29" cy="272.76" r="0.85" fill="none" stroke="#111" stroke-width="0.5"/>
<circle cx="394.91" cy="274.43" r="0.85" fill="none" stroke="#111" stroke-width="0.5"/>
<circle cx="396.71" cy="274.44" r="0.85" fill="none" stroke="#111" stroke-width="0.5"/>
<circle cx="398.51" cy="274.35" r="0.85" fill="none" stroke="#111" stroke-width="0.5"/>
<circle cx="400.31" cy="274.32" r="0.85" fill="none" stroke="#111" stroke-width="0.5"/>
<circle cx="402.11" cy="274.38" r="0.85" fill="none" stroke="#111" stroke-width="0.5"/>
<circle cx="403.91" cy="274.44" r="0.85" fill="none" stroke="#111" stroke-width="0.5"/>
<circle cx="396.35" cy="276.23" r="0.85" fill="none" stroke="#111" stroke-width="0.5"/>
<circle cx="398.15" cy="276.09" r="0.85" fill="none" stroke="#111" stroke-width="0.5"/>
<circle cx="399.95" cy="276.17" r="0.85" fill="none" stroke="#111" stroke-width="0.5"/>
<circle cx="401.75" cy="276.15" r="0.85" fill="none" stroke="#111" stroke-width="0.5"/>
<circle cx="396.25" cy="277.71" r="0.85" fill="none" stroke="#111" stroke-width="0.5"/>
<circle cx="398.05" cy="277.75" r="0.85" fill="none" stroke="#111" stroke-width="0.5"/>
<circle cx="399.85" cy="277.61" r="0.85" fill="none" stroke="#111" stroke-width="0.5"/>
<circle cx="401.65" cy="277.89" r="0.85" fill="none" stroke="#111" stroke-width="0.5"/>
<circle cx="397.98" cy="279.46" r="0.85" fill="none" stroke="#111" stroke-width="0.5"/>
<circle cx="399.78" cy="279.39" r="0.85" fill="none" stroke="#111" stroke-width="0.5"/>
<circle cx="401.58" cy="279.40" r="0.85" fill="none" stroke="#111" stroke-width="0.5"/>
<circle cx="398.04" cy="280.91" r="0.85" fill="none" stroke="#111" stroke-width="0.5"/>
<circle cx="399.84" cy="280.80" r="0.85" fill="none" stroke="#111" stroke-width="0.5"/>
<circle cx="400.08" cy="216.90" r="0.95" fill="#111"/>
<circle cx="399.82" cy="238.00" r="0.95" fill="#111"/>
<line x1="393.20" y1="270.20" x2="405.80" y2="270.20" stroke="#e0102e" stroke-width="1.6" />
<path d="M417.65,276.30 L421.00,276.80 L423.00,278.00 L423.50,280.00 L423.50,282.00 L423.00,283.50 L417.65,284.60 L417.35,284.60 L412.00,283.50 L411.50,282.00 L411.50,280.00 L412.00,278.00 L414.00,276.80 L417.35,276.30Z" fill="#bbb" stroke="#111" stroke-width="0.6" />
<circle cx="414.40" cy="276.95" r="0.85" fill="none" stroke="#111" stroke-width="0.5"/>
<circle cx="416.20" cy="277.29" r="0.85" fill="none" stroke="#111" stroke-width="0.5"/>
<circle cx="418.00" cy="277.12" r="0.85" fill="none" stroke="#111" stroke-width="0.5"/>
<circle cx="419.80" cy="277.10" r="0.85" fill="none" stroke="#111" stroke-width="0.5"/>
<circle cx="413.62" cy="278.89" r="0.85" fill="none" stroke="#111" stroke-width="0.5"/>
<circle cx="415.43" cy="278.59" r="0.85" fill="none" stroke="#111" stroke-width="0.5"/>
<circle cx="417.22" cy="278.67" r="0.85" fill="none" stroke="#111" stroke-width="0.5"/>
<circle cx="419.02" cy="278.77" r="0.85" fill="none" stroke="#111" stroke-width="0.5"/>
<circle cx="420.82" cy="278.78" r="0.85" fill="none" stroke="#111" stroke-width="0.5"/>
<circle cx="412.40" cy="280.11" r="0.85" fill="none" stroke="#111" stroke-width="0.5"/>
<circle cx="414.20" cy="280.25" r="0.85" fill="none" stroke="#111" stroke-width="0.5"/>
<circle cx="416.00" cy="280.37" r="0.85" fill="none" stroke="#111" stroke-width="0.5"/>
<circle cx="417.80" cy="280.47" r="0.85" fill="none" stroke="#111" stroke-width="0.5"/>
<circle cx="419.60" cy="280.44" r="0.85" fill="none" stroke="#111" stroke-width="0.5"/>
<circle cx="421.40" cy="280.33" r="0.85" fill="none" stroke="#111" stroke-width="0.5"/>
<circle cx="413.30" cy="281.72" r="0.85" fill="none" stroke="#111" stroke-width="0.5"/>
<circle cx="415.10" cy="281.85" r="0.85" fill="none" stroke="#111" stroke-width="0.5"/>
<circle cx="416.90" cy="281.87" r="0.85" fill="none" stroke="#111" stroke-width="0.5"/>
<circle cx="418.70" cy="281.97" r="0.85" fill="none" stroke="#111" stroke-width="0.5"/>
<circle cx="420.50" cy="281.79" r="0.85" fill="none" stroke="#111" stroke-width="0.5"/>
<circle cx="422.30" cy="281.83" r="0.85" fill="none" stroke="#111" stroke-width="0.5"/>
<circle cx="412.90" cy="283.39" r="0.85" fill="none" stroke="#111" stroke-width="0.5"/>
<circle cx="414.70" cy="283.37" r="0.85" fill="none" stroke="#111" stroke-width="0.5"/>
<circle cx="416.50" cy="283.59" r="0.85" fill="none" stroke="#111" stroke-width="0.5"/>
<circle cx="418.30" cy="283.33" r="0.85" fill="none" stroke="#111" stroke-width="0.5"/>
<circle cx="420.10" cy="283.64" r="0.85" fill="none" stroke="#111" stroke-width="0.5"/>
<circle cx="421.90" cy="283.64" r="0.85" fill="none" stroke="#111" stroke-width="0.5"/>
<line x1="412.50" y1="280.70" x2="422.50" y2="280.70" stroke="#e0102e" stroke-width="1.6" />
<path d="M438.65,216.10 L439.80,216.90 L438.65,217.70 L438.65,236.50 L440.10,238.00 L438.65,239.50 L438.65,247.50 L440.50,249.00 L440.70,252.00 L440.50,255.00 L439.30,257.00 L441.00,258.50 L442.80,260.00 L444.30,263.00 L444.80,268.00 L444.60,272.00 L443.30,276.00 L441.80,279.00 L440.50,281.50 L438.65,282.40 L438.35,282.40 L436.50,281.50 L435.20,279.00 L433.70,276.00 L432.40,272.00 L432.20,268.00 L432.70,263.00 L434.20,260.00 L436.00,258.50 L437.70,257.00 L436.50,255.00 L436.30,252.00 L436.50,249.00 L438.35,247.50 L438.35,239.50 L436.90,238.00 L438.35,236.50 L438.35,217.70 L437.20,216.90 L438.35,216.10Z" fill="#ddd" stroke="#111" stroke-width="0.6" />
<circle cx="437.52" cy="248.77" r="0.85" fill="none" stroke="#111" stroke-width="0.5"/>
<circle cx="439.32" cy="249.03" r="0.85" fill="none" stroke="#111" stroke-width="0.5"/>
<circle cx="438.20" cy="250.32" r="0.85" fill="none" stroke="#111" stroke-width="0.5"/>
<circle cx="437.21" cy="251.97" r="0.85" fill="none" stroke="#111" stroke-width="0.5"/>
<circle cx="439.01" cy="252.16" r="0.85" fill="none" stroke="#111" stroke-width="0.5"/>
<circle cx="438.21" cy="253.66" r="0.85" fill="none" stroke="#111" stroke-width="0.5"/>
<circle cx="439.38" cy="255.37" r="0.85" fill="none" stroke="#111" stroke-width="0.5"/>
<circle cx="436.90" cy="258.51" r="0.85" fill="none" stroke="#111" stroke-width="0.5"/>
<circle cx="438.70" cy="258.35" r="0.85" fill="none" stroke="#111" stroke-width="0.5"/>
<circle cx="435.95" cy="259.95" r="0.85" fill="none" stroke="#111" stroke-width="0.5"/>
<circle cx="437.75" cy="260.16" r="0.85" fill="none" stroke="#111" stroke-width="0.5"/>
<circle cx="439.55" cy="260.22" r="0.85" fill="none" stroke="#111" stroke-width="0.5"/>
<circle cx="441.35" cy="259.93" r="0.85" fill="none" stroke="#111" stroke-width="0.5"/>
<circle cx="434.25" cy="261.66" r="0.85" fill="none" stroke="#111" stroke-width="0.5"/>
<circle cx="436.05" cy="261.89" r="0.85" fill="none" stroke="#111" stroke-width="0.5"/>
<circle cx="437.85" cy="261.60" r="0.85" fill="none" stroke="#111" stroke-width="0.5"/>
<circle cx="439.65" cy="261.70" r="0.85" fill="none" stroke="#111" stroke-width="0.5"/>
<circle cx="441.45" cy="261.54" r="0.85" fill="none" stroke="#111" stroke-width="0.5"/>
<circle cx="434.47" cy="263.36" r="0.85" fill="none" stroke="#111" stroke-width="0.5"/>
<circle cx="436.27" cy="263.40" r="0.85" fill="none" stroke="#111" stroke-width="0.5"/>
<circle cx="438.07" cy="263.42" r="0.85" fill="none" stroke="#111" stroke-width="0.5"/>
<circle cx="439.87" cy="263.36" r="0.85" fill="none" stroke="#111" stroke-width="0.5"/>
<circle cx="441.67" cy="263.42" r="0.85" fill="none" stroke="#111" stroke-width="0.5"/>
<circle cx="433.41" cy="264.81" r="0.85" fill="none" stroke="#111" stroke-width="0.5"/>
<circle cx="435.21" cy="264.81" r="0.85" fill="none" stroke="#111" stroke-width="0.5"/>
<circle cx="437.01" cy="264.87" r="0.85" fill="none" stroke="#111" stroke-width="0.5"/>
<circle cx="438.81" cy="265.07" r="0.85" fill="none" stroke="#111" stroke-width="0.5"/>
<circle cx="440.61" cy="264.85" r="0.85" fill="none" stroke="#111" stroke-width="0.5"/>
<circle cx="442.41" cy="265.08" r="0.85" fill="none" stroke="#111" stroke-width="0.5"/>
<circle cx="434.15" cy="266.38" r="0.85" fill="none" stroke="#111" stroke-width="0.5"/>
<circle cx="435.95" cy="266.62" r="0.85" fill="none" stroke="#111" stroke-width="0.5"/>
<circle cx="437.75" cy="266.41" r="0.85" fill="none" stroke="#111" stroke-width="0.5"/>
<circle cx="439.55" cy="266.68" r="0.85" fill="none" stroke="#111" stroke-width="0.5"/>
<circle cx="441.35" cy="266.41" r="0.85" fill="none" stroke="#111" stroke-width="0.5"/>
<circle cx="443.15" cy="266.66" r="0.85" fill="none" stroke="#111" stroke-width="0.5"/>
<circle cx="433.11" cy="268.09" r="0.85" fill="none" stroke="#111" stroke-width="0.5"/>
<circle cx="434.90" cy="268.29" r="0.85" fill="none" stroke="#111" stroke-width="0.5"/>
<circle cx="436.70" cy="267.99" r="0.85" fill="none" stroke="#111" stroke-width="0.5"/>
<circle cx="438.50" cy="268.21" r="0.85" fill="none" stroke="#111" stroke-width="0.5"/>
<circle cx="440.31" cy="268.12" r="0.85" fill="none" stroke="#111" stroke-width="0.5"/>
<circle cx="442.11" cy="267.98" r="0.85" fill="none" stroke="#111" stroke-width="0.5"/>
<circle cx="434.08" cy="269.71" r="0.85" fill="none" stroke="#111" stroke-width="0.5"/>
<circle cx="437.69" cy="269.70" r="0.85" fill="none" stroke="#111" stroke-width="0.5"/>
<circle cx="439.49" cy="269.80" r="0.85" fill="none" stroke="#111" stroke-width="0.5"/>
<circle cx="441.29" cy="269.82" r="0.85" fill="none" stroke="#111" stroke-width="0.5"/>
<circle cx="443.08" cy="269.89" r="0.85" fill="none" stroke="#111" stroke-width="0.5"/>
<circle cx="435.06" cy="271.27" r="0.85" fill="none" stroke="#111" stroke-width="0.5"/>
<circle cx="436.87" cy="271.21" r="0.85" fill="none" stroke="#111" stroke-width="0.5"/>
<circle cx="438.67" cy="271.17" r="0.85" fill="none" stroke="#111" stroke-width="0.5"/>
<circle cx="440.47" cy="271.12" r="0.85" fill="none" stroke="#111" stroke-width="0.5"/>
<circle cx="442.26" cy="271.34" r="0.85" fill="none" stroke="#111" stroke-width="0.5"/>
<circle cx="434.49" cy="272.93" r="0.85" fill="none" stroke="#111" stroke-width="0.5"/>
<circle cx="436.29" cy="272.81" r="0.85" fill="none" stroke="#111" stroke-width="0.5"/>
<circle cx="438.09" cy="272.93" r="0.85" fill="none" stroke="#111" stroke-width="0.5"/>
<circle cx="439.89" cy="273.10" r="0.85" fill="none" stroke="#111" stroke-width="0.5"/>
<circle cx="441.69" cy="272.98" r="0.85" fill="none" stroke="#111" stroke-width="0.5"/>
<circle cx="434.11" cy="274.40" r="0.85" fill="none" stroke="#111" stroke-width="0.5"/>
<circle cx="435.91" cy="274.45" r="0.85" fill="none" stroke="#111" stroke-width="0.5"/>
<circle cx="437.71" cy="274.45" r="0.85" fill="none" stroke="#111" stroke-width="0.5"/>
<circle cx="439.51" cy="274.56" r="0.85" fill="none" stroke="#111" stroke-width="0.5"/>
<circle cx="441.31" cy="274.52" r="0.85" fill="none" stroke="#111" stroke-width="0.5"/>
<circle cx="435.55" cy="276.29" r="0.85" fill="none" stroke="#111" stroke-width="0.5"/>
<circle cx="437.35" cy="276.14" r="0.85" fill="none" stroke="#111" stroke-width="0.5"/>
<circle cx="439.15" cy="276.18" r="0.85" fill="none" stroke="#111" stroke-width="0.5"/>
<circle cx="440.95" cy="276.26" r="0.85" fill="none" stroke="#111" stroke-width="0.5"/>
<circle cx="435.45" cy="277.61" r="0.85" fill="none" stroke="#111" stroke-width="0.5"/>
<circle cx="437.25" cy="277.52" r="0.85" fill="none" stroke="#111" stroke-width="0.5"/>
<circle cx="439.05" cy="277.62" r="0.85" fill="none" stroke="#111" stroke-width="0.5"/>
<circle cx="440.85" cy="277.55" r="0.85" fill="none" stroke="#111" stroke-width="0.5"/>
<circle cx="437.16" cy="279.17" r="0.85" fill="none" stroke="#111" stroke-width="0.5"/>
<circle cx="438.96" cy="279.21" r="0.85" fill="none" stroke="#111" stroke-width="0.5"/>
<circle cx="437.09" cy="280.86" r="0.85" fill="none" stroke="#111" stroke-width="0.5"/>
<circle cx="438.89" cy="281.02" r="0.85" fill="none" stroke="#111" stroke-width="0.5"/>
<circle cx="439.27" cy="216.90" r="0.95" fill="#111"/>
<circle cx="437.97" cy="238.00" r="0.95" fill="#111"/>
<line x1="432.40" y1="271.30" x2="444.60" y2="271.30" stroke="#e0102e" stroke-width="1.6" />
<path d="M455.65,277.30 L459.50,278.00 L461.50,279.50 L462.00,281.00 L461.50,282.50 L460.00,284.00 L455.65,284.80 L455.35,284.80 L451.00,284.00 L449.50,282.50 L449.00,281.00 L449.50,279.50 L451.50,278.00 L455.35,277.30Z" fill="#bbb" stroke="#111" stroke-width="0.6" />
<circle cx="452.27" cy="278.21" r="0.85" fill="none" stroke="#111" stroke-width="0.5"/>
<circle cx="454.07" cy="278.04" r="0.85" fill="none" stroke="#111" stroke-width="0.5"/>
<circle cx="455.87" cy="278.21" r="0.85" fill="none" stroke="#111" stroke-width="0.5"/>
<circle cx="457.67" cy="278.09" r="0.85" fill="none" stroke="#111" stroke-width="0.5"/>
<circle cx="451.23" cy="279.84" r="0.85" fill="none" stroke="#111" stroke-width="0.5"/>
<circle cx="453.03" cy="279.77" r="0.85" fill="none" stroke="#111" stroke-width="0.5"/>
<circle cx="454.83" cy="279.56" r="0.85" fill="none" stroke="#111" stroke-width="0.5"/>
<circle cx="456.63" cy="279.76" r="0.85" fill="none" stroke="#111" stroke-width="0.5"/>
<circle cx="458.43" cy="279.88" r="0.85" fill="none" stroke="#111" stroke-width="0.5"/>
<circle cx="460.23" cy="279.71" r="0.85" fill="none" stroke="#111" stroke-width="0.5"/>
<circle cx="450.00" cy="281.20" r="0.85" fill="none" stroke="#111" stroke-width="0.5"/>
<circle cx="451.80" cy="281.16" r="0.85" fill="none" stroke="#111" stroke-width="0.5"/>
<circle cx="453.60" cy="281.12" r="0.85" fill="none" stroke="#111" stroke-width="0.5"/>
<circle cx="455.40" cy="281.36" r="0.85" fill="none" stroke="#111" stroke-width="0.5"/>
<circle cx="457.20" cy="281.47" r="0.85" fill="none" stroke="#111" stroke-width="0.5"/>
<circle cx="459.00" cy="281.18" r="0.85" fill="none" stroke="#111" stroke-width="0.5"/>
<circle cx="460.80" cy="281.44" r="0.85" fill="none" stroke="#111" stroke-width="0.5"/>
<circle cx="451.70" cy="283.05" r="0.85" fill="none" stroke="#111" stroke-width="0.5"/>
<circle cx="453.50" cy="282.84" r="0.85" fill="none" stroke="#111" stroke-width="0.5"/>
<circle cx="455.30" cy="283.08" r="0.85" fill="none" stroke="#111" stroke-width="0.5"/>
<circle cx="457.10" cy="282.85" r="0.85" fill="none" stroke="#111" stroke-width="0.5"/>
<circle cx="458.90" cy="283.03" r="0.85" fill="none" stroke="#111" stroke-width="0.5"/>
<circle cx="454.62" cy="284.64" r="0.85" fill="none" stroke="#111" stroke-width="0.5"/>
<line x1="450.50" y1="281.50" x2="460.50" y2="281.50" stroke="#e0102e" stroke-width="1.6" />
<path d="M478.30,281.60 L483.00,282.20 L484.00,283.50 L484.00,285.00 L478.30,285.30 L477.70,285.30 L472.00,285.00 L472.00,283.50 L473.00,282.20 L477.70,281.60Z" fill="#1a1a1a" stroke="#111" stroke-width="0.5" />
<line x1="473.00" y1="284.00" x2="483.00" y2="284.00" stroke="#c8102e" stroke-width="0.7" />
<path d="M496.20,281.20 L498.00,282.20 L501.00,283.20 L501.60,285.00 L496.30,285.30 L495.70,285.30 L490.40,285.00 L491.00,283.20 L494.00,282.20 L495.80,281.20Z" fill="#2a2a2a" stroke="#111" stroke-width="0.5" />
<line x1="491.50" y1="284.00" x2="500.50" y2="284.00" stroke="#c8102e" stroke-width="0.7" />
<text x="8.10" y="332.30" font-size="10.92" font-weight="bold" fill="#000" textLength="8.80" lengthAdjust="spacingAndGlyphs" >G</text>
<rect x="26.20" y="335.30" width="49.40" height="51.90" fill="#fff" stroke="#111" stroke-width="1.1" />
<text x="29.80" y="344.10" font-size="8.69" fill="#222" textLength="27.00" lengthAdjust="spacingAndGlyphs" stroke="#222" stroke-width="0.10" >NKG2A</text>
<rect x="35.85" y="356.40" width="5.90" height="24.40" rx="2.95" fill="url(#colg)" stroke="#111" stroke-width="1.15"/>
<rect x="37.18" y="358.60" width="3.25" height="20.00" rx="1.62" fill="none" stroke="#555" stroke-width="0.6" stroke-dasharray="1 0.6"/>
<circle cx="34.54" cy="363.42" r="0.35" fill="#666"/>
<circle cx="42.70" cy="361.24" r="0.35" fill="#666"/>
<circle cx="42.08" cy="370.38" r="0.35" fill="#666"/>
<circle cx="41.98" cy="370.99" r="0.35" fill="#666"/>
<circle cx="34.99" cy="353.66" r="0.35" fill="#666"/>
<circle cx="35.11" cy="376.91" r="0.35" fill="#666"/>
<circle cx="34.60" cy="365.86" r="0.35" fill="#666"/>
<circle cx="42.78" cy="368.66" r="0.35" fill="#666"/>
<circle cx="35.34" cy="360.10" r="0.35" fill="#666"/>
<circle cx="42.23" cy="356.90" r="0.35" fill="#666"/>
<circle cx="38.58" cy="354.90" r="0.35" fill="#888"/>
<circle cx="39.99" cy="354.35" r="0.35" fill="#888"/>
<circle cx="38.22" cy="352.11" r="0.35" fill="#888"/>
<rect x="47.65" y="356.40" width="5.90" height="24.40" rx="2.95" fill="url(#colg)" stroke="#111" stroke-width="1.15"/>
<rect x="48.98" y="358.60" width="3.25" height="20.00" rx="1.62" fill="none" stroke="#555" stroke-width="0.6" stroke-dasharray="1 0.6"/>
<circle cx="54.05" cy="358.87" r="0.35" fill="#666"/>
<circle cx="54.21" cy="374.79" r="0.35" fill="#666"/>
<circle cx="54.09" cy="382.30" r="0.35" fill="#666"/>
<circle cx="46.43" cy="377.52" r="0.35" fill="#666"/>
<circle cx="46.57" cy="368.45" r="0.35" fill="#666"/>
<circle cx="47.09" cy="367.82" r="0.35" fill="#666"/>
<circle cx="46.44" cy="355.64" r="0.35" fill="#666"/>
<circle cx="54.38" cy="375.95" r="0.35" fill="#666"/>
<circle cx="54.13" cy="382.64" r="0.35" fill="#666"/>
<circle cx="47.08" cy="362.67" r="0.35" fill="#666"/>
<circle cx="50.81" cy="352.13" r="0.35" fill="#888"/>
<circle cx="50.66" cy="352.24" r="0.35" fill="#888"/>
<circle cx="50.22" cy="352.69" r="0.35" fill="#888"/>
<rect x="60.05" y="356.40" width="5.90" height="24.40" rx="2.95" fill="url(#colg)" stroke="#111" stroke-width="1.15"/>
<rect x="61.38" y="358.60" width="3.25" height="20.00" rx="1.62" fill="none" stroke="#555" stroke-width="0.6" stroke-dasharray="1 0.6"/>
<circle cx="59.79" cy="376.82" r="0.35" fill="#666"/>
<circle cx="66.40" cy="375.67" r="0.35" fill="#666"/>
<circle cx="59.02" cy="356.77" r="0.35" fill="#666"/>
<circle cx="59.74" cy="374.68" r="0.35" fill="#666"/>
<circle cx="66.06" cy="373.84" r="0.35" fill="#666"/>
<circle cx="66.19" cy="371.46" r="0.35" fill="#666"/>
<circle cx="65.98" cy="359.39" r="0.35" fill="#666"/>
<circle cx="66.56" cy="355.71" r="0.35" fill="#666"/>
<circle cx="66.98" cy="354.43" r="0.35" fill="#666"/>
<circle cx="59.84" cy="379.89" r="0.35" fill="#666"/>
<circle cx="63.45" cy="355.39" r="0.35" fill="#888"/>
<circle cx="61.68" cy="352.46" r="0.35" fill="#888"/>
<circle cx="63.70" cy="354.88" r="0.35" fill="#888"/>
<line x1="26.70" y1="365.60" x2="75.10" y2="365.60" stroke="#8f8f8f" stroke-width="1.1" />
<rect x="80.40" y="335.10" width="50.20" height="52.30" fill="#fff" stroke="#111" stroke-width="1.1" />
<text x="83.10" y="343.90" font-size="8.69" fill="#222" textLength="11.90" lengthAdjust="spacingAndGlyphs" stroke="#222" stroke-width="0.10" >KIR</text>
<rect x="89.75" y="352.00" width="5.90" height="27.00" rx="2.95" fill="url(#colg)" stroke="#111" stroke-width="1.15"/>
<rect x="91.08" y="354.20" width="3.25" height="22.60" rx="1.62" fill="none" stroke="#555" stroke-width="0.6" stroke-dasharray="1 0.6"/>
<circle cx="89.30" cy="355.30" r="0.35" fill="#666"/>
<circle cx="95.75" cy="362.16" r="0.35" fill="#666"/>
<circle cx="96.28" cy="367.93" r="0.35" fill="#666"/>
<circle cx="89.10" cy="379.10" r="0.35" fill="#666"/>
<circle cx="89.29" cy="380.35" r="0.35" fill="#666"/>
<circle cx="96.92" cy="364.45" r="0.35" fill="#666"/>
<circle cx="96.23" cy="358.29" r="0.35" fill="#666"/>
<circle cx="88.85" cy="369.18" r="0.35" fill="#666"/>
<circle cx="89.03" cy="350.17" r="0.35" fill="#666"/>
<circle cx="88.47" cy="373.37" r="0.35" fill="#666"/>
<circle cx="92.30" cy="347.61" r="0.35" fill="#888"/>
<circle cx="91.66" cy="348.79" r="0.35" fill="#888"/>
<circle cx="92.50" cy="347.54" r="0.35" fill="#888"/>
<rect x="102.05" y="350.50" width="5.90" height="29.30" rx="2.95" fill="url(#colg)" stroke="#111" stroke-width="1.15"/>
<rect x="103.38" y="352.70" width="3.25" height="24.90" rx="1.62" fill="none" stroke="#555" stroke-width="0.6" stroke-dasharray="1 0.6"/>
<circle cx="100.83" cy="372.27" r="0.35" fill="#666"/>
<circle cx="108.54" cy="359.42" r="0.35" fill="#666"/>
<circle cx="101.75" cy="352.44" r="0.35" fill="#666"/>
<circle cx="101.36" cy="372.59" r="0.35" fill="#666"/>
<circle cx="108.71" cy="369.44" r="0.35" fill="#666"/>
<circle cx="101.83" cy="356.40" r="0.35" fill="#666"/>
<circle cx="108.06" cy="381.00" r="0.35" fill="#666"/>
<circle cx="108.92" cy="350.25" r="0.35" fill="#666"/>
<circle cx="101.73" cy="378.28" r="0.35" fill="#666"/>
<circle cx="109.35" cy="355.40" r="0.35" fill="#666"/>
<circle cx="104.04" cy="348.36" r="0.35" fill="#888"/>
<circle cx="106.03" cy="348.78" r="0.35" fill="#888"/>
<circle cx="106.15" cy="348.89" r="0.35" fill="#888"/>
<rect x="114.15" y="355.30" width="5.90" height="23.70" rx="2.95" fill="url(#colg)" stroke="#111" stroke-width="1.15"/>
<rect x="115.48" y="357.50" width="3.25" height="19.30" rx="1.62" fill="none" stroke="#555" stroke-width="0.6" stroke-dasharray="1 0.6"/>
<circle cx="113.17" cy="369.73" r="0.35" fill="#666"/>
<circle cx="120.34" cy="360.24" r="0.35" fill="#666"/>
<circle cx="121.03" cy="370.01" r="0.35" fill="#666"/>
<circle cx="114.02" cy="377.41" r="0.35" fill="#666"/>
<circle cx="120.60" cy="375.22" r="0.35" fill="#666"/>
<circle cx="120.98" cy="365.36" r="0.35" fill="#666"/>
<circle cx="113.14" cy="360.02" r="0.35" fill="#666"/>
<circle cx="113.80" cy="372.45" r="0.35" fill="#666"/>
<circle cx="121.46" cy="370.69" r="0.35" fill="#666"/>
<circle cx="113.32" cy="378.42" r="0.35" fill="#666"/>
<circle cx="116.59" cy="352.25" r="0.35" fill="#888"/>
<circle cx="117.12" cy="350.32" r="0.35" fill="#888"/>
<circle cx="118.12" cy="353.10" r="0.35" fill="#888"/>
<line x1="80.90" y1="370.50" x2="130.10" y2="370.50" stroke="#8f8f8f" stroke-width="1.1" />
<rect x="26.30" y="391.80" width="50.40" height="51.40" fill="#fff" stroke="#111" stroke-width="1.1" />
<text x="28.90" y="400.60" font-size="8.69" fill="#222" textLength="19.80" lengthAdjust="spacingAndGlyphs" stroke="#222" stroke-width="0.10" >CD57</text>
<rect x="36.05" y="410.00" width="5.90" height="27.90" rx="2.95" fill="url(#colg)" stroke="#111" stroke-width="1.15"/>
<rect x="37.38" y="412.20" width="3.25" height="23.50" rx="1.62" fill="none" stroke="#555" stroke-width="0.6" stroke-dasharray="1 0.6"/>
<circle cx="41.96" cy="438.28" r="0.35" fill="#666"/>
<circle cx="43.33" cy="430.84" r="0.35" fill="#666"/>
<circle cx="35.39" cy="439.19" r="0.35" fill="#666"/>
<circle cx="35.28" cy="439.67" r="0.35" fill="#666"/>
<circle cx="35.39" cy="435.65" r="0.35" fill="#666"/>
<circle cx="34.68" cy="411.43" r="0.35" fill="#666"/>
<circle cx="35.84" cy="411.60" r="0.35" fill="#666"/>
<circle cx="43.15" cy="438.70" r="0.35" fill="#666"/>
<circle cx="43.24" cy="413.06" r="0.35" fill="#666"/>
<circle cx="34.92" cy="423.10" r="0.35" fill="#666"/>
<circle cx="37.87" cy="408.02" r="0.35" fill="#888"/>
<circle cx="39.21" cy="408.67" r="0.35" fill="#888"/>
<circle cx="37.82" cy="408.35" r="0.35" fill="#888"/>
<rect x="48.35" y="410.00" width="5.90" height="27.90" rx="2.95" fill="url(#colg)" stroke="#111" stroke-width="1.15"/>
<rect x="49.68" y="412.20" width="3.25" height="23.50" rx="1.62" fill="none" stroke="#555" stroke-width="0.6" stroke-dasharray="1 0.6"/>
<circle cx="54.52" cy="422.00" r="0.35" fill="#666"/>
<circle cx="47.77" cy="419.16" r="0.35" fill="#666"/>
<circle cx="48.34" cy="407.29" r="0.35" fill="#666"/>
<circle cx="47.92" cy="433.12" r="0.35" fill="#666"/>
<circle cx="55.15" cy="415.87" r="0.35" fill="#666"/>
<circle cx="47.30" cy="431.32" r="0.35" fill="#666"/>
<circle cx="54.73" cy="433.48" r="0.35" fill="#666"/>
<circle cx="47.79" cy="419.85" r="0.35" fill="#666"/>
<circle cx="54.95" cy="426.83" r="0.35" fill="#666"/>
<circle cx="54.41" cy="410.32" r="0.35" fill="#666"/>
<circle cx="50.77" cy="408.86" r="0.35" fill="#888"/>
<circle cx="51.34" cy="407.13" r="0.35" fill="#888"/>
<circle cx="50.65" cy="408.11" r="0.35" fill="#888"/>
<rect x="60.85" y="410.50" width="5.90" height="27.40" rx="2.95" fill="url(#colg)" stroke="#111" stroke-width="1.15"/>
<rect x="62.18" y="412.70" width="3.25" height="23.00" rx="1.62" fill="none" stroke="#555" stroke-width="0.6" stroke-dasharray="1 0.6"/>
<circle cx="60.83" cy="409.64" r="0.35" fill="#666"/>
<circle cx="60.80" cy="433.75" r="0.35" fill="#666"/>
<circle cx="67.73" cy="430.71" r="0.35" fill="#666"/>
<circle cx="67.96" cy="438.18" r="0.35" fill="#666"/>
<circle cx="67.75" cy="420.61" r="0.35" fill="#666"/>
<circle cx="59.54" cy="434.10" r="0.35" fill="#666"/>
<circle cx="60.05" cy="427.56" r="0.35" fill="#666"/>
<circle cx="59.92" cy="426.64" r="0.35" fill="#666"/>
<circle cx="60.52" cy="423.63" r="0.35" fill="#666"/>
<circle cx="60.22" cy="410.27" r="0.35" fill="#666"/>
<circle cx="64.52" cy="407.93" r="0.35" fill="#888"/>
<circle cx="65.12" cy="408.52" r="0.35" fill="#888"/>
<circle cx="63.84" cy="407.81" r="0.35" fill="#888"/>
<line x1="26.80" y1="425.20" x2="76.20" y2="425.20" stroke="#8f8f8f" stroke-width="1.1" />
<rect x="89.30" y="390.40" width="6.60" height="6.40" fill="#fff" stroke="#555" stroke-width="0.8" />
<rect x="102.00" y="390.40" width="6.60" height="6.40" fill="#c8c8c8" stroke="#555" stroke-width="0.8" />
<rect x="114.10" y="390.40" width="6.60" height="6.40" fill="#4a4a4a" stroke="#555" stroke-width="0.8" />
<rect x="35.90" y="446.30" width="6.60" height="6.40" fill="#fff" stroke="#555" stroke-width="0.8" />
<rect x="48.10" y="446.30" width="6.60" height="6.40" fill="#c8c8c8" stroke="#555" stroke-width="0.8" />
<rect x="60.60" y="446.30" width="6.60" height="6.40" fill="#4a4a4a" stroke="#555" stroke-width="0.8" />
<text x="86.00" y="411.40" font-size="9.12" font-weight="bold" textLength="25.60" lengthAdjust="spacingAndGlyphs" >Group:</text>
<rect x="86.00" y="415.70" width="6.30" height="6.30" fill="#fff" stroke="#555" stroke-width="0.8" />
<rect x="86.00" y="425.20" width="6.30" height="6.30" fill="#c8c8c8" stroke="#555" stroke-width="0.8" />
<rect x="86.00" y="434.70" width="6.30" height="6.30" fill="#4a4a4a" stroke="#555" stroke-width="0.8" />
<text x="95.50" y="421.30" font-size="8.16" fill="#222" textLength="10.80" lengthAdjust="spacingAndGlyphs" stroke="#222" stroke-width="0.10" >HD</text>
<text x="95.50" y="430.60" font-size="8.16" fill="#222" textLength="10.20" lengthAdjust="spacingAndGlyphs" stroke="#222" stroke-width="0.10" >NP</text>
<text x="95.50" y="440.20" font-size="8.16" fill="#c8102e" textLength="11.60" lengthAdjust="spacingAndGlyphs" stroke="#c8102e" stroke-width="0.10" >NK</text>
<text x="107.40" y="436.70" font-size="5.94" fill="#c8102e" textLength="9.50" lengthAdjust="spacingAndGlyphs" stroke="#c8102e" stroke-width="0.10" >imm</text>
<text x="142.20" y="332.40" font-size="10.92" font-weight="bold" fill="#000" textLength="7.80" lengthAdjust="spacingAndGlyphs" >H</text>
<line x1="175.60" y1="336.10" x2="175.60" y2="427.80" stroke="#111" stroke-width="1.2" />
<line x1="173.40" y1="340.65" x2="175.60" y2="340.65" stroke="#111" stroke-width="0.9" />
<text x="158.20" y="343.51" font-size="8.48" fill="#222" textLength="12.00" lengthAdjust="spacingAndGlyphs" stroke="#222" stroke-width="0.10" >100</text>
<line x1="173.40" y1="357.96" x2="175.60" y2="357.96" stroke="#111" stroke-width="0.9" />
<text x="162.20" y="360.82" font-size="8.48" fill="#222" textLength="8.00" lengthAdjust="spacingAndGlyphs" stroke="#222" stroke-width="0.10" >80</text>
<line x1="173.40" y1="375.27" x2="175.60" y2="375.27" stroke="#111" stroke-width="0.9" />
<text x="162.20" y="378.13" font-size="8.48" fill="#222" textLength="8.00" lengthAdjust="spacingAndGlyphs" stroke="#222" stroke-width="0.10" >60</text>
<line x1="173.40" y1="392.58" x2="175.60" y2="392.58" stroke="#111" stroke-width="0.9" />
<text x="162.20" y="395.44" font-size="8.48" fill="#222" textLength="8.00" lengthAdjust="spacingAndGlyphs" stroke="#222" stroke-width="0.10" >40</text>
<line x1="173.40" y1="409.89" x2="175.60" y2="409.89" stroke="#111" stroke-width="0.9" />
<text x="162.20" y="412.75" font-size="8.48" fill="#222" textLength="8.00" lengthAdjust="spacingAndGlyphs" stroke="#222" stroke-width="0.10" >20</text>
<line x1="173.40" y1="427.20" x2="175.60" y2="427.20" stroke="#111" stroke-width="0.9" />
<text x="166.20" y="430.06" font-size="8.48" fill="#222" textLength="4.00" lengthAdjust="spacingAndGlyphs" stroke="#222" stroke-width="0.10" >0</text>
<line x1="175.00" y1="427.20" x2="405.60" y2="427.20" stroke="#111" stroke-width="1.2" />
<text x="152.80" y="415.20" font-size="9.22" fill="#222" textLength="46.93" lengthAdjust="spacingAndGlyphs" transform="rotate(-90 152.80 415.20)" stroke="#222" stroke-width="0.22" >Freq. of CD56</text>
<text x="149.67" y="368.27" font-size="5.72" fill="#222" textLength="7.32" lengthAdjust="spacingAndGlyphs" transform="rotate(-90 149.67 368.27)" stroke="#222" stroke-width="0.10" >dim</text>
<text x="152.80" y="358.72" font-size="9.22" fill="#222" textLength="11.62" lengthAdjust="spacingAndGlyphs" transform="rotate(-90 152.80 358.72)" stroke="#222" stroke-width="0.22" >(%)</text>
<line x1="210.20" y1="351.50" x2="226.00" y2="351.50" stroke="#000" stroke-width="1" />
<text x="214.40" y="350.90" font-size="7.21" font-weight="bold" textLength="6.40" lengthAdjust="spacingAndGlyphs" >**</text>
<line x1="355.00" y1="351.50" x2="370.60" y2="351.50" stroke="#000" stroke-width="1" />
<text x="359.60" y="350.90" font-size="7.21" font-weight="bold" textLength="6.40" lengthAdjust="spacingAndGlyphs" >**</text>
<path d="M181.70,389.20 L181.70,390.00 L182.30,400.00 L183.50,403.00 L184.30,405.00 L184.40,410.00 L184.40,418.00 L184.10,421.00 L183.00,423.20 L181.70,423.60 L181.30,423.60 L180.00,423.20 L178.90,421.00 L178.60,418.00 L178.60,410.00 L178.70,405.00 L179.50,403.00 L180.70,400.00 L181.30,390.00 L181.30,389.20Z" fill="#fff" stroke="#111" stroke-width="0.6" />
<line x1="178.65" y1="407.50" x2="184.35" y2="407.50" stroke="#444" stroke-width="0.45" />
<line x1="178.80" y1="420.00" x2="184.20" y2="420.00" stroke="#444" stroke-width="0.45" />
<line x1="178.60" y1="413.70" x2="184.40" y2="413.70" stroke="#e0102e" stroke-width="2.0" />
<path d="M188.70,387.10 L188.70,388.00 L188.70,400.00 L190.10,403.00 L189.70,406.00 L190.50,409.00 L190.90,413.00 L190.60,416.00 L189.90,419.00 L189.20,423.00 L188.70,424.40 L188.30,424.40 L187.80,423.00 L187.10,419.00 L186.40,416.00 L186.10,413.00 L186.50,409.00 L187.30,406.00 L186.90,403.00 L188.30,400.00 L188.30,388.00 L188.30,387.10Z" fill="#fff" stroke="#111" stroke-width="0.6" />
<line x1="187.30" y1="406.00" x2="189.70" y2="406.00" stroke="#444" stroke-width="0.45" />
<line x1="186.63" y1="417.00" x2="190.37" y2="417.00" stroke="#444" stroke-width="0.45" />
<line x1="186.17" y1="413.70" x2="190.83" y2="413.70" stroke="#e0102e" stroke-width="2.0" />
<path d="M195.70,381.40 L196.30,382.50 L196.20,394.00 L197.30,397.00 L197.80,400.00 L197.30,403.00 L198.10,406.00 L198.40,410.00 L198.40,414.00 L198.00,418.00 L196.90,421.00 L195.70,421.90 L195.30,421.90 L194.10,421.00 L193.00,418.00 L192.60,414.00 L192.60,410.00 L192.90,406.00 L193.70,403.00 L193.20,400.00 L193.70,397.00 L194.80,394.00 L194.70,382.50 L195.30,381.40Z" fill="url(#dkv)" stroke="#111" stroke-width="0.6" />
<line x1="193.43" y1="404.00" x2="197.57" y2="404.00" stroke="#bbb" stroke-width="0.45" />
<line x1="192.60" y1="413.70" x2="198.40" y2="413.70" stroke="#e0102e" stroke-width="2.0" />
<path d="M210.70,403.20 L211.60,404.00 L210.70,406.00 L211.60,409.00 L212.60,412.00 L212.90,416.00 L212.90,419.00 L211.90,421.00 L212.60,423.00 L212.00,424.20 L210.70,424.70 L210.30,424.70 L209.00,424.20 L208.40,423.00 L209.10,421.00 L208.10,419.00 L208.10,416.00 L208.40,412.00 L209.40,409.00 L210.30,406.00 L209.40,404.00 L210.30,403.20Z" fill="#fff" stroke="#111" stroke-width="0.6" />
<line x1="208.73" y1="411.00" x2="212.27" y2="411.00" stroke="#444" stroke-width="0.45" />
<line x1="208.10" y1="417.10" x2="212.90" y2="417.10" stroke="#e0102e" stroke-width="2.0" />
<path d="M217.70,390.90 L218.20,392.00 L218.70,400.00 L219.40,405.00 L219.80,411.00 L220.00,415.00 L219.90,419.00 L219.70,421.50 L217.70,422.90 L217.30,422.90 L215.30,421.50 L215.10,419.00 L215.00,415.00 L215.20,411.00 L215.60,405.00 L216.30,400.00 L216.80,392.00 L217.30,390.90Z" fill="#fff" stroke="#111" stroke-width="0.6" />
<line x1="216.08" y1="401.60" x2="218.92" y2="401.60" stroke="#444" stroke-width="0.45" />
<line x1="215.14" y1="419.50" x2="219.86" y2="419.50" stroke="#444" stroke-width="0.45" />
<line x1="215.04" y1="414.10" x2="219.96" y2="414.10" stroke="#e0102e" stroke-width="2.0" />
<path d="M225.70,384.60 L228.70,385.00 L228.50,389.00 L227.10,393.00 L227.30,397.00 L228.30,402.00 L228.40,407.00 L228.40,414.00 L228.10,419.00 L225.70,420.40 L225.30,420.40 L222.90,419.00 L222.60,414.00 L222.60,407.00 L222.70,402.00 L223.70,397.00 L223.90,393.00 L222.50,389.00 L222.30,385.00 L225.30,384.60Z" fill="url(#dkv)" stroke="#111" stroke-width="0.6" />
<line x1="223.75" y1="396.00" x2="227.25" y2="396.00" stroke="#bbb" stroke-width="0.45" />
<line x1="222.62" y1="406.10" x2="228.38" y2="406.10" stroke="#e0102e" stroke-width="2.0" />
<path d="M239.70,411.10 L239.70,412.00 L239.70,418.00 L241.10,420.50 L241.70,423.00 L241.50,425.00 L239.70,425.80 L239.30,425.80 L237.50,425.00 L237.30,423.00 L237.90,420.50 L239.30,418.00 L239.30,412.00 L239.30,411.10Z" fill="#fff" stroke="#111" stroke-width="0.6" />
<line x1="237.43" y1="424.30" x2="241.57" y2="424.30" stroke="#e0102e" stroke-width="2.3" />
<path d="M246.70,402.70 L246.70,403.50 L247.20,415.00 L248.00,418.00 L248.90,421.00 L249.00,424.00 L248.30,425.60 L246.70,426.20 L246.30,426.20 L244.70,425.60 L244.00,424.00 L244.10,421.00 L245.00,418.00 L245.80,415.00 L246.30,403.50 L246.30,402.70Z" fill="#fff" stroke="#111" stroke-width="0.6" />
<line x1="245.00" y1="418.00" x2="248.00" y2="418.00" stroke="#444" stroke-width="0.45" />
<line x1="244.01" y1="423.80" x2="248.99" y2="423.80" stroke="#e0102e" stroke-width="2.3" />
<path d="M253.70,399.40 L254.40,400.00 L253.70,401.00 L253.70,409.00 L255.00,411.00 L255.80,414.00 L256.20,418.00 L256.10,422.00 L255.10,425.00 L253.70,425.80 L253.30,425.80 L251.90,425.00 L250.90,422.00 L250.80,418.00 L251.20,414.00 L252.00,411.00 L253.30,409.00 L253.30,401.00 L252.60,400.00 L253.30,399.40Z" fill="url(#dkv)" stroke="#111" stroke-width="0.6" />
<line x1="250.87" y1="420.60" x2="256.13" y2="420.60" stroke="#e0102e" stroke-width="2.3" />
<path d="M268.70,391.50 L269.70,392.00 L270.40,395.00 L270.40,400.00 L269.80,404.00 L270.30,408.00 L270.40,410.00 L269.80,413.00 L269.30,416.00 L270.40,418.00 L270.30,421.00 L268.70,422.20 L268.30,422.20 L266.70,421.00 L266.60,418.00 L267.70,416.00 L267.20,413.00 L266.60,410.00 L266.70,408.00 L267.20,404.00 L266.60,400.00 L266.60,395.00 L267.30,392.00 L268.30,391.50Z" fill="#fff" stroke="#111" stroke-width="0.6" />
<line x1="266.65" y1="409.00" x2="270.35" y2="409.00" stroke="#e0102e" stroke-width="2.0" />
<path d="M275.70,386.70 L275.70,387.50 L276.50,395.00 L277.30,402.00 L278.10,408.00 L278.20,413.00 L277.50,418.00 L276.50,422.00 L275.70,425.60 L275.30,425.60 L274.50,422.00 L273.50,418.00 L272.80,413.00 L272.90,408.00 L273.70,402.00 L274.50,395.00 L275.30,387.50 L275.30,386.70Z" fill="#fff" stroke="#111" stroke-width="0.6" />
<line x1="273.43" y1="404.00" x2="277.57" y2="404.00" stroke="#444" stroke-width="0.45" />
<line x1="272.94" y1="414.00" x2="278.06" y2="414.00" stroke="#444" stroke-width="0.45" />
<line x1="273.50" y1="418.00" x2="277.50" y2="418.00" stroke="#444" stroke-width="0.45" />
<line x1="272.84" y1="411.10" x2="278.16" y2="411.10" stroke="#e0102e" stroke-width="2.0" />
<path d="M282.70,384.20 L282.70,385.00 L282.70,395.00 L283.70,398.00 L284.50,401.00 L284.80,405.00 L284.90,413.00 L284.80,417.00 L282.70,417.80 L282.30,417.80 L280.20,417.00 L280.10,413.00 L280.20,405.00 L280.50,401.00 L281.30,398.00 L282.30,395.00 L282.30,385.00 L282.30,384.20Z" fill="url(#dkv)" stroke="#111" stroke-width="0.6" />
<line x1="280.14" y1="409.60" x2="284.86" y2="409.60" stroke="#e0102e" stroke-width="2.0" />
<path d="M297.70,398.50 L297.70,399.50 L297.70,416.00 L298.90,420.00 L299.80,423.00 L299.90,425.50 L297.70,426.30 L297.30,426.30 L295.10,425.50 L295.20,423.00 L296.10,420.00 L297.30,416.00 L297.30,399.50 L297.30,398.50Z" fill="#fff" stroke="#111" stroke-width="0.6" />
<line x1="295.80" y1="421.00" x2="299.20" y2="421.00" stroke="#444" stroke-width="0.45" />
<line x1="295.13" y1="424.70" x2="299.87" y2="424.70" stroke="#e0102e" stroke-width="2.3" />
<path d="M304.70,383.00 L304.70,384.00 L304.70,414.00 L305.70,417.00 L306.40,419.00 L305.80,421.00 L306.80,423.00 L306.90,425.50 L304.70,426.30 L304.30,426.30 L302.10,425.50 L302.20,423.00 L303.20,421.00 L302.60,419.00 L303.30,417.00 L304.30,414.00 L304.30,384.00 L304.30,383.00Z" fill="#fff" stroke="#111" stroke-width="0.6" />
<line x1="302.14" y1="424.40" x2="306.86" y2="424.40" stroke="#e0102e" stroke-width="2.3" />
<path d="M311.70,419.40 L312.40,420.00 L311.70,421.50 L313.10,423.00 L314.00,425.00 L311.70,426.30 L311.30,426.30 L309.00,425.00 L309.90,423.00 L311.30,421.50 L310.60,420.00 L311.30,419.40Z" fill="url(#dkv)" stroke="#111" stroke-width="0.6" />
<line x1="309.13" y1="424.70" x2="313.87" y2="424.70" stroke="#e0102e" stroke-width="2.3" />
<path d="M326.70,408.20 L326.70,409.00 L326.70,416.00 L328.10,419.00 L329.00,421.00 L328.80,423.00 L327.60,424.50 L327.80,426.00 L326.70,426.50 L326.30,426.50 L325.20,426.00 L325.40,424.50 L324.20,423.00 L324.00,421.00 L324.90,419.00 L326.30,416.00 L326.30,409.00 L326.30,408.20Z" fill="#fff" stroke="#111" stroke-width="0.6" />
<line x1="324.13" y1="422.30" x2="328.87" y2="422.30" stroke="#e0102e" stroke-width="2.3" />
<path d="M333.70,406.00 L333.70,407.00 L333.70,414.00 L335.10,417.00 L334.90,419.00 L335.70,421.00 L336.00,424.00 L333.70,426.30 L333.30,426.30 L331.00,424.00 L331.30,421.00 L332.10,419.00 L331.90,417.00 L333.30,414.00 L333.30,407.00 L333.30,406.00Z" fill="#fff" stroke="#111" stroke-width="0.6" />
<line x1="332.10" y1="419.00" x2="334.90" y2="419.00" stroke="#444" stroke-width="0.45" />
<line x1="331.06" y1="423.40" x2="335.94" y2="423.40" stroke="#e0102e" stroke-width="2.3" />
<path d="M340.70,420.40 L341.20,421.00 L341.70,422.50 L342.70,424.00 L342.90,425.50 L340.70,426.50 L340.30,426.50 L338.10,425.50 L338.30,424.00 L339.30,422.50 L339.80,421.00 L340.30,420.40Z" fill="url(#dkv)" stroke="#111" stroke-width="0.6" />
<line x1="338.11" y1="425.40" x2="342.89" y2="425.40" stroke="#e0102e" stroke-width="2.3" />
<path d="M355.70,375.70 L355.70,376.50 L355.70,388.00 L356.90,392.00 L357.60,397.00 L357.30,401.00 L356.80,404.00 L357.40,407.00 L357.90,412.00 L358.00,418.00 L357.10,421.00 L355.70,421.90 L355.30,421.90 L353.90,421.00 L353.00,418.00 L353.10,412.00 L353.60,407.00 L354.20,404.00 L353.70,401.00 L353.40,397.00 L354.10,392.00 L355.30,388.00 L355.30,376.50 L355.30,375.70Z" fill="#fff" stroke="#111" stroke-width="0.6" />
<line x1="353.48" y1="398.00" x2="357.52" y2="398.00" stroke="#444" stroke-width="0.45" />
<line x1="353.05" y1="415.00" x2="357.95" y2="415.00" stroke="#444" stroke-width="0.45" />
<line x1="353.15" y1="411.50" x2="357.85" y2="411.50" stroke="#e0102e" stroke-width="2.0" />
<path d="M362.70,378.60 L362.70,379.50 L363.50,392.00 L364.00,400.00 L364.60,407.00 L364.80,413.00 L365.00,419.00 L364.30,423.00 L362.70,424.70 L362.30,424.70 L360.70,423.00 L360.00,419.00 L360.20,413.00 L360.40,407.00 L361.00,400.00 L361.50,392.00 L362.30,379.50 L362.30,378.60Z" fill="#fff" stroke="#111" stroke-width="0.6" />
<line x1="360.66" y1="404.00" x2="364.34" y2="404.00" stroke="#444" stroke-width="0.45" />
<line x1="360.07" y1="417.00" x2="364.93" y2="417.00" stroke="#444" stroke-width="0.45" />
<line x1="360.18" y1="420.00" x2="364.82" y2="420.00" stroke="#444" stroke-width="0.45" />
<line x1="360.21" y1="412.80" x2="364.79" y2="412.80" stroke="#e0102e" stroke-width="2.0" />
<path d="M369.70,403.50 L370.40,404.00 L369.70,405.00 L369.70,414.00 L371.10,416.00 L371.90,419.00 L372.00,422.00 L371.50,424.50 L370.80,426.00 L369.70,426.50 L369.30,426.50 L368.20,426.00 L367.50,424.50 L367.00,422.00 L367.10,419.00 L367.90,416.00 L369.30,414.00 L369.30,405.00 L368.60,404.00 L369.30,403.50Z" fill="url(#dkv)" stroke="#111" stroke-width="0.6" />
<line x1="367.00" y1="421.90" x2="372.00" y2="421.90" stroke="#e0102e" stroke-width="2.3" />
<path d="M383.70,410.30 L383.70,411.00 L383.70,419.00 L385.50,422.00 L385.90,424.50 L385.70,426.20 L383.70,426.60 L383.30,426.60 L381.30,426.20 L381.10,424.50 L381.50,422.00 L383.30,419.00 L383.30,411.00 L383.30,410.30Z" fill="#fff" stroke="#111" stroke-width="0.6" />
<line x1="381.12" y1="424.70" x2="385.88" y2="424.70" stroke="#e0102e" stroke-width="2.3" />
<path d="M391.70,414.90 L392.40,415.50 L391.70,417.00 L392.90,419.00 L392.70,421.00 L393.70,423.00 L393.90,425.50 L391.70,426.50 L391.30,426.50 L389.10,425.50 L389.30,423.00 L390.30,421.00 L390.10,419.00 L391.30,417.00 L390.60,415.50 L391.30,414.90Z" fill="#fff" stroke="#111" stroke-width="0.6" />
<line x1="389.20" y1="424.20" x2="393.80" y2="424.20" stroke="#e0102e" stroke-width="2.3" />
<path d="M398.70,418.40 L399.50,419.00 L398.70,420.50 L400.10,422.50 L400.90,424.50 L400.70,426.30 L398.70,426.70 L398.30,426.70 L396.30,426.30 L396.10,424.50 L396.90,422.50 L398.30,420.50 L397.50,419.00 L398.30,418.40Z" fill="url(#dkv)" stroke="#111" stroke-width="0.6" />
<line x1="396.12" y1="424.70" x2="400.88" y2="424.70" stroke="#e0102e" stroke-width="2.3" />
<text x="148.70" y="441.20" font-size="8.48" fill="#222" textLength="27.50" lengthAdjust="spacingAndGlyphs" stroke="#222" stroke-width="0.10" >NKG2A</text>
<text x="148.70" y="453.40" font-size="8.48" fill="#222" textLength="12.20" lengthAdjust="spacingAndGlyphs" stroke="#222" stroke-width="0.10" >KIR</text>
<text x="148.70" y="465.60" font-size="8.48" fill="#222" textLength="19.60" lengthAdjust="spacingAndGlyphs" stroke="#222" stroke-width="0.10" >CD57</text>
<circle cx="189.00" cy="438.10" r="3.00" fill="#fff" stroke="#111" stroke-width="0.9"/>
<circle cx="189.00" cy="450.40" r="3.00" fill="#fff" stroke="#111" stroke-width="0.9"/>
<circle cx="189.00" cy="462.70" r="3.00" fill="#fff" stroke="#111" stroke-width="0.9"/>
<circle cx="218.10" cy="438.10" r="3.30" fill="#000"/>
<circle cx="218.10" cy="450.40" r="3.00" fill="#fff" stroke="#111" stroke-width="0.9"/>
<circle cx="218.10" cy="462.70" r="3.00" fill="#fff" stroke="#111" stroke-width="0.9"/>
<circle cx="247.00" cy="438.10" r="3.30" fill="#000"/>
<circle cx="247.00" cy="450.40" r="3.30" fill="#000"/>
<circle cx="247.00" cy="462.70" r="3.00" fill="#fff" stroke="#111" stroke-width="0.9"/>
<circle cx="275.80" cy="438.10" r="3.00" fill="#fff" stroke="#111" stroke-width="0.9"/>
<circle cx="275.80" cy="450.40" r="3.30" fill="#000"/>
<circle cx="275.80" cy="462.70" r="3.00" fill="#fff" stroke="#111" stroke-width="0.9"/>
<circle cx="304.40" cy="438.10" r="3.30" fill="#000"/>
<circle cx="304.40" cy="450.40" r="3.00" fill="#fff" stroke="#111" stroke-width="0.9"/>
<circle cx="304.40" cy="462.70" r="3.30" fill="#000"/>
<circle cx="333.60" cy="438.10" r="3.00" fill="#fff" stroke="#111" stroke-width="0.9"/>
<circle cx="333.60" cy="450.40" r="3.00" fill="#fff" stroke="#111" stroke-width="0.9"/>
<circle cx="333.60" cy="462.70" r="3.30" fill="#000"/>
<circle cx="362.80" cy="438.10" r="3.00" fill="#fff" stroke="#111" stroke-width="0.9"/>
<circle cx="362.80" cy="450.40" r="3.30" fill="#000"/>
<circle cx="362.80" cy="462.70" r="3.30" fill="#000"/>
<circle cx="391.40" cy="438.10" r="3.30" fill="#000"/>
<circle cx="391.40" cy="450.40" r="3.30" fill="#000"/>
<circle cx="391.40" cy="462.70" r="3.30" fill="#000"/>
<text x="416.00" y="332.00" font-size="10.92" font-weight="bold" fill="#000" textLength="2.80" lengthAdjust="spacingAndGlyphs" >I</text>
<line x1="447.50" y1="336.60" x2="447.50" y2="427.80" stroke="#111" stroke-width="1.2" />
<line x1="445.30" y1="342.10" x2="447.50" y2="342.10" stroke="#111" stroke-width="0.9" />
<text x="429.50" y="344.96" font-size="8.48" fill="#222" textLength="12.30" lengthAdjust="spacingAndGlyphs" stroke="#222" stroke-width="0.10" >100</text>
<line x1="445.30" y1="363.38" x2="447.50" y2="363.38" stroke="#111" stroke-width="0.9" />
<text x="433.60" y="366.24" font-size="8.48" fill="#222" textLength="8.20" lengthAdjust="spacingAndGlyphs" stroke="#222" stroke-width="0.10" >75</text>
<line x1="445.30" y1="384.65" x2="447.50" y2="384.65" stroke="#111" stroke-width="0.9" />
<text x="433.60" y="387.51" font-size="8.48" fill="#222" textLength="8.20" lengthAdjust="spacingAndGlyphs" stroke="#222" stroke-width="0.10" >50</text>
<line x1="445.30" y1="405.93" x2="447.50" y2="405.93" stroke="#111" stroke-width="0.9" />
<text x="433.60" y="408.79" font-size="8.48" fill="#222" textLength="8.20" lengthAdjust="spacingAndGlyphs" stroke="#222" stroke-width="0.10" >25</text>
<line x1="445.30" y1="427.20" x2="447.50" y2="427.20" stroke="#111" stroke-width="0.9" />
<text x="437.70" y="430.06" font-size="8.48" fill="#222" textLength="4.10" lengthAdjust="spacingAndGlyphs" stroke="#222" stroke-width="0.10" >0</text>
<line x1="446.90" y1="427.20" x2="510.00" y2="427.20" stroke="#111" stroke-width="1.2" />
<text x="423.50" y="409.30" font-size="9.22" fill="#222" textLength="57.80" lengthAdjust="spacingAndGlyphs" transform="rotate(-90 423.50 409.30)" stroke="#222" stroke-width="0.22" >Freq. of group (%)</text>
<rect x="451.00" y="342.10" width="13.70" height="85.10" fill="#fff" stroke="#555" stroke-width="0.9" />
<rect x="451.00" y="402.30" width="13.70" height="24.90" fill="#000" stroke="#111" stroke-width="0.9" />
<rect x="471.40" y="342.10" width="13.90" height="85.10" fill="#fff" stroke="#555" stroke-width="0.9" />
<rect x="471.40" y="401.10" width="13.90" height="26.10" fill="#000" stroke="#111" stroke-width="0.9" />
<rect x="492.40" y="342.10" width="13.90" height="85.10" fill="#fff" stroke="#555" stroke-width="0.9" />
<text x="418.30" y="438.10" font-size="8.16" fill="#222" textLength="17.30" lengthAdjust="spacingAndGlyphs" stroke="#222" stroke-width="0.10" >CMV</text>
<text x="435.80" y="434.60" font-size="5.83" fill="#222" textLength="3.00" lengthAdjust="spacingAndGlyphs" stroke="#222" stroke-width="0.10" >+</text>
<text x="438.80" y="438.10" font-size="8.16" fill="#222" textLength="2.20" lengthAdjust="spacingAndGlyphs" stroke="#222" stroke-width="0.10" >:</text>
<text x="451.90" y="438.10" font-size="8.16" fill="#222" textLength="11.10" lengthAdjust="spacingAndGlyphs" stroke="#222" stroke-width="0.10" >HD</text>
<text x="473.10" y="438.10" font-size="8.16" fill="#222" textLength="10.40" lengthAdjust="spacingAndGlyphs" stroke="#222" stroke-width="0.10" >NP</text>
<text x="486.90" y="438.10" font-size="8.16" fill="#c8102e" textLength="11.60" lengthAdjust="spacingAndGlyphs" stroke="#c8102e" stroke-width="0.10" >NK</text>
<text x="498.70" y="434.60" font-size="5.83" fill="#c8102e" textLength="9.60" lengthAdjust="spacingAndGlyphs" stroke="#c8102e" stroke-width="0.10" >imm</text>
<text x="508.20" y="434.60" font-size="5.83" fill="#222" textLength="2.60" lengthAdjust="spacingAndGlyphs" stroke="#222" stroke-width="0.10" >*</text>
<rect x="447.30" y="447.20" width="6.40" height="6.80" fill="#fff" stroke="#333" stroke-width="0.9" />
<rect x="447.30" y="460.30" width="6.40" height="6.60" fill="#000" stroke="#000" stroke-width="0.9" />
<text x="456.30" y="453.20" font-size="8.06" fill="#222" textLength="29.50" lengthAdjust="spacingAndGlyphs" stroke="#222" stroke-width="0.10" >w/o aNK</text>
<text x="456.30" y="465.60" font-size="8.06" fill="#222" textLength="21.70" lengthAdjust="spacingAndGlyphs" stroke="#222" stroke-width="0.10" >w aNK</text>
<rect x="0.50" y="0.50" width="519.00" height="473.00" fill="none" stroke="#000" stroke-width="1.2" />
</svg></body></html>
